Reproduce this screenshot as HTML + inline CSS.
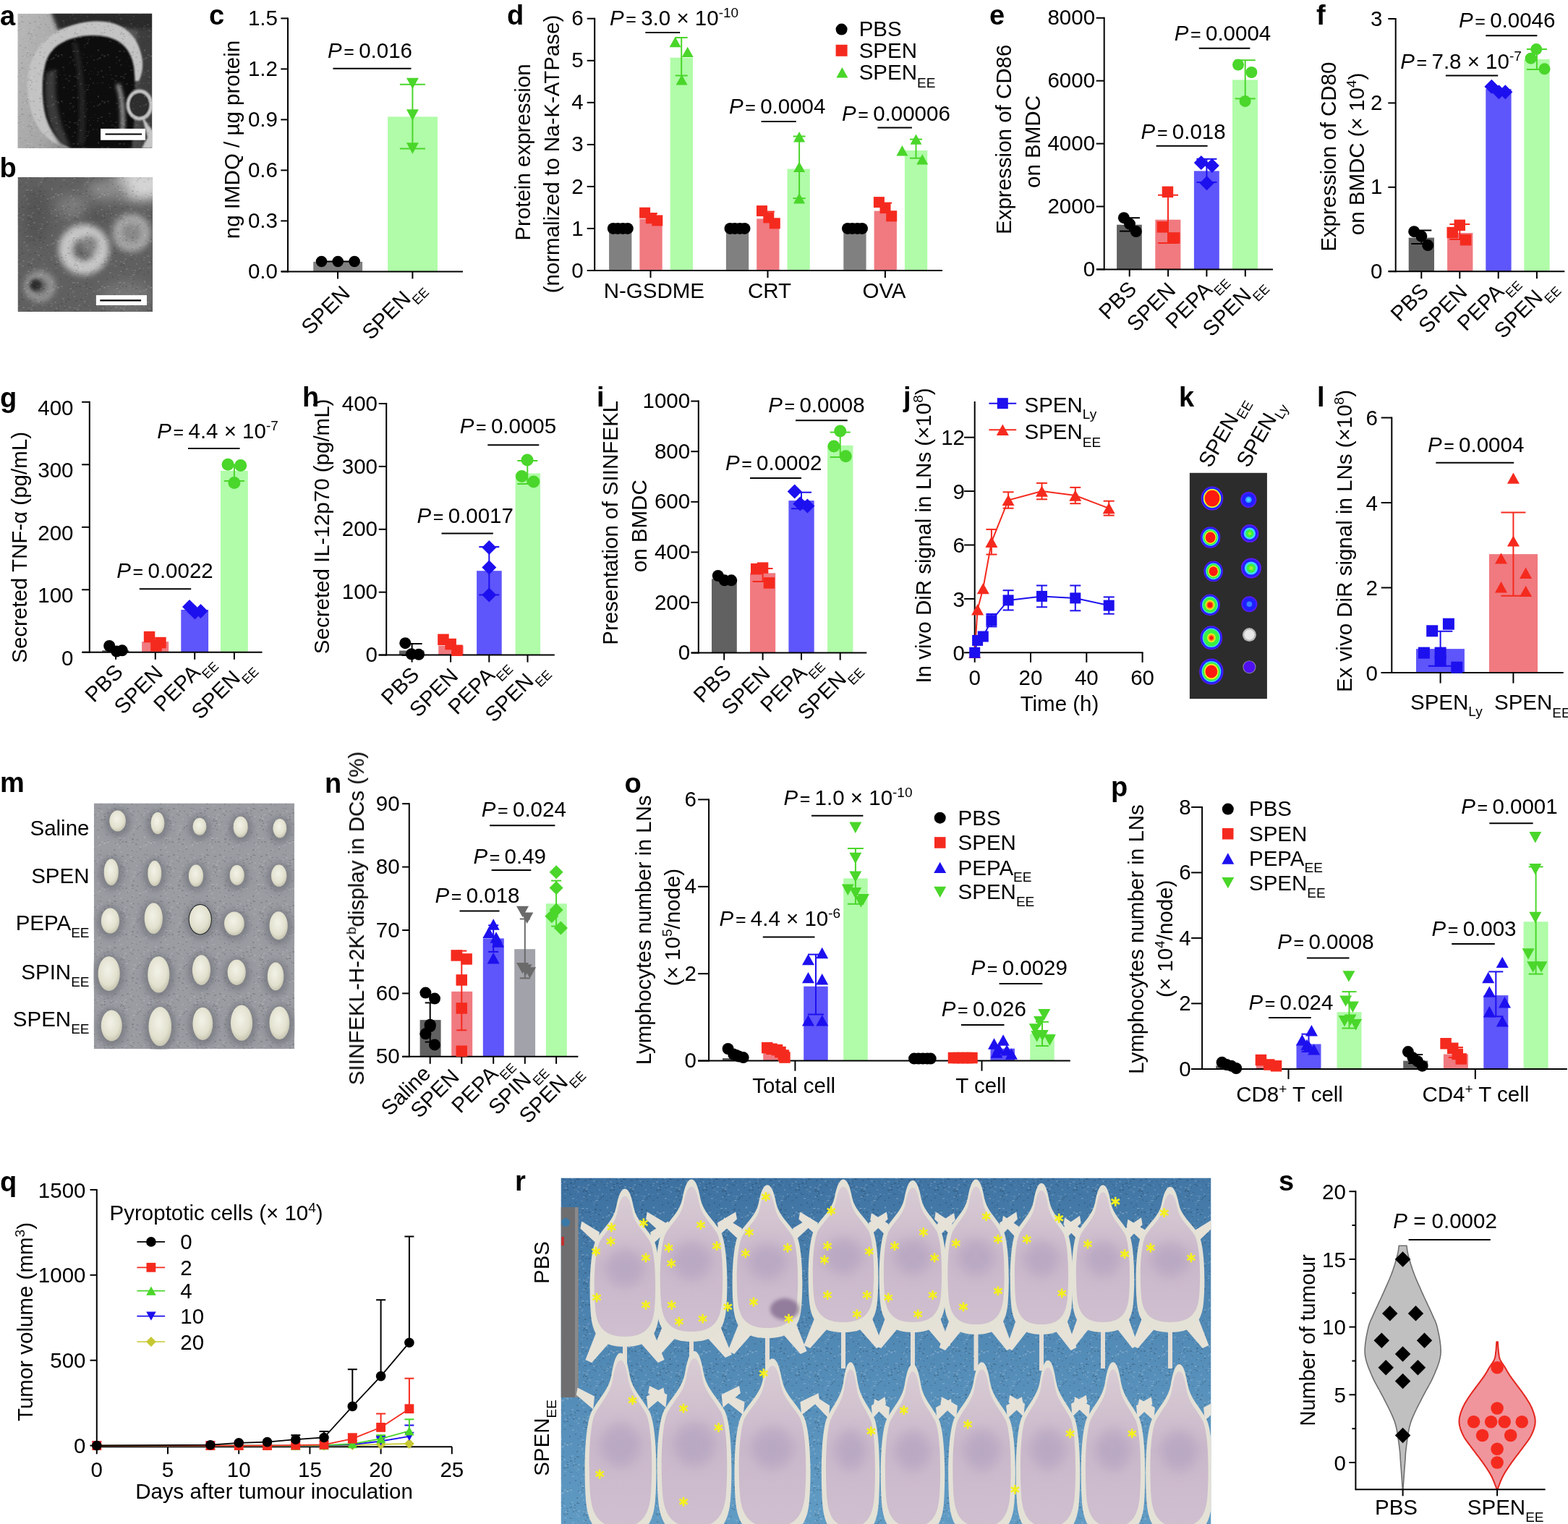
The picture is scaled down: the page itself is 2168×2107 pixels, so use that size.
<!DOCTYPE html>
<html><head><meta charset="utf-8"><title>Figure</title>
<style>
html,body{margin:0;padding:0;background:#fff;}
body{width:2168px;height:2107px;overflow:hidden;}
svg{display:block;font-family:"Liberation Sans",Arial,Helvetica,sans-serif;}
</style></head><body>
<svg xmlns="http://www.w3.org/2000/svg" width="2168" height="2107" viewBox="0 0 2168 2107">
<defs>
<clipPath id="clipA"><rect x="24.3" y="18.8" width="185.9" height="186.1"/></clipPath>
<clipPath id="clipB"><rect x="24.5" y="245" width="186.7" height="186.1"/></clipPath>
<clipPath id="clipM"><rect x="129.8" y="1110.4" width="277.3" height="339.8"/></clipPath>
<clipPath id="clipR"><rect x="775.5" y="1628.5" width="899" height="478.5"/></clipPath>
<linearGradient id="gA" x1="0" y1="0" x2="1" y2="0.3">
<stop offset="0" stop-color="#b8b8b8"/><stop offset="0.45" stop-color="#a4a4a4"/><stop offset="0.8" stop-color="#5a5a5a"/><stop offset="1" stop-color="#4a4a4a"/></linearGradient>
<radialGradient id="gNode" cx="0.45" cy="0.4" r="0.6">
<stop offset="0" stop-color="#f2f2e8"/><stop offset="0.7" stop-color="#e2e1cf"/><stop offset="1" stop-color="#c8c6b2"/></radialGradient>
<linearGradient id="gBlue" x1="0" y1="0" x2="0.15" y2="1">
<stop offset="0" stop-color="#3c70a0"/><stop offset="0.5" stop-color="#5088b4"/><stop offset="1" stop-color="#609bc4"/></linearGradient>
<linearGradient id="gMouse" x1="0" y1="0" x2="0" y2="1">
<stop offset="0" stop-color="#d9ccd4"/><stop offset="0.5" stop-color="#cab8cb"/><stop offset="1" stop-color="#cfbfcf"/></linearGradient>
<filter id="blur1" x="-20%" y="-20%" width="140%" height="140%"><feGaussianBlur stdDeviation="1.2"/></filter>
<filter id="blur2" x="-30%" y="-30%" width="160%" height="160%"><feGaussianBlur stdDeviation="2.5"/></filter>
<filter id="blur3" x="-30%" y="-30%" width="160%" height="160%"><feGaussianBlur stdDeviation="4"/></filter>
<filter id="blur6" x="-50%" y="-50%" width="200%" height="200%"><feGaussianBlur stdDeviation="8"/></filter>
<pattern id="noise" width="64" height="64" patternUnits="userSpaceOnUse">
<rect width="64" height="64" fill="none"/>
<rect x="15" y="37" width="3" height="1" fill="#000" opacity="0.5"/>
<rect x="58" y="38" width="2" height="1" fill="#fff" opacity="0.5"/>
<rect x="58" y="53" width="2" height="2" fill="#fff" opacity="0.5"/>
<rect x="12" y="45" width="2" height="2" fill="#000" opacity="0.5"/>
<rect x="40" y="55" width="1" height="1" fill="#fff" opacity="0.5"/>
<rect x="55" y="59" width="3" height="2" fill="#fff" opacity="0.5"/>
<rect x="42" y="49" width="1" height="1" fill="#fff" opacity="0.5"/>
<rect x="19" y="49" width="1" height="2" fill="#000" opacity="0.5"/>
<rect x="38" y="46" width="2" height="2" fill="#000" opacity="0.5"/>
<rect x="46" y="51" width="3" height="2" fill="#fff" opacity="0.5"/>
<rect x="56" y="23" width="1" height="1" fill="#fff" opacity="0.5"/>
<rect x="31" y="13" width="2" height="2" fill="#000" opacity="0.5"/>
<rect x="26" y="32" width="2" height="2" fill="#000" opacity="0.5"/>
<rect x="37" y="14" width="2" height="1" fill="#000" opacity="0.5"/>
<rect x="38" y="42" width="3" height="1" fill="#000" opacity="0.5"/>
<rect x="61" y="34" width="3" height="1" fill="#fff" opacity="0.5"/>
<rect x="40" y="53" width="3" height="2" fill="#000" opacity="0.5"/>
<rect x="7" y="4" width="2" height="2" fill="#fff" opacity="0.5"/>
<rect x="22" y="51" width="1" height="2" fill="#fff" opacity="0.5"/>
<rect x="1" y="18" width="2" height="2" fill="#fff" opacity="0.5"/>
<rect x="2" y="38" width="3" height="1" fill="#000" opacity="0.5"/>
<rect x="45" y="37" width="2" height="2" fill="#fff" opacity="0.5"/>
<rect x="2" y="19" width="1" height="1" fill="#fff" opacity="0.5"/>
<rect x="38" y="34" width="1" height="1" fill="#000" opacity="0.5"/>
<rect x="18" y="39" width="2" height="1" fill="#fff" opacity="0.5"/>
<rect x="62" y="55" width="2" height="2" fill="#000" opacity="0.5"/>
<rect x="61" y="8" width="2" height="2" fill="#000" opacity="0.5"/>
<rect x="55" y="33" width="2" height="1" fill="#000" opacity="0.5"/>
<rect x="27" y="40" width="3" height="1" fill="#000" opacity="0.5"/>
<rect x="27" y="62" width="2" height="2" fill="#000" opacity="0.5"/>
<rect x="0" y="50" width="2" height="2" fill="#fff" opacity="0.5"/>
<rect x="24" y="39" width="3" height="1" fill="#fff" opacity="0.5"/>
<rect x="40" y="40" width="2" height="2" fill="#000" opacity="0.5"/>
<rect x="43" y="58" width="2" height="2" fill="#000" opacity="0.5"/>
<rect x="1" y="37" width="1" height="1" fill="#000" opacity="0.5"/>
<rect x="16" y="40" width="2" height="2" fill="#000" opacity="0.5"/>
<rect x="11" y="23" width="1" height="2" fill="#000" opacity="0.5"/>
<rect x="54" y="38" width="2" height="2" fill="#000" opacity="0.5"/>
<rect x="6" y="49" width="1" height="1" fill="#000" opacity="0.5"/>
<rect x="32" y="14" width="3" height="2" fill="#fff" opacity="0.5"/>
<rect x="20" y="11" width="3" height="2" fill="#fff" opacity="0.5"/>
<rect x="6" y="38" width="2" height="2" fill="#fff" opacity="0.5"/>
<rect x="28" y="51" width="1" height="1" fill="#000" opacity="0.5"/>
<rect x="47" y="41" width="1" height="2" fill="#000" opacity="0.5"/>
<rect x="14" y="50" width="1" height="1" fill="#fff" opacity="0.5"/>
<rect x="20" y="51" width="3" height="1" fill="#000" opacity="0.5"/>
<rect x="21" y="51" width="3" height="1" fill="#000" opacity="0.5"/>
<rect x="37" y="8" width="2" height="2" fill="#000" opacity="0.5"/>
<rect x="29" y="22" width="3" height="2" fill="#000" opacity="0.5"/>
<rect x="26" y="36" width="2" height="1" fill="#000" opacity="0.5"/>
<rect x="9" y="12" width="1" height="2" fill="#000" opacity="0.5"/>
<rect x="35" y="60" width="3" height="1" fill="#fff" opacity="0.5"/>
<rect x="47" y="29" width="3" height="2" fill="#000" opacity="0.5"/>
<rect x="56" y="14" width="1" height="2" fill="#fff" opacity="0.5"/>
<rect x="51" y="15" width="1" height="1" fill="#fff" opacity="0.5"/>
<rect x="57" y="56" width="2" height="1" fill="#fff" opacity="0.5"/>
<rect x="30" y="47" width="1" height="1" fill="#000" opacity="0.5"/>
<rect x="15" y="42" width="1" height="2" fill="#fff" opacity="0.5"/>
<rect x="60" y="58" width="3" height="1" fill="#000" opacity="0.5"/>
<rect x="8" y="16" width="3" height="2" fill="#fff" opacity="0.5"/>
<rect x="22" y="14" width="1" height="1" fill="#fff" opacity="0.5"/>
<rect x="10" y="15" width="2" height="1" fill="#fff" opacity="0.5"/>
<rect x="31" y="40" width="3" height="2" fill="#fff" opacity="0.5"/>
<rect x="48" y="17" width="1" height="2" fill="#000" opacity="0.5"/>
<rect x="3" y="30" width="2" height="1" fill="#fff" opacity="0.5"/>
<rect x="49" y="8" width="1" height="1" fill="#fff" opacity="0.5"/>
<rect x="4" y="30" width="1" height="1" fill="#000" opacity="0.5"/>
<rect x="20" y="10" width="2" height="1" fill="#000" opacity="0.5"/>
<rect x="24" y="41" width="2" height="2" fill="#000" opacity="0.5"/>
<rect x="16" y="12" width="2" height="2" fill="#fff" opacity="0.5"/>
<rect x="8" y="35" width="1" height="2" fill="#fff" opacity="0.5"/>
<rect x="36" y="11" width="1" height="2" fill="#000" opacity="0.5"/>
<rect x="38" y="41" width="3" height="2" fill="#fff" opacity="0.5"/>
<rect x="39" y="56" width="2" height="1" fill="#000" opacity="0.5"/>
<rect x="40" y="31" width="3" height="2" fill="#000" opacity="0.5"/>
<rect x="60" y="44" width="2" height="2" fill="#fff" opacity="0.5"/>
<rect x="15" y="13" width="3" height="2" fill="#fff" opacity="0.5"/>
<rect x="51" y="27" width="1" height="2" fill="#fff" opacity="0.5"/>
<rect x="56" y="1" width="2" height="2" fill="#000" opacity="0.5"/>
<rect x="7" y="29" width="3" height="1" fill="#000" opacity="0.5"/>
<rect x="42" y="6" width="3" height="2" fill="#fff" opacity="0.5"/>
<rect x="51" y="37" width="3" height="1" fill="#000" opacity="0.5"/>
<rect x="9" y="15" width="2" height="1" fill="#fff" opacity="0.5"/>
<rect x="36" y="6" width="3" height="2" fill="#fff" opacity="0.5"/>
<rect x="52" y="1" width="2" height="1" fill="#fff" opacity="0.5"/>
<rect x="54" y="7" width="3" height="2" fill="#000" opacity="0.5"/>
<rect x="37" y="19" width="1" height="1" fill="#fff" opacity="0.5"/>
<rect x="6" y="35" width="3" height="1" fill="#fff" opacity="0.5"/>
<rect x="35" y="20" width="3" height="1" fill="#fff" opacity="0.5"/>
<rect x="15" y="11" width="3" height="1" fill="#000" opacity="0.5"/>
<rect x="39" y="44" width="2" height="2" fill="#000" opacity="0.5"/>
<rect x="38" y="25" width="2" height="2" fill="#fff" opacity="0.5"/>
<rect x="24" y="32" width="1" height="2" fill="#fff" opacity="0.5"/>
<rect x="26" y="44" width="3" height="2" fill="#fff" opacity="0.5"/>
<rect x="41" y="25" width="1" height="1" fill="#fff" opacity="0.5"/>
<rect x="31" y="47" width="2" height="2" fill="#fff" opacity="0.5"/>
<rect x="8" y="17" width="1" height="1" fill="#000" opacity="0.5"/>
<rect x="59" y="14" width="3" height="2" fill="#000" opacity="0.5"/>
<rect x="38" y="54" width="3" height="2" fill="#fff" opacity="0.5"/>
<rect x="19" y="1" width="2" height="2" fill="#000" opacity="0.5"/>
<rect x="12" y="11" width="3" height="2" fill="#fff" opacity="0.5"/>
<rect x="20" y="30" width="1" height="2" fill="#000" opacity="0.5"/>
<rect x="44" y="38" width="1" height="2" fill="#fff" opacity="0.5"/>
<rect x="30" y="46" width="1" height="2" fill="#fff" opacity="0.5"/>
<rect x="29" y="58" width="1" height="1" fill="#fff" opacity="0.5"/>
<rect x="61" y="13" width="2" height="1" fill="#fff" opacity="0.5"/>
<rect x="49" y="16" width="1" height="1" fill="#fff" opacity="0.5"/>
<rect x="57" y="59" width="2" height="1" fill="#fff" opacity="0.5"/>
<rect x="20" y="11" width="2" height="1" fill="#fff" opacity="0.5"/>
<rect x="7" y="5" width="2" height="2" fill="#fff" opacity="0.5"/>
<rect x="22" y="28" width="3" height="2" fill="#fff" opacity="0.5"/>
<rect x="1" y="21" width="2" height="2" fill="#000" opacity="0.5"/>
<rect x="31" y="4" width="1" height="2" fill="#000" opacity="0.5"/>
<rect x="8" y="34" width="2" height="1" fill="#000" opacity="0.5"/>
<rect x="4" y="42" width="2" height="1" fill="#000" opacity="0.5"/>
<rect x="56" y="33" width="2" height="1" fill="#000" opacity="0.5"/>
<rect x="43" y="49" width="2" height="2" fill="#000" opacity="0.5"/>
<rect x="42" y="43" width="3" height="2" fill="#fff" opacity="0.5"/>
<rect x="48" y="60" width="2" height="1" fill="#000" opacity="0.5"/>
<rect x="32" y="22" width="1" height="2" fill="#fff" opacity="0.5"/>
<rect x="41" y="41" width="3" height="1" fill="#fff" opacity="0.5"/>
<rect x="23" y="56" width="3" height="2" fill="#fff" opacity="0.5"/>
<rect x="6" y="59" width="3" height="1" fill="#000" opacity="0.5"/>
<rect x="41" y="46" width="3" height="2" fill="#000" opacity="0.5"/>
<rect x="41" y="11" width="2" height="2" fill="#000" opacity="0.5"/>
<rect x="50" y="11" width="3" height="1" fill="#fff" opacity="0.5"/>
<rect x="45" y="11" width="3" height="2" fill="#000" opacity="0.5"/>
<rect x="6" y="17" width="2" height="2" fill="#fff" opacity="0.5"/>
<rect x="55" y="8" width="1" height="2" fill="#000" opacity="0.5"/>
<rect x="15" y="44" width="3" height="2" fill="#000" opacity="0.5"/>
<rect x="60" y="25" width="2" height="1" fill="#000" opacity="0.5"/>
<rect x="31" y="54" width="1" height="1" fill="#000" opacity="0.5"/>
<rect x="37" y="6" width="3" height="1" fill="#fff" opacity="0.5"/>
<rect x="11" y="44" width="1" height="2" fill="#000" opacity="0.5"/>
<rect x="52" y="62" width="3" height="1" fill="#fff" opacity="0.5"/>
<rect x="55" y="25" width="1" height="1" fill="#fff" opacity="0.5"/>
<rect x="12" y="55" width="2" height="2" fill="#000" opacity="0.5"/>
<rect x="1" y="53" width="2" height="2" fill="#000" opacity="0.5"/>
<rect x="20" y="35" width="3" height="2" fill="#000" opacity="0.5"/>
<rect x="62" y="33" width="3" height="2" fill="#000" opacity="0.5"/>
<rect x="1" y="38" width="1" height="1" fill="#fff" opacity="0.5"/>
<rect x="49" y="48" width="3" height="1" fill="#000" opacity="0.5"/>
<rect x="11" y="33" width="3" height="2" fill="#fff" opacity="0.5"/>
<rect x="12" y="50" width="3" height="1" fill="#fff" opacity="0.5"/>
<rect x="52" y="32" width="3" height="2" fill="#fff" opacity="0.5"/>
<rect x="36" y="18" width="3" height="1" fill="#fff" opacity="0.5"/>
<rect x="29" y="50" width="1" height="1" fill="#fff" opacity="0.5"/>
<rect x="23" y="39" width="1" height="1" fill="#000" opacity="0.5"/>
<rect x="34" y="1" width="2" height="2" fill="#000" opacity="0.5"/>
<rect x="55" y="22" width="3" height="1" fill="#fff" opacity="0.5"/>
<rect x="54" y="53" width="3" height="1" fill="#fff" opacity="0.5"/>
<rect x="47" y="21" width="1" height="1" fill="#fff" opacity="0.5"/>
<rect x="27" y="44" width="1" height="2" fill="#000" opacity="0.5"/>
<rect x="6" y="50" width="1" height="2" fill="#fff" opacity="0.5"/>
<rect x="54" y="12" width="3" height="1" fill="#000" opacity="0.5"/>
<rect x="31" y="30" width="3" height="1" fill="#000" opacity="0.5"/>
<rect x="13" y="41" width="2" height="2" fill="#fff" opacity="0.5"/>
<rect x="29" y="29" width="3" height="2" fill="#000" opacity="0.5"/>
<rect x="11" y="29" width="1" height="2" fill="#000" opacity="0.5"/>
<rect x="54" y="23" width="2" height="2" fill="#000" opacity="0.5"/>
</pattern>
</defs>
<rect width="2168" height="2107" fill="#fff"/>
<text x="0" y="34.6" font-size="38" font-weight="bold">a</text>
<g clip-path="url(#clipA)">
<rect x="24.3" y="18.8" width="185.89999999999998" height="186.1" fill="url(#gA)"/>
<g filter="url(#blur2)">
<path d="M70,15 L215,15 L215,45 C180,38 120,34 80,42 Z" fill="#2c2c2c"/>
<path d="M190,40 L215,40 L215,205 L195,205 Z" fill="#3c3c3c"/>
</g>
<path d="M38,122 C35,78 62,38 122,30 C160,26 188,40 196,78 C199,92 196,104 192,112 L186,112 L120,205 L95,205 C58,196 40,166 38,122 Z" fill="#c3c3c3" filter="url(#blur1)"/>
<path d="M62,92 C68,60 98,50 128,49 C160,49 180,62 185,92 C189,125 186,170 182,205 L98,205 C80,196 65,176 61,150 C58,128 58,108 62,92 Z" fill="#111" filter="url(#blur1)"/>
<path d="M64,100 C60,130 62,170 84,200 L98,203 C80,170 74,130 78,96 Z" fill="#3a3a3a" filter="url(#blur2)"/>
<path d="M100,60 C110,100 112,150 108,200 L116,200 C120,150 116,100 106,58 Z" fill="#262626" filter="url(#blur2)"/>
<path d="M160,118 C166,130 168,160 166,185 L172,185 C174,160 172,130 165,115 Z" fill="#9a9a9a" filter="url(#blur2)"/>
<ellipse cx="193" cy="145" rx="16" ry="19" fill="none" stroke="#c8c8c8" stroke-width="5" filter="url(#blur1)"/>
<ellipse cx="193" cy="145" rx="12.5" ry="15.5" fill="#2e2e2e"/>
<path d="M196,160 L212,182 L212,205 L196,205 L204,190 Z" fill="#c6c6c6" filter="url(#blur1)"/>
<rect x="24.3" y="18.8" width="185.89999999999998" height="186.1" fill="url(#noise)" opacity="0.18"/>
</g>
<rect x="139.1" y="177.9" width="61.9" height="15.8" fill="#fff"/>
<line x1="145.6" y1="185.5" x2="196.1" y2="185.5" stroke="#000" stroke-width="2.2"/>
<text x="-0.5" y="245" font-size="38" font-weight="bold">b</text>
<g clip-path="url(#clipB)">
<rect x="24.5" y="245" width="186.7" height="186.10000000000002" fill="#606060"/>
<g filter="url(#blur6)">
<ellipse cx="195" cy="255" rx="40" ry="22" fill="#d4d4d4"/>
<ellipse cx="150" cy="262" rx="30" ry="14" fill="#8a8a8a"/>
<ellipse cx="100" cy="285" rx="22" ry="16" fill="#7c7c7c"/>
<ellipse cx="50" cy="300" rx="18" ry="40" fill="#555"/>
<ellipse cx="175" cy="410" rx="35" ry="22" fill="#747474"/>
<ellipse cx="130" cy="300" rx="18" ry="12" fill="#545454"/>
</g>
<g filter="url(#blur3)">
<circle cx="116" cy="345" r="25" fill="none" stroke="#c6c6c6" stroke-width="20"/>
<circle cx="124" cy="338" r="12" fill="#828282"/>
<circle cx="182" cy="322" r="19" fill="none" stroke="#a6a6a6" stroke-width="15"/>
<circle cx="182" cy="322" r="10" fill="#8a8a8a"/>
<circle cx="55" cy="396" r="16" fill="none" stroke="#969696" stroke-width="11"/>
</g>
<circle cx="49" cy="394" r="8" fill="#2a2a2a" filter="url(#blur2)"/>
<rect x="24.5" y="245" width="186.7" height="186.10000000000002" fill="url(#noise)" opacity="0.22"/>
</g>
<rect x="132.9" y="408.1" width="70.1" height="13.9" fill="#fff"/>
<line x1="138.3" y1="415.4" x2="195.1" y2="415.4" stroke="#000" stroke-width="2.2"/>
<text x="289" y="34.3" font-size="38" font-weight="bold">c</text>
<rect x="433.2" y="361.9" width="67.9" height="13.5" fill="#808080"/>
<rect x="536.1" y="161.4" width="68.9" height="214" fill="#b0fca8"/>
<line x1="398" y1="24.4" x2="398" y2="376.4" stroke="#000" stroke-width="2"/>
<line x1="388.3" y1="375.4" x2="398" y2="375.4" stroke="#000" stroke-width="2"/>
<text x="383.9" y="385" font-size="29.5" text-anchor="end">0.0</text>
<line x1="388.3" y1="305.4" x2="398" y2="305.4" stroke="#000" stroke-width="2"/>
<text x="383.9" y="315" font-size="29.5" text-anchor="end">0.3</text>
<line x1="388.3" y1="235.4" x2="398" y2="235.4" stroke="#000" stroke-width="2"/>
<text x="383.9" y="245" font-size="29.5" text-anchor="end">0.6</text>
<line x1="388.3" y1="165.4" x2="398" y2="165.4" stroke="#000" stroke-width="2"/>
<text x="383.9" y="175" font-size="29.5" text-anchor="end">0.9</text>
<line x1="388.3" y1="95.4" x2="398" y2="95.4" stroke="#000" stroke-width="2"/>
<text x="383.9" y="105" font-size="29.5" text-anchor="end">1.2</text>
<line x1="388.3" y1="25.4" x2="398" y2="25.4" stroke="#000" stroke-width="2"/>
<text x="383.9" y="35" font-size="29.5" text-anchor="end">1.5</text>
<line x1="389" y1="375.4" x2="640" y2="375.4" stroke="#000" stroke-width="2"/>
<line x1="467" y1="375.4" x2="467" y2="385.4" stroke="#000" stroke-width="2"/>
<line x1="570.4" y1="375.4" x2="570.4" y2="385.4" stroke="#000" stroke-width="2"/>
<line x1="444.5" y1="361.5" x2="490" y2="361.5" stroke="#000" stroke-width="2"/>
<circle cx="444.5" cy="361.5" r="7.8" fill="#000"/>
<circle cx="467.2" cy="361.5" r="7.8" fill="#000"/>
<circle cx="490.1" cy="361.5" r="7.8" fill="#000"/>
<line x1="570.4" y1="116.8" x2="570.4" y2="205.6" stroke="#4ad62a" stroke-width="2"/>
<line x1="552.9" y1="116.8" x2="587.9" y2="116.8" stroke="#4ad62a" stroke-width="2"/>
<line x1="552.9" y1="205.6" x2="587.9" y2="205.6" stroke="#4ad62a" stroke-width="2"/>
<polygon points="561.9,107.8 578.9,107.8 570.4,123.1" fill="#4ad62a"/>
<polygon points="561.9,151.3 578.9,151.3 570.4,166.7" fill="#4ad62a"/>
<polygon points="561.9,197.3 578.9,197.3 570.4,212.7" fill="#4ad62a"/>
<text x="453" y="79.5" font-size="29.5"><tspan font-style="italic">P</tspan><tspan dx="2.6" font-size="25">=</tspan><tspan dx="6.3">0.016</tspan></text>
<line x1="460.4" y1="94.7" x2="568.5" y2="94.7" stroke="#000" stroke-width="2"/>
<text transform="translate(485.5,407.5) rotate(-45)" font-size="29.5" text-anchor="end">SPEN</text>
<text transform="translate(569.5,414.5) rotate(-45)" font-size="29.5" text-anchor="end">SPEN</text>
<text transform="translate(569.5,414.5) rotate(-45)" x="0" y="11" font-size="18">EE</text>
<text transform="translate(331.4,193) rotate(-90)" font-size="29.5" text-anchor="middle">ng IMDQ / µg protein</text>
<text x="701" y="34.3" font-size="38" font-weight="bold">d</text>
<rect x="842.1" y="315.9" width="31.3" height="58.1" fill="#808080"/>
<rect x="884.4" y="302.6" width="31.3" height="71.4" fill="#f07a80"/>
<rect x="926.7" y="79.7" width="31.3" height="294.3" fill="#b0fca8"/>
<rect x="1003.9" y="315.9" width="31.3" height="58.1" fill="#808080"/>
<rect x="1046.2" y="302.4" width="31.3" height="71.6" fill="#f07a80"/>
<rect x="1088.5" y="233.5" width="31.3" height="140.5" fill="#b0fca8"/>
<rect x="1166.3" y="315.9" width="31.3" height="58.1" fill="#808080"/>
<rect x="1208.6" y="291.6" width="31.3" height="82.4" fill="#f07a80"/>
<rect x="1250.9" y="208" width="31.3" height="166" fill="#b0fca8"/>
<line x1="822.2" y1="24.7" x2="822.2" y2="375" stroke="#000" stroke-width="2"/>
<line x1="811.7" y1="374" x2="822.2" y2="374" stroke="#000" stroke-width="2"/>
<text x="806.7" y="383.6" font-size="29.5" text-anchor="end">0</text>
<line x1="811.7" y1="315.9" x2="822.2" y2="315.9" stroke="#000" stroke-width="2"/>
<text x="806.7" y="325.5" font-size="29.5" text-anchor="end">1</text>
<line x1="811.7" y1="257.9" x2="822.2" y2="257.9" stroke="#000" stroke-width="2"/>
<text x="806.7" y="267.5" font-size="29.5" text-anchor="end">2</text>
<line x1="811.7" y1="199.9" x2="822.2" y2="199.9" stroke="#000" stroke-width="2"/>
<text x="806.7" y="209.4" font-size="29.5" text-anchor="end">3</text>
<line x1="811.7" y1="141.8" x2="822.2" y2="141.8" stroke="#000" stroke-width="2"/>
<text x="806.7" y="151.4" font-size="29.5" text-anchor="end">4</text>
<line x1="811.7" y1="83.8" x2="822.2" y2="83.8" stroke="#000" stroke-width="2"/>
<text x="806.7" y="93.3" font-size="29.5" text-anchor="end">5</text>
<line x1="811.7" y1="25.7" x2="822.2" y2="25.7" stroke="#000" stroke-width="2"/>
<text x="806.7" y="35.3" font-size="29.5" text-anchor="end">6</text>
<line x1="812.7" y1="374" x2="1303" y2="374" stroke="#000" stroke-width="2"/>
<line x1="899.5" y1="374" x2="899.5" y2="384" stroke="#000" stroke-width="2"/>
<line x1="1061.5" y1="374" x2="1061.5" y2="384" stroke="#000" stroke-width="2"/>
<line x1="1223.9" y1="374" x2="1223.9" y2="384" stroke="#000" stroke-width="2"/>
<circle cx="847.8" cy="315.9" r="8" fill="#000"/>
<circle cx="854.2" cy="315.9" r="8" fill="#000"/>
<circle cx="861.2" cy="315.9" r="8" fill="#000"/>
<circle cx="867.8" cy="315.9" r="8" fill="#000"/>
<circle cx="1009.5" cy="315.9" r="8" fill="#000"/>
<circle cx="1016" cy="315.9" r="8" fill="#000"/>
<circle cx="1023" cy="315.9" r="8" fill="#000"/>
<circle cx="1029.5" cy="315.9" r="8" fill="#000"/>
<circle cx="1172" cy="315.9" r="8" fill="#000"/>
<circle cx="1178.5" cy="315.9" r="8" fill="#000"/>
<circle cx="1185.5" cy="315.9" r="8" fill="#000"/>
<circle cx="1192" cy="315.9" r="8" fill="#000"/>
<line x1="891" y1="295.2" x2="909" y2="295.2" stroke="#f52a1e" stroke-width="2"/>
<rect x="884.1" y="286.7" width="15" height="15" fill="#f52a1e"/>
<rect x="892.8" y="294.2" width="15" height="15" fill="#f52a1e"/>
<rect x="901.3" y="297.4" width="15" height="15" fill="#f52a1e"/>
<line x1="1052.9" y1="292.6" x2="1070.9" y2="292.6" stroke="#f52a1e" stroke-width="2"/>
<rect x="1046" y="284.1" width="15" height="15" fill="#f52a1e"/>
<rect x="1055.3" y="293.4" width="15" height="15" fill="#f52a1e"/>
<rect x="1063.8" y="301.3" width="15" height="15" fill="#f52a1e"/>
<line x1="1215.2" y1="280.6" x2="1233.2" y2="280.6" stroke="#f52a1e" stroke-width="2"/>
<rect x="1207.9" y="272.1" width="15" height="15" fill="#f52a1e"/>
<rect x="1216.5" y="280.1" width="15" height="15" fill="#f52a1e"/>
<rect x="1225.2" y="291.3" width="15" height="15" fill="#f52a1e"/>
<line x1="942.2" y1="52" x2="942.2" y2="104.5" stroke="#4ad62a" stroke-width="2"/>
<line x1="933.7" y1="52" x2="950.7" y2="52" stroke="#4ad62a" stroke-width="2"/>
<line x1="933.7" y1="104.5" x2="950.7" y2="104.5" stroke="#4ad62a" stroke-width="2"/>
<polygon points="925.6,65.2 941.6,65.2 933.6,50.8" fill="#4ad62a"/>
<polygon points="942.7,79.1 958.7,79.1 950.7,64.7" fill="#4ad62a"/>
<polygon points="934.6,117.5 950.6,117.5 942.6,103.1" fill="#4ad62a"/>
<line x1="1105.1" y1="188.5" x2="1105.1" y2="274.2" stroke="#4ad62a" stroke-width="2"/>
<line x1="1096.6" y1="188.5" x2="1113.6" y2="188.5" stroke="#4ad62a" stroke-width="2"/>
<line x1="1096.6" y1="274.2" x2="1113.6" y2="274.2" stroke="#4ad62a" stroke-width="2"/>
<polygon points="1097.1,196.4 1113.1,196.4 1105.1,182" fill="#4ad62a"/>
<polygon points="1097.1,238 1113.1,238 1105.1,223.6" fill="#4ad62a"/>
<polygon points="1097.1,281.4 1113.1,281.4 1105.1,267" fill="#4ad62a"/>
<line x1="1266.5" y1="192.6" x2="1266.5" y2="218.7" stroke="#4ad62a" stroke-width="2"/>
<line x1="1258" y1="192.6" x2="1275" y2="192.6" stroke="#4ad62a" stroke-width="2"/>
<line x1="1258" y1="218.7" x2="1275" y2="218.7" stroke="#4ad62a" stroke-width="2"/>
<polygon points="1258.5,199.8 1274.5,199.8 1266.5,185.4" fill="#4ad62a"/>
<polygon points="1239.4,215.5 1255.4,215.5 1247.4,201.1" fill="#4ad62a"/>
<polygon points="1267.2,227.6 1283.2,227.6 1275.2,213.2" fill="#4ad62a"/>
<text x="843" y="34.8" font-size="29.5"><tspan font-style="italic">P</tspan><tspan dx="2.6" font-size="25">=</tspan><tspan dx="6.3">3.0 × 10</tspan><tspan dy="-11" font-size="19">-10</tspan></text>
<line x1="892.4" y1="44.9" x2="940.1" y2="44.9" stroke="#000" stroke-width="2"/>
<text x="1008" y="156.5" font-size="29.5"><tspan font-style="italic">P</tspan><tspan dx="2.6" font-size="25">=</tspan><tspan dx="6.3">0.0004</tspan></text>
<line x1="1052.6" y1="168" x2="1100.7" y2="168" stroke="#000" stroke-width="2"/>
<text x="1164" y="166.5" font-size="29.5"><tspan font-style="italic">P</tspan><tspan dx="2.6" font-size="25">=</tspan><tspan dx="6.3">0.00006</tspan></text>
<line x1="1213.4" y1="176.6" x2="1260.9" y2="176.6" stroke="#000" stroke-width="2"/>
<circle cx="1163.6" cy="40.6" r="8" fill="#000"/>
<text x="1187.7" y="50.2" font-size="29.5">PBS</text>
<rect x="1155.6" y="61.8" width="16" height="16" fill="#f52a1e"/>
<text x="1187.7" y="79.6" font-size="29.5">SPEN</text>
<polygon points="1156.4,107.5 1172.4,107.5 1164.4,93.1" fill="#4ad62a"/>
<text x="1187.7" y="110" font-size="29.5">SPEN<tspan dy="11" font-size="19">EE</tspan></text>
<text x="904.4" y="412.4" font-size="29.5" text-anchor="middle">N-GSDME</text>
<text x="1064" y="412.4" font-size="29.5" text-anchor="middle">CRT</text>
<text x="1222.5" y="412.4" font-size="29.5" text-anchor="middle">OVA</text>
<text transform="translate(732.5,210.5) rotate(-90)" font-size="29.5" text-anchor="middle">Protein expression</text>
<text transform="translate(772.5,213) rotate(-90)" font-size="29.5" text-anchor="middle">(normalized to Na-K-ATPase)</text>
<text x="1368" y="34" font-size="38" font-weight="bold">e</text>
<rect x="1544.1" y="310.7" width="34.7" height="61.7" fill="#616161"/>
<rect x="1597.3" y="303.7" width="35.1" height="68.7" fill="#f07a80"/>
<rect x="1650.9" y="236.4" width="34.9" height="136" fill="#5e55fb"/>
<rect x="1704" y="110.4" width="35" height="262" fill="#b0fca8"/>
<line x1="1526.7" y1="23.8" x2="1526.7" y2="373.4" stroke="#000" stroke-width="2"/>
<line x1="1515.7" y1="372.4" x2="1526.7" y2="372.4" stroke="#000" stroke-width="2"/>
<text x="1514.1" y="382" font-size="29.5" text-anchor="end">0</text>
<line x1="1515.7" y1="285.5" x2="1526.7" y2="285.5" stroke="#000" stroke-width="2"/>
<text x="1514.1" y="295.1" font-size="29.5" text-anchor="end">2000</text>
<line x1="1515.7" y1="198.6" x2="1526.7" y2="198.6" stroke="#000" stroke-width="2"/>
<text x="1514.1" y="208.2" font-size="29.5" text-anchor="end">4000</text>
<line x1="1515.7" y1="111.7" x2="1526.7" y2="111.7" stroke="#000" stroke-width="2"/>
<text x="1514.1" y="121.3" font-size="29.5" text-anchor="end">6000</text>
<line x1="1515.7" y1="24.8" x2="1526.7" y2="24.8" stroke="#000" stroke-width="2"/>
<text x="1514.1" y="34.4" font-size="29.5" text-anchor="end">8000</text>
<line x1="1516.7" y1="372.4" x2="1760" y2="372.4" stroke="#000" stroke-width="2"/>
<line x1="1561.7" y1="372.4" x2="1561.7" y2="382.4" stroke="#000" stroke-width="2"/>
<line x1="1615.1" y1="372.4" x2="1615.1" y2="382.4" stroke="#000" stroke-width="2"/>
<line x1="1668.4" y1="372.4" x2="1668.4" y2="382.4" stroke="#000" stroke-width="2"/>
<line x1="1721.8" y1="372.4" x2="1721.8" y2="382.4" stroke="#000" stroke-width="2"/>
<line x1="1562" y1="301.2" x2="1562" y2="319.6" stroke="#000" stroke-width="2"/>
<line x1="1548" y1="301.2" x2="1576" y2="301.2" stroke="#000" stroke-width="2"/>
<line x1="1548" y1="319.6" x2="1576" y2="319.6" stroke="#000" stroke-width="2"/>
<circle cx="1553.9" cy="301.2" r="8" fill="#000"/>
<circle cx="1562" cy="309.6" r="8" fill="#000"/>
<circle cx="1570.8" cy="320.1" r="8" fill="#000"/>
<line x1="1615" y1="269.7" x2="1615" y2="336" stroke="#f52a1e" stroke-width="2"/>
<line x1="1601" y1="269.7" x2="1629" y2="269.7" stroke="#f52a1e" stroke-width="2"/>
<line x1="1601" y1="336" x2="1629" y2="336" stroke="#f52a1e" stroke-width="2"/>
<rect x="1606.7" y="257.6" width="15.5" height="15.5" fill="#f52a1e"/>
<rect x="1599.7" y="306.1" width="15.5" height="15.5" fill="#f52a1e"/>
<rect x="1616" y="321.2" width="15.5" height="15.5" fill="#f52a1e"/>
<line x1="1668.4" y1="219.8" x2="1668.4" y2="252" stroke="#1d10ee" stroke-width="2"/>
<line x1="1654.4" y1="219.8" x2="1682.4" y2="219.8" stroke="#1d10ee" stroke-width="2"/>
<line x1="1654.4" y1="252" x2="1682.4" y2="252" stroke="#1d10ee" stroke-width="2"/>
<polygon points="1660.8,215.1 1670.8,225.1 1660.8,235.1 1650.8,225.1" fill="#1d10ee"/>
<polygon points="1675.9,218.9 1685.9,228.9 1675.9,238.9 1665.9,228.9" fill="#1d10ee"/>
<polygon points="1668.6,243.3 1678.6,253.3 1668.6,263.3 1658.6,253.3" fill="#1d10ee"/>
<line x1="1721.7" y1="83.2" x2="1721.7" y2="136.4" stroke="#4ad62a" stroke-width="2"/>
<line x1="1707.7" y1="83.2" x2="1735.7" y2="83.2" stroke="#4ad62a" stroke-width="2"/>
<line x1="1707.7" y1="136.4" x2="1735.7" y2="136.4" stroke="#4ad62a" stroke-width="2"/>
<circle cx="1712" cy="89.5" r="8" fill="#4ad62a"/>
<circle cx="1730.4" cy="100" r="8" fill="#4ad62a"/>
<circle cx="1721.6" cy="139.9" r="8" fill="#4ad62a"/>
<text x="1577.6" y="191.6" font-size="29.5"><tspan font-style="italic">P</tspan><tspan dx="2.6" font-size="25">=</tspan><tspan dx="6.3">0.018</tspan></text>
<line x1="1598.6" y1="201.7" x2="1669.6" y2="201.7" stroke="#000" stroke-width="2"/>
<text x="1623.8" y="56" font-size="29.5"><tspan font-style="italic">P</tspan><tspan dx="2.6" font-size="25">=</tspan><tspan dx="6.3">0.0004</tspan></text>
<line x1="1657.8" y1="66.8" x2="1728.4" y2="66.8" stroke="#000" stroke-width="2"/>
<text transform="translate(1573.2,401.4) rotate(-45)" font-size="29.5" text-anchor="end">PBS</text>
<text transform="translate(1627.1,402.9) rotate(-45)" font-size="29.5" text-anchor="end">SPEN</text>
<text transform="translate(1677.9,402.2) rotate(-45)" font-size="29.5" text-anchor="end">PEPA</text>
<text transform="translate(1677.9,402.2) rotate(-45)" x="0" y="11" font-size="18">EE</text>
<text transform="translate(1731.8,409.9) rotate(-45)" font-size="29.5" text-anchor="end">SPEN</text>
<text transform="translate(1731.8,409.9) rotate(-45)" x="0" y="11" font-size="18">EE</text>
<text transform="translate(1397.9,192.8) rotate(-90)" font-size="29.5" text-anchor="middle">Expression of CD86</text>
<text transform="translate(1437.9,196) rotate(-90)" font-size="29.5" text-anchor="middle">on BMDC</text>
<text x="1820" y="34" font-size="38" font-weight="bold">f</text>
<rect x="1947.7" y="328.6" width="35.3" height="46.6" fill="#616161"/>
<rect x="2001.1" y="322" width="35.3" height="53.2" fill="#f07a80"/>
<rect x="2054.3" y="123" width="35.3" height="252.2" fill="#5e55fb"/>
<rect x="2107.3" y="81.9" width="35.3" height="293.3" fill="#b0fca8"/>
<line x1="1929.7" y1="25" x2="1929.7" y2="376.2" stroke="#000" stroke-width="2"/>
<line x1="1919.3" y1="375.2" x2="1929.7" y2="375.2" stroke="#000" stroke-width="2"/>
<text x="1911.4" y="384.8" font-size="29.5" text-anchor="end">0</text>
<line x1="1919.3" y1="258.8" x2="1929.7" y2="258.8" stroke="#000" stroke-width="2"/>
<text x="1911.4" y="268.4" font-size="29.5" text-anchor="end">1</text>
<line x1="1919.3" y1="142.4" x2="1929.7" y2="142.4" stroke="#000" stroke-width="2"/>
<text x="1911.4" y="152" font-size="29.5" text-anchor="end">2</text>
<line x1="1919.3" y1="26" x2="1929.7" y2="26" stroke="#000" stroke-width="2"/>
<text x="1911.4" y="35.6" font-size="29.5" text-anchor="end">3</text>
<line x1="1920" y1="375.2" x2="2163.3" y2="375.2" stroke="#000" stroke-width="2"/>
<line x1="1965.3" y1="375.2" x2="1965.3" y2="385.2" stroke="#000" stroke-width="2"/>
<line x1="2018.3" y1="375.2" x2="2018.3" y2="385.2" stroke="#000" stroke-width="2"/>
<line x1="2071.7" y1="375.2" x2="2071.7" y2="385.2" stroke="#000" stroke-width="2"/>
<line x1="2124.9" y1="375.2" x2="2124.9" y2="385.2" stroke="#000" stroke-width="2"/>
<line x1="1965.3" y1="318.5" x2="1965.3" y2="337" stroke="#000" stroke-width="2"/>
<line x1="1951.3" y1="318.5" x2="1979.3" y2="318.5" stroke="#000" stroke-width="2"/>
<line x1="1951.3" y1="337" x2="1979.3" y2="337" stroke="#000" stroke-width="2"/>
<circle cx="1955.2" cy="320.2" r="8" fill="#000"/>
<circle cx="1965.3" cy="326.5" r="8" fill="#000"/>
<circle cx="1974.2" cy="339.1" r="8" fill="#000"/>
<line x1="2018.3" y1="310" x2="2018.3" y2="331" stroke="#f52a1e" stroke-width="2"/>
<line x1="2004.3" y1="310" x2="2032.3" y2="310" stroke="#f52a1e" stroke-width="2"/>
<line x1="2004.3" y1="331" x2="2032.3" y2="331" stroke="#f52a1e" stroke-width="2"/>
<rect x="2010.5" y="303.6" width="15.5" height="15.5" fill="#f52a1e"/>
<rect x="2000.5" y="313.8" width="15.5" height="15.5" fill="#f52a1e"/>
<rect x="2018.8" y="323.9" width="15.5" height="15.5" fill="#f52a1e"/>
<polygon points="2062.4,109.8 2072.4,119.8 2062.4,129.8 2052.4,119.8" fill="#1d10ee"/>
<polygon points="2072.5,117.3 2082.5,127.3 2072.5,137.3 2062.5,127.3" fill="#1d10ee"/>
<polygon points="2081.3,117.3 2091.3,127.3 2081.3,137.3 2071.3,127.3" fill="#1d10ee"/>
<line x1="2124.9" y1="68" x2="2124.9" y2="96" stroke="#4ad62a" stroke-width="2"/>
<line x1="2110.9" y1="68" x2="2138.9" y2="68" stroke="#4ad62a" stroke-width="2"/>
<line x1="2110.9" y1="96" x2="2138.9" y2="96" stroke="#4ad62a" stroke-width="2"/>
<circle cx="2124.2" cy="68.1" r="8" fill="#4ad62a"/>
<circle cx="2116.6" cy="80.7" r="8" fill="#4ad62a"/>
<circle cx="2135.5" cy="95.3" r="8" fill="#4ad62a"/>
<text x="1936.3" y="94.6" font-size="29.5"><tspan font-style="italic">P</tspan><tspan dx="2.6" font-size="25">=</tspan><tspan dx="6.3">7.8 × 10</tspan><tspan dy="-11" font-size="19">-7</tspan></text>
<line x1="1998.9" y1="104.6" x2="2071.2" y2="104.6" stroke="#000" stroke-width="2"/>
<text x="2017" y="37.8" font-size="29.5"><tspan font-style="italic">P</tspan><tspan dx="2.6" font-size="25">=</tspan><tspan dx="6.3">0.0046</tspan></text>
<line x1="2054.3" y1="49.2" x2="2125.4" y2="49.2" stroke="#000" stroke-width="2"/>
<text transform="translate(1976.8,404.2) rotate(-45)" font-size="29.5" text-anchor="end">PBS</text>
<text transform="translate(2030.3,405.7) rotate(-45)" font-size="29.5" text-anchor="end">SPEN</text>
<text transform="translate(2081.2,405) rotate(-45)" font-size="29.5" text-anchor="end">PEPA</text>
<text transform="translate(2081.2,405) rotate(-45)" x="0" y="11" font-size="18">EE</text>
<text transform="translate(2134.9,412.7) rotate(-45)" font-size="29.5" text-anchor="end">SPEN</text>
<text transform="translate(2134.9,412.7) rotate(-45)" x="0" y="11" font-size="18">EE</text>
<text transform="translate(1846.6,216.7) rotate(-90)" font-size="29.5" text-anchor="middle">Expression of CD80</text>
<text transform="translate(1885.7,213) rotate(-90)" font-size="29.5" text-anchor="middle">on BMDC (× 10<tspan dy="-11" font-size="19">4</tspan><tspan dy="11">)</tspan></text>
<text x="0" y="563" font-size="38" font-weight="bold">g</text>
<rect x="141.2" y="899.2" width="37.3" height="2.6" fill="#616161"/>
<rect x="196.1" y="887.1" width="37.1" height="14.7" fill="#f07a80"/>
<rect x="250.3" y="843" width="37.8" height="58.8" fill="#5e55fb"/>
<rect x="305" y="650.9" width="37.8" height="250.9" fill="#b0fca8"/>
<line x1="123.8" y1="554.8" x2="123.8" y2="902.8" stroke="#000" stroke-width="2"/>
<line x1="113.1" y1="901.8" x2="123.8" y2="901.8" stroke="#000" stroke-width="2"/>
<text x="101.5" y="919.9" font-size="29.5" text-anchor="end">0</text>
<line x1="113.1" y1="815.3" x2="123.8" y2="815.3" stroke="#000" stroke-width="2"/>
<text x="101.5" y="833.4" font-size="29.5" text-anchor="end">100</text>
<line x1="113.1" y1="728.8" x2="123.8" y2="728.8" stroke="#000" stroke-width="2"/>
<text x="101.5" y="746.9" font-size="29.5" text-anchor="end">200</text>
<line x1="113.1" y1="642.3" x2="123.8" y2="642.3" stroke="#000" stroke-width="2"/>
<text x="101.5" y="660.4" font-size="29.5" text-anchor="end">300</text>
<line x1="113.1" y1="555.8" x2="123.8" y2="555.8" stroke="#000" stroke-width="2"/>
<text x="101.5" y="573.9" font-size="29.5" text-anchor="end">400</text>
<line x1="114" y1="901.8" x2="362.5" y2="901.8" stroke="#000" stroke-width="2"/>
<line x1="160.1" y1="901.8" x2="160.1" y2="911.8" stroke="#000" stroke-width="2"/>
<line x1="214.8" y1="901.8" x2="214.8" y2="911.8" stroke="#000" stroke-width="2"/>
<line x1="269.2" y1="901.8" x2="269.2" y2="911.8" stroke="#000" stroke-width="2"/>
<line x1="323.9" y1="901.8" x2="323.9" y2="911.8" stroke="#000" stroke-width="2"/>
<circle cx="151.2" cy="893" r="8" fill="#000"/>
<circle cx="168.9" cy="899.3" r="8" fill="#000"/>
<circle cx="161.3" cy="900.6" r="8" fill="#000"/>
<rect x="198.8" y="872.8" width="15.5" height="15.5" fill="#f52a1e"/>
<rect x="214.2" y="880.8" width="15.5" height="15.5" fill="#f52a1e"/>
<rect x="208.2" y="885.2" width="15.5" height="15.5" fill="#f52a1e"/>
<polygon points="262,829 272,839 262,849 252,839" fill="#1d10ee"/>
<polygon points="269.5,836.5 279.5,846.5 269.5,856.5 259.5,846.5" fill="#1d10ee"/>
<polygon points="277.5,835 287.5,845 277.5,855 267.5,845" fill="#1d10ee"/>
<line x1="323.9" y1="642.5" x2="323.9" y2="665" stroke="#4ad62a" stroke-width="2"/>
<line x1="309.9" y1="642.5" x2="337.9" y2="642.5" stroke="#4ad62a" stroke-width="2"/>
<line x1="309.9" y1="665" x2="337.9" y2="665" stroke="#4ad62a" stroke-width="2"/>
<circle cx="315.1" cy="642.2" r="8.5" fill="#4ad62a"/>
<circle cx="332.7" cy="643.4" r="8.5" fill="#4ad62a"/>
<circle cx="323.9" cy="667.4" r="8.5" fill="#4ad62a"/>
<text x="161.3" y="799.2" font-size="29.5"><tspan font-style="italic">P</tspan><tspan dx="2.6" font-size="25">=</tspan><tspan dx="6.3">0.0022</tspan></text>
<line x1="192.8" y1="814.3" x2="264.2" y2="814.3" stroke="#000" stroke-width="2"/>
<text x="217.3" y="605.6" font-size="29.5"><tspan font-style="italic">P</tspan><tspan dx="2.6" font-size="25">=</tspan><tspan dx="6.3">4.4 × 10</tspan><tspan dy="-11" font-size="19">-7</tspan></text>
<line x1="260.1" y1="620" x2="331.5" y2="620" stroke="#000" stroke-width="2"/>
<text transform="translate(171.6,930.8) rotate(-45)" font-size="29.5" text-anchor="end">PBS</text>
<text transform="translate(226.8,932.3) rotate(-45)" font-size="29.5" text-anchor="end">SPEN</text>
<text transform="translate(278.7,931.6) rotate(-45)" font-size="29.5" text-anchor="end">PEPA</text>
<text transform="translate(278.7,931.6) rotate(-45)" x="0" y="11" font-size="18">EE</text>
<text transform="translate(333.9,939.3) rotate(-45)" font-size="29.5" text-anchor="end">SPEN</text>
<text transform="translate(333.9,939.3) rotate(-45)" x="0" y="11" font-size="18">EE</text>
<text transform="translate(36.5,756.9) rotate(-90)" font-size="29.5" text-anchor="middle">Secreted TNF-α (pg/mL)</text>
<text x="418" y="561.5" font-size="38" font-weight="bold">h</text>
<rect x="552" y="899.5" width="34.5" height="6.1" fill="#616161"/>
<rect x="606.2" y="892.6" width="34.5" height="13" fill="#f07a80"/>
<rect x="659.1" y="789.2" width="34.6" height="116.4" fill="#5e55fb"/>
<rect x="712.6" y="654.5" width="34.5" height="251.1" fill="#b0fca8"/>
<line x1="534.2" y1="557" x2="534.2" y2="906.6" stroke="#000" stroke-width="2"/>
<line x1="523.7" y1="905.6" x2="534.2" y2="905.6" stroke="#000" stroke-width="2"/>
<text x="522" y="915.2" font-size="29.5" text-anchor="end">0</text>
<line x1="523.7" y1="818.7" x2="534.2" y2="818.7" stroke="#000" stroke-width="2"/>
<text x="522" y="828.3" font-size="29.5" text-anchor="end">100</text>
<line x1="523.7" y1="731.8" x2="534.2" y2="731.8" stroke="#000" stroke-width="2"/>
<text x="522" y="741.4" font-size="29.5" text-anchor="end">200</text>
<line x1="523.7" y1="644.9" x2="534.2" y2="644.9" stroke="#000" stroke-width="2"/>
<text x="522" y="654.5" font-size="29.5" text-anchor="end">300</text>
<line x1="523.7" y1="558" x2="534.2" y2="558" stroke="#000" stroke-width="2"/>
<text x="522" y="567.6" font-size="29.5" text-anchor="end">400</text>
<line x1="523.5" y1="905.6" x2="766.8" y2="905.6" stroke="#000" stroke-width="2"/>
<line x1="569.6" y1="905.6" x2="569.6" y2="915.6" stroke="#000" stroke-width="2"/>
<line x1="623.1" y1="905.6" x2="623.1" y2="915.6" stroke="#000" stroke-width="2"/>
<line x1="676.3" y1="905.6" x2="676.3" y2="915.6" stroke="#000" stroke-width="2"/>
<line x1="729.5" y1="905.6" x2="729.5" y2="915.6" stroke="#000" stroke-width="2"/>
<line x1="569.6" y1="890" x2="569.6" y2="906" stroke="#000" stroke-width="2"/>
<line x1="555.6" y1="890" x2="583.6" y2="890" stroke="#000" stroke-width="2"/>
<line x1="555.6" y1="906" x2="583.6" y2="906" stroke="#000" stroke-width="2"/>
<circle cx="560.3" cy="889.2" r="8" fill="#000"/>
<circle cx="568.9" cy="904.3" r="8" fill="#000"/>
<circle cx="579" cy="904.8" r="8" fill="#000"/>
<rect x="605.2" y="876.5" width="15.5" height="15.5" fill="#f52a1e"/>
<rect x="615.4" y="882.8" width="15.5" height="15.5" fill="#f52a1e"/>
<rect x="624.1" y="891.5" width="15.5" height="15.5" fill="#f52a1e"/>
<line x1="676.3" y1="756.1" x2="676.3" y2="822.4" stroke="#1d10ee" stroke-width="2"/>
<line x1="662.3" y1="756.1" x2="690.3" y2="756.1" stroke="#1d10ee" stroke-width="2"/>
<line x1="662.3" y1="822.4" x2="690.3" y2="822.4" stroke="#1d10ee" stroke-width="2"/>
<polygon points="676.3,746.9 686.3,756.9 676.3,766.9 666.3,756.9" fill="#1d10ee"/>
<polygon points="676.3,774.6 686.3,784.6 676.3,794.6 666.3,784.6" fill="#1d10ee"/>
<polygon points="676.3,812.4 686.3,822.4 676.3,832.4 666.3,822.4" fill="#1d10ee"/>
<line x1="729.3" y1="637" x2="729.3" y2="669" stroke="#4ad62a" stroke-width="2"/>
<line x1="715.3" y1="637" x2="743.3" y2="637" stroke="#4ad62a" stroke-width="2"/>
<line x1="715.3" y1="669" x2="743.3" y2="669" stroke="#4ad62a" stroke-width="2"/>
<circle cx="729" cy="635.9" r="8.5" fill="#4ad62a"/>
<circle cx="721.4" cy="658.6" r="8.5" fill="#4ad62a"/>
<circle cx="737.8" cy="666.1" r="8.5" fill="#4ad62a"/>
<text x="576.5" y="722.8" font-size="29.5"><tspan font-style="italic">P</tspan><tspan dx="2.6" font-size="25">=</tspan><tspan dx="6.3">0.0017</tspan></text>
<line x1="610.5" y1="737.5" x2="681.8" y2="737.5" stroke="#000" stroke-width="2"/>
<text x="635.7" y="599.3" font-size="29.5"><tspan font-style="italic">P</tspan><tspan dx="2.6" font-size="25">=</tspan><tspan dx="6.3">0.0005</tspan></text>
<line x1="674.3" y1="615.2" x2="745.3" y2="615.2" stroke="#000" stroke-width="2"/>
<text transform="translate(581.1,934.6) rotate(-45)" font-size="29.5" text-anchor="end">PBS</text>
<text transform="translate(635.1,936.1) rotate(-45)" font-size="29.5" text-anchor="end">SPEN</text>
<text transform="translate(685.8,935.4) rotate(-45)" font-size="29.5" text-anchor="end">PEPA</text>
<text transform="translate(685.8,935.4) rotate(-45)" x="0" y="11" font-size="18">EE</text>
<text transform="translate(739.5,943.1) rotate(-45)" font-size="29.5" text-anchor="end">SPEN</text>
<text transform="translate(739.5,943.1) rotate(-45)" x="0" y="11" font-size="18">EE</text>
<text transform="translate(455,727.9) rotate(-90)" font-size="29.5" text-anchor="middle">Secreted IL-12p70 (pg/mL)</text>
<text x="825" y="561.5" font-size="38" font-weight="bold">i</text>
<rect x="984" y="800.3" width="34.8" height="102.3" fill="#616161"/>
<rect x="1037" y="792.3" width="35.2" height="110.3" fill="#f07a80"/>
<rect x="1090.4" y="692.1" width="35.3" height="210.5" fill="#5e55fb"/>
<rect x="1144.1" y="615.8" width="35.3" height="286.8" fill="#b0fca8"/>
<line x1="965.8" y1="553.6" x2="965.8" y2="903.6" stroke="#000" stroke-width="2"/>
<line x1="955.3" y1="902.6" x2="965.8" y2="902.6" stroke="#000" stroke-width="2"/>
<text x="954.2" y="912.2" font-size="29.5" text-anchor="end">0</text>
<line x1="955.3" y1="833" x2="965.8" y2="833" stroke="#000" stroke-width="2"/>
<text x="954.2" y="842.6" font-size="29.5" text-anchor="end">200</text>
<line x1="955.3" y1="763.4" x2="965.8" y2="763.4" stroke="#000" stroke-width="2"/>
<text x="954.2" y="773" font-size="29.5" text-anchor="end">400</text>
<line x1="955.3" y1="693.8" x2="965.8" y2="693.8" stroke="#000" stroke-width="2"/>
<text x="954.2" y="703.4" font-size="29.5" text-anchor="end">600</text>
<line x1="955.3" y1="624.2" x2="965.8" y2="624.2" stroke="#000" stroke-width="2"/>
<text x="954.2" y="633.8" font-size="29.5" text-anchor="end">800</text>
<line x1="955.3" y1="554.6" x2="965.8" y2="554.6" stroke="#000" stroke-width="2"/>
<text x="954.2" y="564.2" font-size="29.5" text-anchor="end">1000</text>
<line x1="956.3" y1="902.6" x2="1198.3" y2="902.6" stroke="#000" stroke-width="2"/>
<line x1="1001.2" y1="902.6" x2="1001.2" y2="912.6" stroke="#000" stroke-width="2"/>
<line x1="1054.6" y1="902.6" x2="1054.6" y2="912.6" stroke="#000" stroke-width="2"/>
<line x1="1108" y1="902.6" x2="1108" y2="912.6" stroke="#000" stroke-width="2"/>
<line x1="1161.7" y1="902.6" x2="1161.7" y2="912.6" stroke="#000" stroke-width="2"/>
<circle cx="992.8" cy="796" r="8" fill="#000"/>
<circle cx="1001.7" cy="802.3" r="8" fill="#000"/>
<circle cx="1011.2" cy="802.3" r="8" fill="#000"/>
<line x1="1054.6" y1="786" x2="1054.6" y2="804" stroke="#f52a1e" stroke-width="2"/>
<line x1="1040.6" y1="786" x2="1068.6" y2="786" stroke="#f52a1e" stroke-width="2"/>
<line x1="1040.6" y1="804" x2="1068.6" y2="804" stroke="#f52a1e" stroke-width="2"/>
<rect x="1038" y="778.9" width="15.5" height="15.5" fill="#f52a1e"/>
<rect x="1046.8" y="777.4" width="15.5" height="15.5" fill="#f52a1e"/>
<rect x="1055.7" y="798.2" width="15.5" height="15.5" fill="#f52a1e"/>
<line x1="1108" y1="680.7" x2="1108" y2="703.2" stroke="#1d10ee" stroke-width="2"/>
<line x1="1094" y1="680.7" x2="1122" y2="680.7" stroke="#1d10ee" stroke-width="2"/>
<line x1="1094" y1="703.2" x2="1122" y2="703.2" stroke="#1d10ee" stroke-width="2"/>
<polygon points="1098.7,669.5 1108.7,679.5 1098.7,689.5 1088.7,679.5" fill="#1d10ee"/>
<polygon points="1106.3,686.4 1116.3,696.4 1106.3,706.4 1096.3,696.4" fill="#1d10ee"/>
<polygon points="1116.4,689.4 1126.4,699.4 1116.4,709.4 1106.4,699.4" fill="#1d10ee"/>
<line x1="1161.7" y1="597.6" x2="1161.7" y2="632" stroke="#4ad62a" stroke-width="2"/>
<line x1="1147.7" y1="597.6" x2="1175.7" y2="597.6" stroke="#4ad62a" stroke-width="2"/>
<line x1="1147.7" y1="632" x2="1175.7" y2="632" stroke="#4ad62a" stroke-width="2"/>
<circle cx="1161.7" cy="596" r="8.5" fill="#4ad62a"/>
<circle cx="1152.9" cy="617" r="8.5" fill="#4ad62a"/>
<circle cx="1169.3" cy="630.8" r="8.5" fill="#4ad62a"/>
<text x="1002.9" y="649.7" font-size="29.5"><tspan font-style="italic">P</tspan><tspan dx="2.6" font-size="25">=</tspan><tspan dx="6.3">0.0002</tspan></text>
<line x1="1037" y1="661.1" x2="1108" y2="661.1" stroke="#000" stroke-width="2"/>
<text x="1062.2" y="570.3" font-size="29.5"><tspan font-style="italic">P</tspan><tspan dx="2.6" font-size="25">=</tspan><tspan dx="6.3">0.0008</tspan></text>
<line x1="1100" y1="581.2" x2="1171.8" y2="581.2" stroke="#000" stroke-width="2"/>
<text transform="translate(1012.7,931.6) rotate(-45)" font-size="29.5" text-anchor="end">PBS</text>
<text transform="translate(1066.6,933.1) rotate(-45)" font-size="29.5" text-anchor="end">SPEN</text>
<text transform="translate(1117.5,932.4) rotate(-45)" font-size="29.5" text-anchor="end">PEPA</text>
<text transform="translate(1117.5,932.4) rotate(-45)" x="0" y="11" font-size="18">EE</text>
<text transform="translate(1171.7,940.1) rotate(-45)" font-size="29.5" text-anchor="end">SPEN</text>
<text transform="translate(1171.7,940.1) rotate(-45)" x="0" y="11" font-size="18">EE</text>
<text transform="translate(854,722.9) rotate(-90)" font-size="29.5" text-anchor="middle">Presentation of SIINFEKL</text>
<text transform="translate(894,727.2) rotate(-90)" font-size="29.5" text-anchor="middle">on BMDC</text>
<text x="1249" y="561.5" font-size="38" font-weight="bold">j</text>
<line x1="1347.7" y1="555.1" x2="1347.7" y2="903.3" stroke="#000" stroke-width="2"/>
<line x1="1333.1" y1="902.3" x2="1347.7" y2="902.3" stroke="#000" stroke-width="2"/>
<text x="1334" y="912.9" font-size="29.5" text-anchor="end">0</text>
<line x1="1333.1" y1="827.9" x2="1347.7" y2="827.9" stroke="#000" stroke-width="2"/>
<text x="1334" y="838.5" font-size="29.5" text-anchor="end">3</text>
<line x1="1333.1" y1="753.5" x2="1347.7" y2="753.5" stroke="#000" stroke-width="2"/>
<text x="1334" y="764.1" font-size="29.5" text-anchor="end">6</text>
<line x1="1333.1" y1="679.1" x2="1347.7" y2="679.1" stroke="#000" stroke-width="2"/>
<text x="1334" y="689.7" font-size="29.5" text-anchor="end">9</text>
<line x1="1333.1" y1="604.7" x2="1347.7" y2="604.7" stroke="#000" stroke-width="2"/>
<text x="1334" y="615.3" font-size="29.5" text-anchor="end">12</text>
<line x1="1347.7" y1="902.3" x2="1580.6" y2="902.3" stroke="#000" stroke-width="2"/>
<line x1="1347.7" y1="902.3" x2="1347.7" y2="915.8" stroke="#000" stroke-width="2"/>
<text x="1347.7" y="946.8" font-size="29.5" text-anchor="middle">0</text>
<line x1="1425" y1="902.3" x2="1425" y2="915.8" stroke="#000" stroke-width="2"/>
<text x="1425" y="946.8" font-size="29.5" text-anchor="middle">20</text>
<line x1="1502.3" y1="902.3" x2="1502.3" y2="915.8" stroke="#000" stroke-width="2"/>
<text x="1502.3" y="946.8" font-size="29.5" text-anchor="middle">40</text>
<line x1="1579.6" y1="902.3" x2="1579.6" y2="915.8" stroke="#000" stroke-width="2"/>
<text x="1579.6" y="946.8" font-size="29.5" text-anchor="middle">60</text>
<text x="1465" y="982.5" font-size="29.5" text-anchor="middle">Time (h)</text>
<line x1="1370.9" y1="731.9" x2="1370.9" y2="766.6" stroke="#f52a1e" stroke-width="2"/>
<line x1="1363.4" y1="731.9" x2="1378.4" y2="731.9" stroke="#f52a1e" stroke-width="2"/>
<line x1="1363.4" y1="766.6" x2="1378.4" y2="766.6" stroke="#f52a1e" stroke-width="2"/>
<line x1="1394.1" y1="680.3" x2="1394.1" y2="702.7" stroke="#f52a1e" stroke-width="2"/>
<line x1="1386.6" y1="680.3" x2="1401.6" y2="680.3" stroke="#f52a1e" stroke-width="2"/>
<line x1="1386.6" y1="702.7" x2="1401.6" y2="702.7" stroke="#f52a1e" stroke-width="2"/>
<line x1="1440.5" y1="667.9" x2="1440.5" y2="690.3" stroke="#f52a1e" stroke-width="2"/>
<line x1="1433" y1="667.9" x2="1448" y2="667.9" stroke="#f52a1e" stroke-width="2"/>
<line x1="1433" y1="690.3" x2="1448" y2="690.3" stroke="#f52a1e" stroke-width="2"/>
<line x1="1486.8" y1="673.9" x2="1486.8" y2="696.2" stroke="#f52a1e" stroke-width="2"/>
<line x1="1479.3" y1="673.9" x2="1494.3" y2="673.9" stroke="#f52a1e" stroke-width="2"/>
<line x1="1479.3" y1="696.2" x2="1494.3" y2="696.2" stroke="#f52a1e" stroke-width="2"/>
<line x1="1533.2" y1="692.7" x2="1533.2" y2="712.6" stroke="#f52a1e" stroke-width="2"/>
<line x1="1525.7" y1="692.7" x2="1540.7" y2="692.7" stroke="#f52a1e" stroke-width="2"/>
<line x1="1525.7" y1="712.6" x2="1540.7" y2="712.6" stroke="#f52a1e" stroke-width="2"/>
<line x1="1370.9" y1="849" x2="1370.9" y2="866.3" stroke="#1d10ee" stroke-width="2"/>
<line x1="1363.4" y1="849" x2="1378.4" y2="849" stroke="#1d10ee" stroke-width="2"/>
<line x1="1363.4" y1="866.3" x2="1378.4" y2="866.3" stroke="#1d10ee" stroke-width="2"/>
<line x1="1394.1" y1="816.2" x2="1394.1" y2="843.5" stroke="#1d10ee" stroke-width="2"/>
<line x1="1386.6" y1="816.2" x2="1401.6" y2="816.2" stroke="#1d10ee" stroke-width="2"/>
<line x1="1386.6" y1="843.5" x2="1401.6" y2="843.5" stroke="#1d10ee" stroke-width="2"/>
<line x1="1440.5" y1="809.5" x2="1440.5" y2="839.3" stroke="#1d10ee" stroke-width="2"/>
<line x1="1433" y1="809.5" x2="1448" y2="809.5" stroke="#1d10ee" stroke-width="2"/>
<line x1="1433" y1="839.3" x2="1448" y2="839.3" stroke="#1d10ee" stroke-width="2"/>
<line x1="1486.8" y1="809.5" x2="1486.8" y2="844.3" stroke="#1d10ee" stroke-width="2"/>
<line x1="1479.3" y1="809.5" x2="1494.3" y2="809.5" stroke="#1d10ee" stroke-width="2"/>
<line x1="1479.3" y1="844.3" x2="1494.3" y2="844.3" stroke="#1d10ee" stroke-width="2"/>
<line x1="1533.2" y1="825.4" x2="1533.2" y2="848.7" stroke="#1d10ee" stroke-width="2"/>
<line x1="1525.7" y1="825.4" x2="1540.7" y2="825.4" stroke="#1d10ee" stroke-width="2"/>
<line x1="1525.7" y1="848.7" x2="1540.7" y2="848.7" stroke="#1d10ee" stroke-width="2"/>
<polyline points="1347.7,902.3 1351.6,842.8 1359.3,813.5 1370.9,749.3 1394.1,691.5 1440.5,679.1 1486.8,685.1 1533.2,702.7" fill="none" stroke="#f52a1e" stroke-width="2"/>
<polyline points="1347.7,902.3 1351.6,885.4 1359.3,880 1370.9,857.7 1394.1,829.9 1440.5,824.4 1486.8,826.9 1533.2,837.1" fill="none" stroke="#1d10ee" stroke-width="2"/>
<polygon points="1339.2,909.9 1356.2,909.9 1347.7,894.6" fill="#f52a1e"/>
<polygon points="1343.1,850.4 1360.1,850.4 1351.6,835.1" fill="#f52a1e"/>
<polygon points="1350.8,821.2 1367.8,821.2 1359.3,805.9" fill="#f52a1e"/>
<polygon points="1362.4,756.9 1379.4,756.9 1370.9,741.6" fill="#f52a1e"/>
<polygon points="1385.6,699.1 1402.6,699.1 1394.1,683.9" fill="#f52a1e"/>
<polygon points="1432,686.7 1449,686.7 1440.5,671.4" fill="#f52a1e"/>
<polygon points="1478.3,692.7 1495.3,692.7 1486.8,677.4" fill="#f52a1e"/>
<polygon points="1524.7,710.3 1541.7,710.3 1533.2,695" fill="#f52a1e"/>
<rect x="1340.2" y="894.8" width="15" height="15" fill="#1d10ee"/>
<rect x="1344.1" y="877.9" width="15" height="15" fill="#1d10ee"/>
<rect x="1351.8" y="872.5" width="15" height="15" fill="#1d10ee"/>
<rect x="1363.4" y="850.2" width="15" height="15" fill="#1d10ee"/>
<rect x="1386.6" y="822.4" width="15" height="15" fill="#1d10ee"/>
<rect x="1433" y="816.9" width="15" height="15" fill="#1d10ee"/>
<rect x="1479.3" y="819.4" width="15" height="15" fill="#1d10ee"/>
<rect x="1525.7" y="829.6" width="15" height="15" fill="#1d10ee"/>
<line x1="1367.4" y1="557.7" x2="1405.2" y2="557.7" stroke="#1d10ee" stroke-width="2"/>
<rect x="1378.8" y="550.2" width="15" height="15" fill="#1d10ee"/>
<text x="1416.5" y="570.3" font-size="29.5">SPEN<tspan dy="9" font-size="19">Ly</tspan></text>
<line x1="1367.4" y1="594.3" x2="1405.2" y2="594.3" stroke="#f52a1e" stroke-width="2"/>
<polygon points="1377.8,601.9 1394.8,601.9 1386.3,586.6" fill="#f52a1e"/>
<text x="1416.5" y="606.9" font-size="29.5">SPEN<tspan dy="11" font-size="19">EE</tspan></text>
<text transform="translate(1286.5,740.5) rotate(-90)" font-size="29.5" text-anchor="middle">In vivo DiR signal in LNs (×10<tspan dy="-11" font-size="19">8</tspan><tspan dy="11">)</tspan></text>
<text x="1630" y="562" font-size="38" font-weight="bold">k</text>
<rect x="1645.4" y="654.3" width="105.9" height="311.3" fill="#2c2c2c"/>
<rect x="1645.4" y="654.3" width="105.9" height="311.3" fill="none" stroke="#222" stroke-width="1"/>
<ellipse cx="1676" cy="689" rx="15.3" ry="16.5" fill="#5a1cff"/>
<ellipse cx="1676" cy="689" rx="14.3" ry="15.3" fill="#1f1fff"/>
<ellipse cx="1676" cy="689" rx="12.3" ry="13.2" fill="#40d8ff"/>
<ellipse cx="1676" cy="689" rx="11" ry="11.9" fill="#3cf040"/>
<ellipse cx="1676" cy="689" rx="12" ry="12.9" fill="#f0f020"/>
<ellipse cx="1676" cy="689" rx="10.4" ry="11.2" fill="#ff1a10"/>
<ellipse cx="1673.6" cy="743" rx="13.8" ry="14.8" fill="#5a1cff"/>
<ellipse cx="1673.6" cy="743" rx="12.8" ry="13.8" fill="#1f1fff"/>
<ellipse cx="1673.6" cy="743" rx="11" ry="11.8" fill="#40d8ff"/>
<ellipse cx="1673.6" cy="743" rx="9.9" ry="10.7" fill="#3cf040"/>
<ellipse cx="1673.6" cy="743" rx="8.3" ry="8.9" fill="#f0f020"/>
<ellipse cx="1673.6" cy="743" rx="6.9" ry="7.4" fill="#ff1a10"/>
<ellipse cx="1677.7" cy="789.8" rx="13.3" ry="14.3" fill="#5a1cff"/>
<ellipse cx="1677.7" cy="789.8" rx="12.4" ry="13.3" fill="#1f1fff"/>
<ellipse cx="1677.7" cy="789.8" rx="10.6" ry="11.4" fill="#40d8ff"/>
<ellipse cx="1677.7" cy="789.8" rx="9.6" ry="10.3" fill="#3cf040"/>
<ellipse cx="1677.7" cy="789.8" rx="7.4" ry="8" fill="#f0f020"/>
<ellipse cx="1677.7" cy="789.8" rx="6.1" ry="6.6" fill="#ff1a10"/>
<ellipse cx="1673" cy="836.4" rx="13.8" ry="14.8" fill="#5a1cff"/>
<ellipse cx="1673" cy="836.4" rx="12.8" ry="13.8" fill="#1f1fff"/>
<ellipse cx="1673" cy="836.4" rx="11" ry="11.8" fill="#40d8ff"/>
<ellipse cx="1673" cy="836.4" rx="9.9" ry="10.7" fill="#3cf040"/>
<ellipse cx="1673" cy="836.4" rx="6.5" ry="7" fill="#f0f020"/>
<ellipse cx="1673" cy="836.4" rx="5.1" ry="5.5" fill="#ff8a10"/>
<ellipse cx="1673" cy="836.4" rx="3.4" ry="3.7" fill="#ff1a10"/>
<ellipse cx="1674.9" cy="881.8" rx="15.3" ry="16.5" fill="#5a1cff"/>
<ellipse cx="1674.9" cy="881.8" rx="14.3" ry="15.3" fill="#1f1fff"/>
<ellipse cx="1674.9" cy="881.8" rx="12.3" ry="13.2" fill="#40d8ff"/>
<ellipse cx="1674.9" cy="881.8" rx="11" ry="11.9" fill="#3cf040"/>
<ellipse cx="1674.9" cy="881.8" rx="5.8" ry="6.3" fill="#f0f020"/>
<ellipse cx="1674.9" cy="881.8" rx="4.3" ry="4.6" fill="#ff8a10"/>
<ellipse cx="1674.9" cy="881.8" rx="2.5" ry="2.6" fill="#ff1a10"/>
<ellipse cx="1674.9" cy="928.5" rx="16.7" ry="18" fill="#5a1cff"/>
<ellipse cx="1674.9" cy="928.5" rx="15.6" ry="16.7" fill="#1f1fff"/>
<ellipse cx="1674.9" cy="928.5" rx="13.4" ry="14.4" fill="#40d8ff"/>
<ellipse cx="1674.9" cy="928.5" rx="12.1" ry="13" fill="#3cf040"/>
<ellipse cx="1674.9" cy="928.5" rx="10" ry="10.8" fill="#f0f020"/>
<ellipse cx="1674.9" cy="928.5" rx="8.4" ry="9" fill="#ff1a10"/>
<ellipse cx="1726.3" cy="690.9" rx="11" ry="11" fill="#5a1cff"/>
<ellipse cx="1726.3" cy="690.9" rx="9.3" ry="9.3" fill="#1f1fff"/>
<ellipse cx="1726.3" cy="690.9" rx="4.4" ry="4.4" fill="#3aa0ff"/>
<ellipse cx="1726.3" cy="690.9" rx="2.2" ry="2.2" fill="#40d8ff"/>
<ellipse cx="1727.9" cy="737.6" rx="12.5" ry="12.5" fill="#5a1cff"/>
<ellipse cx="1727.9" cy="737.6" rx="10.6" ry="10.6" fill="#1f1fff"/>
<ellipse cx="1727.9" cy="737.6" rx="8.1" ry="8.1" fill="#40d8ff"/>
<ellipse cx="1727.9" cy="737.6" rx="5.6" ry="5.6" fill="#3cf040"/>
<ellipse cx="1727.9" cy="737.6" rx="2.2" ry="2.2" fill="#a0f030"/>
<ellipse cx="1729.9" cy="785.5" rx="14" ry="14" fill="#5a1cff"/>
<ellipse cx="1729.9" cy="785.5" rx="11.9" ry="11.9" fill="#1f1fff"/>
<ellipse cx="1729.9" cy="785.5" rx="9.1" ry="9.1" fill="#40d8ff"/>
<ellipse cx="1729.9" cy="785.5" rx="6.3" ry="6.3" fill="#3cf040"/>
<ellipse cx="1729.9" cy="785.5" rx="2.8" ry="2.8" fill="#a0f030"/>
<ellipse cx="1727.4" cy="835.2" rx="11" ry="11" fill="#5a1cff"/>
<ellipse cx="1727.4" cy="835.2" rx="9.3" ry="9.3" fill="#1f1fff"/>
<ellipse cx="1727.4" cy="835.2" rx="3.8" ry="3.8" fill="#3a80ff"/>
<ellipse cx="1727.4" cy="877.6" rx="9.5" ry="9.5" fill="#b8b8b8"/>
<ellipse cx="1727.4" cy="877.6" rx="7.1" ry="7.1" fill="#e8e8e8"/>
<ellipse cx="1727.4" cy="922.2" rx="9" ry="9" fill="#9090a0"/>
<ellipse cx="1727.4" cy="922.2" rx="8.1" ry="8.1" fill="#5010f0"/>
<text transform="translate(1713.5,578.5) rotate(-60)" font-size="29.5" text-anchor="end">SPEN</text>
<text transform="translate(1713.5,578.5) rotate(-60)" x="1.5" y="7" font-size="19">EE</text>
<text transform="translate(1766,578.5) rotate(-60)" font-size="29.5" text-anchor="end">SPEN</text>
<text transform="translate(1766,578.5) rotate(-60)" x="1.5" y="7" font-size="19">Ly</text>
<text x="1821" y="561.5" font-size="38" font-weight="bold">l</text>
<rect x="1958" y="897.1" width="66.9" height="32.9" fill="#5e55fb"/>
<rect x="2058.9" y="766.1" width="67.1" height="163.9" fill="#f07a80"/>
<line x1="1924.3" y1="576.5" x2="1924.3" y2="931" stroke="#000" stroke-width="2"/>
<line x1="1909.7" y1="930" x2="1924.3" y2="930" stroke="#000" stroke-width="2"/>
<text x="1905" y="940.6" font-size="29.5" text-anchor="end">0</text>
<line x1="1909.7" y1="812.5" x2="1924.3" y2="812.5" stroke="#000" stroke-width="2"/>
<text x="1905" y="823.1" font-size="29.5" text-anchor="end">2</text>
<line x1="1909.7" y1="695" x2="1924.3" y2="695" stroke="#000" stroke-width="2"/>
<text x="1905" y="705.6" font-size="29.5" text-anchor="end">4</text>
<line x1="1909.7" y1="577.5" x2="1924.3" y2="577.5" stroke="#000" stroke-width="2"/>
<text x="1905" y="588.1" font-size="29.5" text-anchor="end">6</text>
<line x1="1909.7" y1="930" x2="2161.7" y2="930" stroke="#000" stroke-width="2"/>
<line x1="1991.6" y1="930" x2="1991.6" y2="944.6" stroke="#000" stroke-width="2"/>
<line x1="2092.4" y1="930" x2="2092.4" y2="944.6" stroke="#000" stroke-width="2"/>
<line x1="1991.6" y1="872.8" x2="1991.6" y2="920.7" stroke="#1d10ee" stroke-width="2"/>
<line x1="1974.8" y1="872.8" x2="2008.3" y2="872.8" stroke="#1d10ee" stroke-width="2"/>
<line x1="1974.8" y1="920.7" x2="2008.3" y2="920.7" stroke="#1d10ee" stroke-width="2"/>
<rect x="1960.9" y="894.6" width="16" height="16" fill="#1d10ee"/>
<rect x="1972.2" y="864.3" width="16" height="16" fill="#1d10ee"/>
<rect x="1994.9" y="854.7" width="16" height="16" fill="#1d10ee"/>
<rect x="1983.6" y="894.6" width="16" height="16" fill="#1d10ee"/>
<rect x="1983.6" y="906" width="16" height="16" fill="#1d10ee"/>
<rect x="2006.3" y="914.7" width="16" height="16" fill="#1d10ee"/>
<line x1="2092.4" y1="708.5" x2="2092.4" y2="823.7" stroke="#f52a1e" stroke-width="2"/>
<line x1="2075.4" y1="708.5" x2="2109.4" y2="708.5" stroke="#f52a1e" stroke-width="2"/>
<line x1="2075.4" y1="823.7" x2="2109.4" y2="823.7" stroke="#f52a1e" stroke-width="2"/>
<polygon points="2083.9,668.8 2100.9,668.8 2092.4,653.5" fill="#f52a1e"/>
<polygon points="2083.9,755.6 2100.9,755.6 2092.4,740.4" fill="#f52a1e"/>
<polygon points="2067,779.6 2084,779.6 2075.5,764.4" fill="#f52a1e"/>
<polygon points="2101.1,799.9 2118.1,799.9 2109.6,784.6" fill="#f52a1e"/>
<polygon points="2067,819.4 2084,819.4 2075.5,804.1" fill="#f52a1e"/>
<polygon points="2101.1,825 2118.1,825 2109.6,809.8" fill="#f52a1e"/>
<text x="1973.9" y="625.3" font-size="29.5"><tspan font-style="italic">P</tspan><tspan dx="2.6" font-size="25">=</tspan><tspan dx="6.3">0.0004</tspan></text>
<line x1="1985.3" y1="639.7" x2="2093.2" y2="639.7" stroke="#000" stroke-width="2"/>
<text x="1950" y="981.2" font-size="29.5">SPEN<tspan dy="9" font-size="19">Ly</tspan></text>
<text x="2066" y="981.2" font-size="29.5">SPEN<tspan dy="11" font-size="19">EE</tspan></text>
<text transform="translate(1869,748) rotate(-90)" font-size="29.5" text-anchor="middle">Ex vivo DiR signal in LNs (×10<tspan dy="-11" font-size="19">8</tspan><tspan dy="11">)</tspan></text>
<text x="0" y="1095.3" font-size="38" font-weight="bold">m</text>
<g clip-path="url(#clipM)">
<rect x="129.8" y="1110.4" width="277.3" height="339.79999999999995" fill="#9a9ca2"/>
<rect x="129.8" y="1110.4" width="277.3" height="339.79999999999995" fill="url(#noise)" opacity="0.25"/>
<g filter="url(#blur3)">
<ellipse cx="162.6" cy="1137.1" rx="17.3" ry="19.5" fill="#74767c" opacity="0.75"/>
<ellipse cx="218" cy="1140.1" rx="15.5" ry="20.1" fill="#74767c" opacity="0.75"/>
<ellipse cx="276" cy="1144.7" rx="15.5" ry="17" fill="#74767c" opacity="0.75"/>
<ellipse cx="332.7" cy="1145.2" rx="16.1" ry="19.5" fill="#74767c" opacity="0.75"/>
<ellipse cx="386.9" cy="1147.2" rx="15.5" ry="18.2" fill="#74767c" opacity="0.75"/>
<ellipse cx="153.8" cy="1207.7" rx="16.1" ry="23.3" fill="#74767c" opacity="0.75"/>
<ellipse cx="213.8" cy="1209.5" rx="15.5" ry="22.6" fill="#74767c" opacity="0.75"/>
<ellipse cx="271" cy="1212.7" rx="16.1" ry="20.1" fill="#74767c" opacity="0.75"/>
<ellipse cx="327.7" cy="1212" rx="16.1" ry="18.9" fill="#74767c" opacity="0.75"/>
<ellipse cx="385.7" cy="1212.7" rx="16.7" ry="20.1" fill="#74767c" opacity="0.75"/>
<ellipse cx="152.5" cy="1275" rx="18.6" ry="22.6" fill="#74767c" opacity="0.75"/>
<ellipse cx="212.3" cy="1271.7" rx="18.6" ry="26.4" fill="#74767c" opacity="0.75"/>
<ellipse cx="276.8" cy="1273.2" rx="21.1" ry="25.2" fill="#74767c" opacity="0.75"/>
<ellipse cx="323.9" cy="1278.8" rx="19.9" ry="21.4" fill="#74767c" opacity="0.75"/>
<ellipse cx="385.2" cy="1281.8" rx="18.6" ry="24.5" fill="#74767c" opacity="0.75"/>
<ellipse cx="150.7" cy="1348.1" rx="21.1" ry="28.9" fill="#74767c" opacity="0.75"/>
<ellipse cx="219.3" cy="1349.4" rx="21.1" ry="30.2" fill="#74767c" opacity="0.75"/>
<ellipse cx="278.5" cy="1343.1" rx="18.6" ry="25.8" fill="#74767c" opacity="0.75"/>
<ellipse cx="327.2" cy="1346.3" rx="18.6" ry="22.6" fill="#74767c" opacity="0.75"/>
<ellipse cx="381.1" cy="1351.9" rx="17.3" ry="24.5" fill="#74767c" opacity="0.75"/>
<ellipse cx="154.3" cy="1420" rx="20.5" ry="26.4" fill="#74767c" opacity="0.75"/>
<ellipse cx="221.3" cy="1421.2" rx="21.8" ry="32.1" fill="#74767c" opacity="0.75"/>
<ellipse cx="280.3" cy="1417.4" rx="19.9" ry="27.7" fill="#74767c" opacity="0.75"/>
<ellipse cx="334" cy="1416.2" rx="21.1" ry="29.6" fill="#74767c" opacity="0.75"/>
<ellipse cx="386.4" cy="1416.2" rx="19.9" ry="27.7" fill="#74767c" opacity="0.75"/>
</g>
<ellipse cx="162.6" cy="1135.1" rx="11.3" ry="14.5" fill="url(#gNode)"/>
<ellipse cx="218" cy="1138.1" rx="9.5" ry="15.1" fill="url(#gNode)"/>
<ellipse cx="276" cy="1142.7" rx="9.5" ry="12" fill="url(#gNode)"/>
<ellipse cx="332.7" cy="1143.2" rx="10.1" ry="14.5" fill="url(#gNode)"/>
<ellipse cx="386.9" cy="1145.2" rx="9.5" ry="13.2" fill="url(#gNode)"/>
<ellipse cx="153.8" cy="1205.7" rx="10.1" ry="18.3" fill="url(#gNode)"/>
<ellipse cx="213.8" cy="1207.5" rx="9.5" ry="17.6" fill="url(#gNode)"/>
<ellipse cx="271" cy="1210.7" rx="10.1" ry="15.1" fill="url(#gNode)"/>
<ellipse cx="327.7" cy="1210" rx="10.1" ry="13.9" fill="url(#gNode)"/>
<ellipse cx="385.7" cy="1210.7" rx="10.7" ry="15.1" fill="url(#gNode)"/>
<ellipse cx="152.5" cy="1273" rx="12.6" ry="17.6" fill="url(#gNode)"/>
<ellipse cx="212.3" cy="1269.7" rx="12.6" ry="21.4" fill="url(#gNode)"/>
<ellipse cx="276.8" cy="1271.2" rx="16.1" ry="21.2" fill="#1a1e22"/>
<ellipse cx="276.8" cy="1271.2" rx="15.1" ry="20.2" fill="url(#gNode)"/>
<ellipse cx="323.9" cy="1276.8" rx="13.9" ry="16.4" fill="url(#gNode)"/>
<ellipse cx="385.2" cy="1279.8" rx="12.6" ry="19.5" fill="url(#gNode)"/>
<ellipse cx="150.7" cy="1346.1" rx="15.1" ry="23.9" fill="url(#gNode)"/>
<ellipse cx="219.3" cy="1347.4" rx="15.1" ry="25.2" fill="url(#gNode)"/>
<ellipse cx="278.5" cy="1341.1" rx="12.6" ry="20.8" fill="url(#gNode)"/>
<ellipse cx="327.2" cy="1344.3" rx="12.6" ry="17.6" fill="url(#gNode)"/>
<ellipse cx="381.1" cy="1349.9" rx="11.3" ry="19.5" fill="url(#gNode)"/>
<ellipse cx="154.3" cy="1418" rx="14.5" ry="21.4" fill="url(#gNode)"/>
<ellipse cx="221.3" cy="1419.2" rx="15.8" ry="27.1" fill="url(#gNode)"/>
<ellipse cx="280.3" cy="1415.4" rx="13.9" ry="22.7" fill="url(#gNode)"/>
<ellipse cx="334" cy="1414.2" rx="15.1" ry="24.6" fill="url(#gNode)"/>
<ellipse cx="386.4" cy="1414.2" rx="13.9" ry="22.7" fill="url(#gNode)"/>
</g>
<text x="123.5" y="1155.3" font-size="29.5" text-anchor="end">Saline</text>
<text x="123.5" y="1221.3" font-size="29.5" text-anchor="end">SPEN</text>
<text x="123.5" y="1286.4" font-size="29.5" text-anchor="end">PEPA<tspan dy="10" font-size="19">EE</tspan></text>
<text x="123.5" y="1354.4" font-size="29.5" text-anchor="end">SPIN<tspan dy="10" font-size="19">EE</tspan></text>
<text x="123.5" y="1419.2" font-size="29.5" text-anchor="end">SPEN<tspan dy="10" font-size="19">EE</tspan></text>
<text x="449" y="1095.5" font-size="38" font-weight="bold">n</text>
<rect x="580.6" y="1410.1" width="29" height="50.7" fill="#616161"/>
<rect x="624.2" y="1370.8" width="29" height="90" fill="#f07a80"/>
<rect x="667.8" y="1297.4" width="29" height="163.4" fill="#5e55fb"/>
<rect x="711.2" y="1312.2" width="28.9" height="148.6" fill="#a2a2aa"/>
<rect x="754.8" y="1249.3" width="29" height="211.5" fill="#b0fca8"/>
<line x1="565.8" y1="1110.2" x2="565.8" y2="1461.8" stroke="#000" stroke-width="2"/>
<line x1="556.1" y1="1460.8" x2="565.8" y2="1460.8" stroke="#000" stroke-width="2"/>
<text x="552.7" y="1470.4" font-size="29.5" text-anchor="end">50</text>
<line x1="556.1" y1="1373.4" x2="565.8" y2="1373.4" stroke="#000" stroke-width="2"/>
<text x="552.7" y="1383" font-size="29.5" text-anchor="end">60</text>
<line x1="556.1" y1="1286" x2="565.8" y2="1286" stroke="#000" stroke-width="2"/>
<text x="552.7" y="1295.6" font-size="29.5" text-anchor="end">70</text>
<line x1="556.1" y1="1198.6" x2="565.8" y2="1198.6" stroke="#000" stroke-width="2"/>
<text x="552.7" y="1208.2" font-size="29.5" text-anchor="end">80</text>
<line x1="556.1" y1="1111.2" x2="565.8" y2="1111.2" stroke="#000" stroke-width="2"/>
<text x="552.7" y="1120.8" font-size="29.5" text-anchor="end">90</text>
<line x1="556.1" y1="1460.8" x2="799.4" y2="1460.8" stroke="#000" stroke-width="2"/>
<line x1="594.7" y1="1460.8" x2="594.7" y2="1470.8" stroke="#000" stroke-width="2"/>
<line x1="638.3" y1="1460.8" x2="638.3" y2="1470.8" stroke="#000" stroke-width="2"/>
<line x1="682.2" y1="1460.8" x2="682.2" y2="1470.8" stroke="#000" stroke-width="2"/>
<line x1="725.8" y1="1460.8" x2="725.8" y2="1470.8" stroke="#000" stroke-width="2"/>
<line x1="769.1" y1="1460.8" x2="769.1" y2="1470.8" stroke="#000" stroke-width="2"/>
<line x1="594.7" y1="1386.4" x2="594.7" y2="1440.6" stroke="#000" stroke-width="2"/>
<line x1="587.7" y1="1386.4" x2="601.7" y2="1386.4" stroke="#000" stroke-width="2"/>
<line x1="587.7" y1="1440.6" x2="601.7" y2="1440.6" stroke="#000" stroke-width="2"/>
<circle cx="588.4" cy="1372.6" r="8" fill="#000"/>
<circle cx="601" cy="1380.6" r="8" fill="#000"/>
<circle cx="594.7" cy="1416.7" r="8" fill="#000"/>
<circle cx="588.4" cy="1429.3" r="8" fill="#000"/>
<circle cx="601" cy="1444.4" r="8" fill="#000"/>
<circle cx="594.7" cy="1419" r="8" fill="#000"/>
<line x1="638.3" y1="1314.6" x2="638.3" y2="1424.3" stroke="#f52a1e" stroke-width="2"/>
<line x1="631.3" y1="1314.6" x2="645.3" y2="1314.6" stroke="#f52a1e" stroke-width="2"/>
<line x1="631.3" y1="1424.3" x2="645.3" y2="1424.3" stroke="#f52a1e" stroke-width="2"/>
<rect x="623.5" y="1313.2" width="15.5" height="15.5" fill="#f52a1e"/>
<rect x="637.4" y="1318.2" width="15.5" height="15.5" fill="#f52a1e"/>
<rect x="630.5" y="1347.2" width="15.5" height="15.5" fill="#f52a1e"/>
<rect x="630.5" y="1386.2" width="15.5" height="15.5" fill="#f52a1e"/>
<rect x="630.5" y="1445.5" width="15.5" height="15.5" fill="#f52a1e"/>
<line x1="682.2" y1="1279.3" x2="682.2" y2="1315.9" stroke="#1d10ee" stroke-width="2"/>
<line x1="675.2" y1="1279.3" x2="689.2" y2="1279.3" stroke="#1d10ee" stroke-width="2"/>
<line x1="675.2" y1="1315.9" x2="689.2" y2="1315.9" stroke="#1d10ee" stroke-width="2"/>
<polygon points="673.7,1285.7 690.7,1285.7 682.2,1270.3" fill="#1d10ee"/>
<polygon points="667.4,1297.1 684.4,1297.1 675.9,1281.8" fill="#1d10ee"/>
<polygon points="680,1309.7 697,1309.7 688.5,1294.3" fill="#1d10ee"/>
<polygon points="673.7,1332.4 690.7,1332.4 682.2,1317" fill="#1d10ee"/>
<polygon points="677.5,1303.7 694.5,1303.7 686,1288.3" fill="#1d10ee"/>
<line x1="725.8" y1="1270.5" x2="725.8" y2="1352.4" stroke="#6a6a6a" stroke-width="2"/>
<line x1="718.8" y1="1270.5" x2="732.8" y2="1270.5" stroke="#6a6a6a" stroke-width="2"/>
<line x1="718.8" y1="1352.4" x2="732.8" y2="1352.4" stroke="#6a6a6a" stroke-width="2"/>
<polygon points="714,1252.8 731,1252.8 722.5,1268.1" fill="#6a6a6a"/>
<polygon points="720.3,1261.5 737.3,1261.5 728.8,1276.9" fill="#6a6a6a"/>
<polygon points="714,1330.9 731,1330.9 722.5,1346.2" fill="#6a6a6a"/>
<polygon points="724.1,1337.2 741.1,1337.2 732.6,1352.6" fill="#6a6a6a"/>
<polygon points="718.5,1333.3 735.5,1333.3 727,1348.7" fill="#6a6a6a"/>
<line x1="769.1" y1="1217.6" x2="769.1" y2="1280.6" stroke="#4ad62a" stroke-width="2"/>
<line x1="762.1" y1="1217.6" x2="776.1" y2="1217.6" stroke="#4ad62a" stroke-width="2"/>
<line x1="762.1" y1="1280.6" x2="776.1" y2="1280.6" stroke="#4ad62a" stroke-width="2"/>
<polygon points="769.1,1196.2 778.6,1205.7 769.1,1215.2 759.6,1205.7" fill="#4ad62a"/>
<polygon points="769.1,1218.1 778.6,1227.6 769.1,1237.1 759.6,1227.6" fill="#4ad62a"/>
<polygon points="769.1,1248.4 778.6,1257.9 769.1,1267.4 759.6,1257.9" fill="#4ad62a"/>
<polygon points="762.8,1257.2 772.3,1266.7 762.8,1276.2 753.3,1266.7" fill="#4ad62a"/>
<polygon points="775.4,1273.6 784.9,1283.1 775.4,1292.6 765.9,1283.1" fill="#4ad62a"/>
<text x="601.5" y="1247.8" font-size="29.5"><tspan font-style="italic">P</tspan><tspan dx="2.6" font-size="25">=</tspan><tspan dx="6.3">0.018</tspan></text>
<line x1="635.5" y1="1259.6" x2="690.5" y2="1259.6" stroke="#000" stroke-width="2"/>
<text x="654.4" y="1193.6" font-size="29.5"><tspan font-style="italic">P</tspan><tspan dx="2.6" font-size="25">=</tspan><tspan dx="6.3">0.49</tspan></text>
<line x1="679.6" y1="1202.9" x2="734.3" y2="1202.9" stroke="#000" stroke-width="2"/>
<text x="665.8" y="1128.8" font-size="29.5"><tspan font-style="italic">P</tspan><tspan dx="2.6" font-size="25">=</tspan><tspan dx="6.3">0.024</tspan></text>
<line x1="677.1" y1="1141.2" x2="767.4" y2="1141.2" stroke="#000" stroke-width="2"/>
<text transform="translate(597,1486) rotate(-45)" font-size="29.5" text-anchor="end">Saline</text>
<text transform="translate(636.5,1490.5) rotate(-45)" font-size="29.5" text-anchor="end">SPEN</text>
<text transform="translate(690.5,1486.5) rotate(-45)" font-size="29.5" text-anchor="end">PEPA</text>
<text transform="translate(690.5,1486.5) rotate(-45)" x="0" y="11" font-size="18">EE</text>
<text transform="translate(736.1,1494.1) rotate(-45)" font-size="29.5" text-anchor="end">SPIN</text>
<text transform="translate(736.1,1494.1) rotate(-45)" x="0" y="11" font-size="18">EE</text>
<text transform="translate(786.7,1498) rotate(-45)" font-size="29.5" text-anchor="end">SPEN</text>
<text transform="translate(786.7,1498) rotate(-45)" x="0" y="11" font-size="18">EE</text>
<text transform="translate(503,1269.5) rotate(-90)" font-size="29.5" text-anchor="middle">SIINFEKL-H-2K<tspan dy="-11" font-size="19">b</tspan><tspan dy="11">display in DCs (%)</tspan></text>
<text x="863.5" y="1095.6" font-size="38" font-weight="bold">o</text>
<rect x="999" y="1463" width="33.5" height="3.6" fill="#616161"/>
<rect x="1055.2" y="1451.5" width="33.5" height="15" fill="#f07a80"/>
<rect x="1111.2" y="1363.7" width="33.5" height="102.9" fill="#5e55fb"/>
<rect x="1166.2" y="1214.4" width="33.5" height="252.2" fill="#b0fca8"/>
<rect x="1257.2" y="1464.8" width="33.5" height="1.8" fill="#616161"/>
<rect x="1313.5" y="1461.8" width="33.5" height="4.8" fill="#f07a80"/>
<rect x="1369.5" y="1449.7" width="33.5" height="16.9" fill="#5e55fb"/>
<rect x="1424.2" y="1429.3" width="33.5" height="37.3" fill="#b0fca8"/>
<line x1="980.1" y1="1104.4" x2="980.1" y2="1467.6" stroke="#000" stroke-width="2"/>
<line x1="965.1" y1="1466.6" x2="980.1" y2="1466.6" stroke="#000" stroke-width="2"/>
<text x="962.8" y="1476.2" font-size="29.5" text-anchor="end">0</text>
<line x1="965.1" y1="1346.2" x2="980.1" y2="1346.2" stroke="#000" stroke-width="2"/>
<text x="962.8" y="1355.8" font-size="29.5" text-anchor="end">2</text>
<line x1="965.1" y1="1225.8" x2="980.1" y2="1225.8" stroke="#000" stroke-width="2"/>
<text x="962.8" y="1235.4" font-size="29.5" text-anchor="end">4</text>
<line x1="965.1" y1="1105.4" x2="980.1" y2="1105.4" stroke="#000" stroke-width="2"/>
<text x="962.8" y="1115" font-size="29.5" text-anchor="end">6</text>
<line x1="965" y1="1466.6" x2="1479.8" y2="1466.6" stroke="#000" stroke-width="2"/>
<line x1="1099.4" y1="1466.6" x2="1099.4" y2="1480.6" stroke="#000" stroke-width="2"/>
<line x1="1357.5" y1="1466.6" x2="1357.5" y2="1480.6" stroke="#000" stroke-width="2"/>
<circle cx="1006.6" cy="1450" r="8" fill="#000"/>
<circle cx="1014.2" cy="1457.6" r="8" fill="#000"/>
<circle cx="1021.7" cy="1460.6" r="8" fill="#000"/>
<circle cx="1027.7" cy="1462.1" r="8" fill="#000"/>
<circle cx="1018" cy="1459" r="8" fill="#000"/>
<rect x="1053" y="1440.8" width="15.5" height="15.5" fill="#f52a1e"/>
<rect x="1059.2" y="1442.5" width="15.5" height="15.5" fill="#f52a1e"/>
<rect x="1066.7" y="1443.8" width="15.5" height="15.5" fill="#f52a1e"/>
<rect x="1071.2" y="1446.8" width="15.5" height="15.5" fill="#f52a1e"/>
<rect x="1075.7" y="1451.3" width="15.5" height="15.5" fill="#f52a1e"/>
<rect x="1077.2" y="1454.3" width="15.5" height="15.5" fill="#f52a1e"/>
<line x1="1128" y1="1319.6" x2="1128" y2="1402.5" stroke="#1d10ee" stroke-width="2"/>
<line x1="1117" y1="1319.6" x2="1139" y2="1319.6" stroke="#1d10ee" stroke-width="2"/>
<line x1="1117" y1="1402.5" x2="1139" y2="1402.5" stroke="#1d10ee" stroke-width="2"/>
<polygon points="1109,1334.2 1126,1334.2 1117.5,1318.9" fill="#1d10ee"/>
<polygon points="1128.2,1325.2 1145.2,1325.2 1136.7,1309.8" fill="#1d10ee"/>
<polygon points="1109,1359.2 1126,1359.2 1117.5,1343.9" fill="#1d10ee"/>
<polygon points="1128.2,1361.4 1145.2,1361.4 1136.7,1346" fill="#1d10ee"/>
<polygon points="1109,1418.6 1126,1418.6 1117.5,1403.2" fill="#1d10ee"/>
<polygon points="1128.2,1418.6 1145.2,1418.6 1136.7,1403.2" fill="#1d10ee"/>
<line x1="1182.9" y1="1173" x2="1182.9" y2="1249.8" stroke="#4ad62a" stroke-width="2"/>
<line x1="1171.9" y1="1173" x2="1193.9" y2="1173" stroke="#4ad62a" stroke-width="2"/>
<line x1="1171.9" y1="1249.8" x2="1193.9" y2="1249.8" stroke="#4ad62a" stroke-width="2"/>
<polygon points="1174.3,1136.6 1191.3,1136.6 1182.8,1152" fill="#4ad62a"/>
<polygon points="1174.3,1178.8 1191.3,1178.8 1182.8,1194.2" fill="#4ad62a"/>
<polygon points="1174.3,1204.4 1191.3,1204.4 1182.8,1219.8" fill="#4ad62a"/>
<polygon points="1163.8,1222.5 1180.8,1222.5 1172.3,1237.9" fill="#4ad62a"/>
<polygon points="1174.3,1227 1191.3,1227 1182.8,1242.4" fill="#4ad62a"/>
<polygon points="1184.9,1236 1201.9,1236 1193.4,1251.4" fill="#4ad62a"/>
<polygon points="1181.9,1239 1198.9,1239 1190.4,1254.4" fill="#4ad62a"/>
<circle cx="1264" cy="1463.6" r="8" fill="#000"/>
<circle cx="1270" cy="1463.6" r="8" fill="#000"/>
<circle cx="1276" cy="1463.6" r="8" fill="#000"/>
<circle cx="1282" cy="1463.6" r="8" fill="#000"/>
<circle cx="1286.7" cy="1463.6" r="8" fill="#000"/>
<rect x="1310.7" y="1454.8" width="15.5" height="15.5" fill="#f52a1e"/>
<rect x="1317.2" y="1454.8" width="15.5" height="15.5" fill="#f52a1e"/>
<rect x="1324.2" y="1454.8" width="15.5" height="15.5" fill="#f52a1e"/>
<rect x="1330.2" y="1454.8" width="15.5" height="15.5" fill="#f52a1e"/>
<rect x="1336.2" y="1454.8" width="15.5" height="15.5" fill="#f52a1e"/>
<polygon points="1366,1450.7 1383,1450.7 1374.5,1435.3" fill="#1d10ee"/>
<polygon points="1378.6,1445.7 1395.6,1445.7 1387.1,1430.3" fill="#1d10ee"/>
<polygon points="1372.3,1457.1 1389.3,1457.1 1380.8,1441.8" fill="#1d10ee"/>
<polygon points="1383.6,1459.6 1400.6,1459.6 1392.1,1444.2" fill="#1d10ee"/>
<polygon points="1389.9,1464.7 1406.9,1464.7 1398.4,1449.3" fill="#1d10ee"/>
<polygon points="1369.5,1462.7 1386.5,1462.7 1378,1447.3" fill="#1d10ee"/>
<line x1="1441" y1="1412.8" x2="1441" y2="1446" stroke="#4ad62a" stroke-width="2"/>
<line x1="1432" y1="1412.8" x2="1450" y2="1412.8" stroke="#4ad62a" stroke-width="2"/>
<line x1="1432" y1="1446" x2="1450" y2="1446" stroke="#4ad62a" stroke-width="2"/>
<polygon points="1435.3,1395 1452.3,1395 1443.8,1410.4" fill="#4ad62a"/>
<polygon points="1429,1405.1 1446,1405.1 1437.5,1420.5" fill="#4ad62a"/>
<polygon points="1422.7,1415.2 1439.7,1415.2 1431.2,1430.6" fill="#4ad62a"/>
<polygon points="1432.8,1424 1449.8,1424 1441.3,1439.4" fill="#4ad62a"/>
<polygon points="1442.9,1430.3 1459.9,1430.3 1451.4,1445.7" fill="#4ad62a"/>
<polygon points="1425.2,1425.3 1442.2,1425.3 1433.7,1440.7" fill="#4ad62a"/>
<text x="994.6" y="1279.9" font-size="29.5"><tspan font-style="italic">P</tspan><tspan dx="2.6" font-size="25">=</tspan><tspan dx="6.3">4.4 × 10</tspan><tspan dy="-11" font-size="19">-6</tspan></text>
<line x1="1054.8" y1="1295.5" x2="1126.5" y2="1295.5" stroke="#000" stroke-width="2"/>
<text x="1083.4" y="1112.7" font-size="29.5"><tspan font-style="italic">P</tspan><tspan dx="2.6" font-size="25">=</tspan><tspan dx="6.3">1.0 × 10</tspan><tspan dy="-11" font-size="19">-10</tspan></text>
<line x1="1122" y1="1127.8" x2="1193.4" y2="1127.8" stroke="#000" stroke-width="2"/>
<text x="1301.8" y="1404.5" font-size="29.5"><tspan font-style="italic">P</tspan><tspan dx="2.6" font-size="25">=</tspan><tspan dx="6.3">0.026</tspan></text>
<line x1="1328.9" y1="1417" x2="1388.5" y2="1417" stroke="#000" stroke-width="2"/>
<text x="1342.5" y="1347.5" font-size="29.5"><tspan font-style="italic">P</tspan><tspan dx="2.6" font-size="25">=</tspan><tspan dx="6.3">0.0029</tspan></text>
<line x1="1381.6" y1="1360" x2="1441.3" y2="1360" stroke="#000" stroke-width="2"/>
<circle cx="1299.7" cy="1130.7" r="8" fill="#000"/>
<text x="1324.6" y="1140.6" font-size="29.5">PBS</text>
<rect x="1292" y="1157.2" width="15.5" height="15.5" fill="#f52a1e"/>
<text x="1324.6" y="1175" font-size="29.5">SPEN</text>
<polygon points="1291.2,1207.1 1308.2,1207.1 1299.7,1191.8" fill="#1d10ee"/>
<text x="1324.6" y="1209.6" font-size="29.5">PEPA<tspan dy="9" font-size="19">EE</tspan></text>
<polygon points="1291.2,1225.8 1308.2,1225.8 1299.7,1241.1" fill="#4ad62a"/>
<text x="1324.6" y="1242.7" font-size="29.5">SPEN<tspan dy="10" font-size="19">EE</tspan></text>
<text x="1097.7" y="1511" font-size="29.5" text-anchor="middle">Total cell</text>
<text x="1356.2" y="1511" font-size="29.5" text-anchor="middle">T cell</text>
<text transform="translate(899.8,1285.9) rotate(-90)" font-size="29.5" text-anchor="middle">Lymphocytes number in LNs</text>
<text transform="translate(939.8,1282) rotate(-90)" font-size="29.5" text-anchor="middle">(× 10<tspan dy="-11" font-size="19">5</tspan><tspan dy="11">/node)</tspan></text>
<text x="1536" y="1100.5" font-size="38" font-weight="bold">p</text>
<rect x="1681.1" y="1473.4" width="34" height="4.5" fill="#616161"/>
<rect x="1736.9" y="1469.8" width="34" height="8.1" fill="#f07a80"/>
<rect x="1792.5" y="1443.5" width="34" height="34.4" fill="#5e55fb"/>
<rect x="1848.5" y="1399.2" width="34" height="78.7" fill="#b0fca8"/>
<rect x="1940.2" y="1466.6" width="34" height="11.3" fill="#616161"/>
<rect x="1995.9" y="1457.5" width="34" height="20.4" fill="#f07a80"/>
<rect x="2051.3" y="1376.1" width="34" height="101.8" fill="#5e55fb"/>
<rect x="2106.6" y="1274.3" width="34" height="203.6" fill="#b0fca8"/>
<line x1="1662.1" y1="1114.9" x2="1662.1" y2="1478.9" stroke="#000" stroke-width="2"/>
<line x1="1647.1" y1="1477.9" x2="1662.1" y2="1477.9" stroke="#000" stroke-width="2"/>
<text x="1646.6" y="1487.5" font-size="29.5" text-anchor="end">0</text>
<line x1="1647.1" y1="1387.4" x2="1662.1" y2="1387.4" stroke="#000" stroke-width="2"/>
<text x="1646.6" y="1397" font-size="29.5" text-anchor="end">2</text>
<line x1="1647.1" y1="1296.9" x2="1662.1" y2="1296.9" stroke="#000" stroke-width="2"/>
<text x="1646.6" y="1306.5" font-size="29.5" text-anchor="end">4</text>
<line x1="1647.1" y1="1206.4" x2="1662.1" y2="1206.4" stroke="#000" stroke-width="2"/>
<text x="1646.6" y="1216" font-size="29.5" text-anchor="end">6</text>
<line x1="1647.1" y1="1115.9" x2="1662.1" y2="1115.9" stroke="#000" stroke-width="2"/>
<text x="1646.6" y="1125.5" font-size="29.5" text-anchor="end">8</text>
<line x1="1647" y1="1477.9" x2="2166.8" y2="1477.9" stroke="#000" stroke-width="2"/>
<line x1="1781.5" y1="1477.9" x2="1781.5" y2="1491.9" stroke="#000" stroke-width="2"/>
<line x1="2039.8" y1="1477.9" x2="2039.8" y2="1491.9" stroke="#000" stroke-width="2"/>
<circle cx="1689.6" cy="1468.8" r="8" fill="#000"/>
<circle cx="1696.1" cy="1472" r="8" fill="#000"/>
<circle cx="1702.6" cy="1473.7" r="8" fill="#000"/>
<circle cx="1709.2" cy="1477" r="8" fill="#000"/>
<rect x="1735.7" y="1457.8" width="15.5" height="15.5" fill="#f52a1e"/>
<rect x="1747" y="1464.2" width="15.5" height="15.5" fill="#f52a1e"/>
<rect x="1756.8" y="1466" width="15.5" height="15.5" fill="#f52a1e"/>
<line x1="1809.5" y1="1429.7" x2="1809.5" y2="1454" stroke="#1d10ee" stroke-width="2"/>
<line x1="1799.5" y1="1429.7" x2="1819.5" y2="1429.7" stroke="#1d10ee" stroke-width="2"/>
<line x1="1799.5" y1="1454" x2="1819.5" y2="1454" stroke="#1d10ee" stroke-width="2"/>
<polygon points="1804.9,1432.5 1821.9,1432.5 1813.4,1417.1" fill="#1d10ee"/>
<polygon points="1791.9,1445.5 1808.9,1445.5 1800.4,1430.1" fill="#1d10ee"/>
<polygon points="1798.4,1452.1 1815.4,1452.1 1806.9,1436.8" fill="#1d10ee"/>
<polygon points="1808.1,1458.6 1825.1,1458.6 1816.6,1443.2" fill="#1d10ee"/>
<polygon points="1801.5,1454.7 1818.5,1454.7 1810,1439.3" fill="#1d10ee"/>
<line x1="1865.5" y1="1371.1" x2="1865.5" y2="1421.6" stroke="#4ad62a" stroke-width="2"/>
<line x1="1855.5" y1="1371.1" x2="1875.5" y2="1371.1" stroke="#4ad62a" stroke-width="2"/>
<line x1="1855.5" y1="1421.6" x2="1875.5" y2="1421.6" stroke="#4ad62a" stroke-width="2"/>
<polygon points="1856.4,1342.2 1873.4,1342.2 1864.9,1357.6" fill="#4ad62a"/>
<polygon points="1852.1,1376.4 1869.1,1376.4 1860.6,1391.8" fill="#4ad62a"/>
<polygon points="1861.9,1384.5 1878.9,1384.5 1870.4,1399.9" fill="#4ad62a"/>
<polygon points="1850.5,1404.1 1867.5,1404.1 1859,1419.5" fill="#4ad62a"/>
<polygon points="1866.1,1409 1883.1,1409 1874.6,1424.4" fill="#4ad62a"/>
<polygon points="1858.6,1402.5 1875.6,1402.5 1867.1,1417.9" fill="#4ad62a"/>
<line x1="1957.2" y1="1458" x2="1957.2" y2="1470" stroke="#000" stroke-width="2"/>
<line x1="1947.2" y1="1458" x2="1967.2" y2="1458" stroke="#000" stroke-width="2"/>
<line x1="1947.2" y1="1470" x2="1967.2" y2="1470" stroke="#000" stroke-width="2"/>
<circle cx="1946.9" cy="1454.1" r="8" fill="#000"/>
<circle cx="1953.5" cy="1462.3" r="8" fill="#000"/>
<circle cx="1960" cy="1467.2" r="8" fill="#000"/>
<circle cx="1966.5" cy="1473.7" r="8" fill="#000"/>
<line x1="2012.9" y1="1448" x2="2012.9" y2="1462" stroke="#f52a1e" stroke-width="2"/>
<line x1="2002.9" y1="1448" x2="2022.9" y2="1448" stroke="#f52a1e" stroke-width="2"/>
<line x1="2002.9" y1="1462" x2="2022.9" y2="1462" stroke="#f52a1e" stroke-width="2"/>
<rect x="1991.3" y="1435" width="15.5" height="15.5" fill="#f52a1e"/>
<rect x="2001" y="1441.5" width="15.5" height="15.5" fill="#f52a1e"/>
<rect x="2007.5" y="1449.7" width="15.5" height="15.5" fill="#f52a1e"/>
<rect x="2012.5" y="1456.2" width="15.5" height="15.5" fill="#f52a1e"/>
<line x1="2068.3" y1="1343.4" x2="2068.3" y2="1405.3" stroke="#1d10ee" stroke-width="2"/>
<line x1="2058.3" y1="1343.4" x2="2078.3" y2="1343.4" stroke="#1d10ee" stroke-width="2"/>
<line x1="2058.3" y1="1405.3" x2="2078.3" y2="1405.3" stroke="#1d10ee" stroke-width="2"/>
<polygon points="2068.7,1338.1 2085.7,1338.1 2077.2,1322.8" fill="#1d10ee"/>
<polygon points="2049.2,1359.2 2066.2,1359.2 2057.7,1343.8" fill="#1d10ee"/>
<polygon points="2050.8,1378.8 2067.8,1378.8 2059.3,1363.4" fill="#1d10ee"/>
<polygon points="2072,1393.4 2089,1393.4 2080.5,1378" fill="#1d10ee"/>
<polygon points="2050.8,1406.5 2067.8,1406.5 2059.3,1391.1" fill="#1d10ee"/>
<polygon points="2068.7,1419.5 2085.7,1419.5 2077.2,1404.1" fill="#1d10ee"/>
<line x1="2123.6" y1="1198.4" x2="2123.6" y2="1346.6" stroke="#4ad62a" stroke-width="2"/>
<line x1="2113.6" y1="1198.4" x2="2133.6" y2="1198.4" stroke="#4ad62a" stroke-width="2"/>
<line x1="2113.6" y1="1346.6" x2="2133.6" y2="1346.6" stroke="#4ad62a" stroke-width="2"/>
<polygon points="2114.3,1150 2131.3,1150 2122.8,1165.4" fill="#4ad62a"/>
<polygon points="2114.3,1194 2131.3,1194 2122.8,1209.4" fill="#4ad62a"/>
<polygon points="2114.3,1260.8 2131.3,1260.8 2122.8,1276.2" fill="#4ad62a"/>
<polygon points="2104.6,1311.3 2121.6,1311.3 2113.1,1326.7" fill="#4ad62a"/>
<polygon points="2111.1,1329.2 2128.1,1329.2 2119.6,1344.6" fill="#4ad62a"/>
<polygon points="2122.5,1329.2 2139.5,1329.2 2131,1344.6" fill="#4ad62a"/>
<text x="1726.4" y="1395.5" font-size="29.5"><tspan font-style="italic">P</tspan><tspan dx="2.6" font-size="25">=</tspan><tspan dx="6.3">0.024</tspan></text>
<line x1="1754.1" y1="1406.9" x2="1812.7" y2="1406.9" stroke="#000" stroke-width="2"/>
<text x="1766.2" y="1312.4" font-size="29.5"><tspan font-style="italic">P</tspan><tspan dx="2.6" font-size="25">=</tspan><tspan dx="6.3">0.0008</tspan></text>
<line x1="1806.9" y1="1324.5" x2="1865.5" y2="1324.5" stroke="#000" stroke-width="2"/>
<text x="1979.5" y="1293.9" font-size="29.5"><tspan font-style="italic">P</tspan><tspan dx="2.6" font-size="25">=</tspan><tspan dx="6.3">0.003</tspan></text>
<line x1="2007.2" y1="1305" x2="2066.8" y2="1305" stroke="#000" stroke-width="2"/>
<text x="2020.2" y="1125.1" font-size="29.5"><tspan font-style="italic">P</tspan><tspan dx="2.6" font-size="25">=</tspan><tspan dx="6.3">0.0001</tspan></text>
<line x1="2059.3" y1="1138.2" x2="2119.6" y2="1138.2" stroke="#000" stroke-width="2"/>
<circle cx="1697.8" cy="1118.6" r="8" fill="#000"/>
<text x="1727" y="1128.4" font-size="29.5">PBS</text>
<rect x="1690" y="1145" width="15.5" height="15.5" fill="#f52a1e"/>
<text x="1727" y="1162.6" font-size="29.5">SPEN</text>
<polygon points="1689.3,1194.7 1706.3,1194.7 1697.8,1179.3" fill="#1d10ee"/>
<text x="1727" y="1196.8" font-size="29.5">PEPA<tspan dy="9" font-size="19">EE</tspan></text>
<polygon points="1689.3,1212.9 1706.3,1212.9 1697.8,1228.2" fill="#4ad62a"/>
<text x="1727" y="1231" font-size="29.5">SPEN<tspan dy="10" font-size="19">EE</tspan></text>
<text x="1709.2" y="1522.5" font-size="29.5">CD8<tspan dy="-11" font-size="19">+</tspan><tspan dy="11"> T cell</tspan></text>
<text x="1966.5" y="1522.5" font-size="29.5">CD4<tspan dy="-11" font-size="19">+</tspan><tspan dy="11"> T cell</tspan></text>
<text transform="translate(1580.5,1298.5) rotate(-90)" font-size="29.5" text-anchor="middle">Lymphocytes number in LNs</text>
<text transform="translate(1620.5,1297.8) rotate(-90)" font-size="29.5" text-anchor="middle">(× 10<tspan dy="-11" font-size="19">4</tspan><tspan dy="11">/node)</tspan></text>
<text x="0" y="1647" font-size="38" font-weight="bold">q</text>
<line x1="133.8" y1="1643.9" x2="133.8" y2="2001.3" stroke="#000" stroke-width="2"/>
<line x1="124.5" y1="1998.6" x2="133.8" y2="1998.6" stroke="#000" stroke-width="2"/>
<text x="118.5" y="2009.2" font-size="29.5" text-anchor="end">0</text>
<line x1="124.5" y1="1880.7" x2="133.8" y2="1880.7" stroke="#000" stroke-width="2"/>
<text x="118.5" y="1891.3" font-size="29.5" text-anchor="end">500</text>
<line x1="124.5" y1="1762.8" x2="133.8" y2="1762.8" stroke="#000" stroke-width="2"/>
<text x="118.5" y="1773.4" font-size="29.5" text-anchor="end">1000</text>
<line x1="124.5" y1="1644.9" x2="133.8" y2="1644.9" stroke="#000" stroke-width="2"/>
<text x="118.5" y="1655.5" font-size="29.5" text-anchor="end">1500</text>
<line x1="133.8" y1="2000.3" x2="625" y2="2000.3" stroke="#000" stroke-width="2"/>
<line x1="133.8" y1="2000.3" x2="133.8" y2="2010.3" stroke="#000" stroke-width="2"/>
<text x="133.8" y="2041.5" font-size="29.5" text-anchor="middle">0</text>
<line x1="232" y1="2000.3" x2="232" y2="2010.3" stroke="#000" stroke-width="2"/>
<text x="232" y="2041.5" font-size="29.5" text-anchor="middle">5</text>
<line x1="330.2" y1="2000.3" x2="330.2" y2="2010.3" stroke="#000" stroke-width="2"/>
<text x="330.2" y="2041.5" font-size="29.5" text-anchor="middle">10</text>
<line x1="428.4" y1="2000.3" x2="428.4" y2="2010.3" stroke="#000" stroke-width="2"/>
<text x="428.4" y="2041.5" font-size="29.5" text-anchor="middle">15</text>
<line x1="526.6" y1="2000.3" x2="526.6" y2="2010.3" stroke="#000" stroke-width="2"/>
<text x="526.6" y="2041.5" font-size="29.5" text-anchor="middle">20</text>
<line x1="624.8" y1="2000.3" x2="624.8" y2="2010.3" stroke="#000" stroke-width="2"/>
<text x="624.8" y="2041.5" font-size="29.5" text-anchor="middle">25</text>
<text x="379" y="2071.7" font-size="29.5" text-anchor="middle">Days after tumour inoculation</text>
<text transform="translate(45,1827.5) rotate(-90)" font-size="29.5" text-anchor="middle">Tumor volume (mm<tspan dy="-11" font-size="19">3</tspan><tspan dy="11">)</tspan></text>
<polyline points="133.8,1998.6 290.9,1998.6 330.2,1998.6 369.5,1998.6 408.8,1998.6 448,1998.6 487.3,1998.1 526.6,1996.9 565.9,1996" fill="none" stroke="#c6c832" stroke-width="1.8"/>
<polygon points="133.8,1991.7 140.7,1998.6 133.8,2005.5 126.9,1998.6" fill="#c6c832"/>
<polygon points="290.9,1991.7 297.8,1998.6 290.9,2005.5 284,1998.6" fill="#c6c832"/>
<polygon points="330.2,1991.7 337.1,1998.6 330.2,2005.5 323.3,1998.6" fill="#c6c832"/>
<polygon points="369.5,1991.7 376.4,1998.6 369.5,2005.5 362.6,1998.6" fill="#c6c832"/>
<polygon points="408.8,1991.7 415.7,1998.6 408.8,2005.5 401.9,1998.6" fill="#c6c832"/>
<polygon points="448,1991.7 454.9,1998.6 448,2005.5 441.1,1998.6" fill="#c6c832"/>
<polygon points="487.3,1991.2 494.2,1998.1 487.3,2005 480.4,1998.1" fill="#c6c832"/>
<polygon points="526.6,1990 533.5,1996.9 526.6,2003.8 519.7,1996.9" fill="#c6c832"/>
<polygon points="565.9,1989.1 572.8,1996 565.9,2002.9 559,1996" fill="#c6c832"/>
<line x1="526.6" y1="1985.9" x2="526.6" y2="1992.5" stroke="#1d10ee" stroke-width="2"/>
<line x1="520.1" y1="1985.9" x2="533.1" y2="1985.9" stroke="#1d10ee" stroke-width="2"/>
<line x1="565.9" y1="1970.5" x2="565.9" y2="1985.9" stroke="#1d10ee" stroke-width="2"/>
<line x1="559.4" y1="1970.5" x2="572.4" y2="1970.5" stroke="#1d10ee" stroke-width="2"/>
<polyline points="133.8,1998.6 290.9,1998.6 330.2,1998.6 369.5,1998.6 408.8,1998.6 448,1998.4 487.3,1997.2 526.6,1992.5 565.9,1985.9" fill="none" stroke="#1d10ee" stroke-width="1.8"/>
<polygon points="127.1,1992.5 140.6,1992.5 133.8,2004.7" fill="#1d10ee"/>
<polygon points="284.2,1992.5 297.7,1992.5 290.9,2004.7" fill="#1d10ee"/>
<polygon points="323.5,1992.5 337,1992.5 330.2,2004.7" fill="#1d10ee"/>
<polygon points="362.7,1992.5 376.2,1992.5 369.5,2004.7" fill="#1d10ee"/>
<polygon points="402,1992.5 415.5,1992.5 408.8,2004.7" fill="#1d10ee"/>
<polygon points="441.3,1992.3 454.8,1992.3 448,2004.4" fill="#1d10ee"/>
<polygon points="480.6,1991.1 494.1,1991.1 487.3,2003.3" fill="#1d10ee"/>
<polygon points="519.9,1986.4 533.4,1986.4 526.6,1998.5" fill="#1d10ee"/>
<polygon points="559.1,1979.8 572.6,1979.8 565.9,1991.9" fill="#1d10ee"/>
<line x1="526.6" y1="1984.2" x2="526.6" y2="1989.2" stroke="#4ad62a" stroke-width="2"/>
<line x1="520.1" y1="1984.2" x2="533.1" y2="1984.2" stroke="#4ad62a" stroke-width="2"/>
<line x1="565.9" y1="1962.3" x2="565.9" y2="1978.3" stroke="#4ad62a" stroke-width="2"/>
<line x1="559.4" y1="1962.3" x2="572.4" y2="1962.3" stroke="#4ad62a" stroke-width="2"/>
<polyline points="133.8,1998.6 290.9,1998.6 330.2,1998.6 369.5,1998.6 408.8,1998.6 448,1998.1 487.3,1996.2 526.6,1989.2 565.9,1978.3" fill="none" stroke="#4ad62a" stroke-width="1.8"/>
<polygon points="127.1,2004.7 140.6,2004.7 133.8,1992.5" fill="#4ad62a"/>
<polygon points="284.2,2004.7 297.7,2004.7 290.9,1992.5" fill="#4ad62a"/>
<polygon points="323.5,2004.7 337,2004.7 330.2,1992.5" fill="#4ad62a"/>
<polygon points="362.7,2004.7 376.2,2004.7 369.5,1992.5" fill="#4ad62a"/>
<polygon points="402,2004.7 415.5,2004.7 408.8,1992.5" fill="#4ad62a"/>
<polygon points="441.3,2004.2 454.8,2004.2 448,1992.1" fill="#4ad62a"/>
<polygon points="480.6,2002.3 494.1,2002.3 487.3,1990.2" fill="#4ad62a"/>
<polygon points="519.9,1995.2 533.4,1995.2 526.6,1983.1" fill="#4ad62a"/>
<polygon points="559.1,1984.4 572.6,1984.4 565.9,1972.2" fill="#4ad62a"/>
<line x1="408.8" y1="1996.7" x2="408.8" y2="1998.1" stroke="#f52a1e" stroke-width="2"/>
<line x1="402.3" y1="1996.7" x2="415.3" y2="1996.7" stroke="#f52a1e" stroke-width="2"/>
<line x1="487.3" y1="1982.3" x2="487.3" y2="1989.2" stroke="#f52a1e" stroke-width="2"/>
<line x1="480.8" y1="1982.3" x2="493.8" y2="1982.3" stroke="#f52a1e" stroke-width="2"/>
<line x1="526.6" y1="1954.5" x2="526.6" y2="1973.4" stroke="#f52a1e" stroke-width="2"/>
<line x1="520.1" y1="1954.5" x2="533.1" y2="1954.5" stroke="#f52a1e" stroke-width="2"/>
<line x1="565.9" y1="1905.7" x2="565.9" y2="1947.7" stroke="#f52a1e" stroke-width="2"/>
<line x1="559.4" y1="1905.7" x2="572.4" y2="1905.7" stroke="#f52a1e" stroke-width="2"/>
<polyline points="133.8,1998.6 290.9,1998.6 330.2,1998.6 369.5,1998.6 408.8,1998.1 448,1997.4 487.3,1989.2 526.6,1973.4 565.9,1947.7" fill="none" stroke="#f52a1e" stroke-width="1.8"/>
<rect x="127.4" y="1992.2" width="12.8" height="12.8" fill="#f52a1e"/>
<rect x="284.5" y="1992.2" width="12.8" height="12.8" fill="#f52a1e"/>
<rect x="323.8" y="1992.2" width="12.8" height="12.8" fill="#f52a1e"/>
<rect x="363.1" y="1992.2" width="12.8" height="12.8" fill="#f52a1e"/>
<rect x="402.3" y="1991.7" width="12.8" height="12.8" fill="#f52a1e"/>
<rect x="441.6" y="1991" width="12.8" height="12.8" fill="#f52a1e"/>
<rect x="480.9" y="1982.8" width="12.8" height="12.8" fill="#f52a1e"/>
<rect x="520.2" y="1967" width="12.8" height="12.8" fill="#f52a1e"/>
<rect x="559.5" y="1941.3" width="12.8" height="12.8" fill="#f52a1e"/>
<line x1="408.8" y1="1984.2" x2="408.8" y2="1990.1" stroke="#000" stroke-width="2"/>
<line x1="402.3" y1="1984.2" x2="415.3" y2="1984.2" stroke="#000" stroke-width="2"/>
<line x1="448" y1="1979" x2="448" y2="1987.5" stroke="#000" stroke-width="2"/>
<line x1="441.5" y1="1979" x2="454.5" y2="1979" stroke="#000" stroke-width="2"/>
<line x1="487.3" y1="1893.2" x2="487.3" y2="1944.4" stroke="#000" stroke-width="2"/>
<line x1="480.8" y1="1893.2" x2="493.8" y2="1893.2" stroke="#000" stroke-width="2"/>
<line x1="526.6" y1="1797.2" x2="526.6" y2="1902.6" stroke="#000" stroke-width="2"/>
<line x1="520.1" y1="1797.2" x2="533.1" y2="1797.2" stroke="#000" stroke-width="2"/>
<line x1="565.9" y1="1709.5" x2="565.9" y2="1856.2" stroke="#000" stroke-width="2"/>
<line x1="559.4" y1="1709.5" x2="572.4" y2="1709.5" stroke="#000" stroke-width="2"/>
<polyline points="133.8,1998.6 290.9,1997.7 330.2,1994.8 369.5,1993.6 408.8,1990.1 448,1987.5 487.3,1944.4 526.6,1902.6 565.9,1856.2" fill="none" stroke="#000" stroke-width="1.8"/>
<circle cx="133.8" cy="1998.6" r="6.8" fill="#000"/>
<circle cx="290.9" cy="1997.7" r="6.8" fill="#000"/>
<circle cx="330.2" cy="1994.8" r="6.8" fill="#000"/>
<circle cx="369.5" cy="1993.6" r="6.8" fill="#000"/>
<circle cx="408.8" cy="1990.1" r="6.8" fill="#000"/>
<circle cx="448" cy="1987.5" r="6.8" fill="#000"/>
<circle cx="487.3" cy="1944.4" r="6.8" fill="#000"/>
<circle cx="526.6" cy="1902.6" r="6.8" fill="#000"/>
<circle cx="565.9" cy="1856.2" r="6.8" fill="#000"/>
<text x="151.6" y="1686.9" font-size="29.5">Pyroptotic cells (× 10<tspan dy="-11" font-size="19">4</tspan><tspan dy="11">)</tspan></text>
<line x1="189.4" y1="1716.9" x2="228.1" y2="1716.9" stroke="#000" stroke-width="1.7"/>
<circle cx="208.9" cy="1716.9" r="6.8" fill="#000"/>
<text x="249.3" y="1727.4" font-size="29.5">0</text>
<line x1="189.4" y1="1752.3" x2="228.1" y2="1752.3" stroke="#f52a1e" stroke-width="1.7"/>
<rect x="202.5" y="1745.9" width="12.8" height="12.8" fill="#f52a1e"/>
<text x="249.3" y="1762.8" font-size="29.5">2</text>
<line x1="189.4" y1="1784.6" x2="228.1" y2="1784.6" stroke="#4ad62a" stroke-width="1.7"/>
<polygon points="202.2,1790.7 215.7,1790.7 208.9,1778.5" fill="#4ad62a"/>
<text x="249.3" y="1795.1" font-size="29.5">4</text>
<line x1="189.4" y1="1819.7" x2="228.1" y2="1819.7" stroke="#1d10ee" stroke-width="1.7"/>
<polygon points="202.2,1813.6 215.7,1813.6 208.9,1825.8" fill="#1d10ee"/>
<text x="249.3" y="1830.2" font-size="29.5">10</text>
<line x1="189.4" y1="1855" x2="228.1" y2="1855" stroke="#c6c832" stroke-width="1.7"/>
<polygon points="208.9,1848.1 215.8,1855 208.9,1861.9 202,1855" fill="#c6c832"/>
<text x="249.3" y="1865.5" font-size="29.5">20</text>
<text x="712" y="1646" font-size="38" font-weight="bold">r</text>
<g clip-path="url(#clipR)">
<rect x="775.5" y="1628.5" width="899.0" height="478.5" fill="url(#gBlue)"/>
<rect x="775.5" y="1628.5" width="899.0" height="478.5" fill="url(#noise)" opacity="0.3"/>
<rect x="775.5" y="1669" width="24" height="263" fill="#6e6e70"/><rect x="795" y="1669" width="4.5" height="263" fill="#8a8a8c"/>
<circle cx="782" cy="1690" r="6" fill="#3a78a6"/>
<rect x="776" y="1710" width="4" height="12" fill="#c03030"/>
<path d="M824.4,1842 L809.4,1880 L818.2,1884 L842,1857 Z" fill="#e6e2d8"/>
<path d="M903.6,1842 L918.6,1880 L909.8,1884 L886,1857 Z" fill="#e6e2d8"/>
<rect x="861" y="1857" width="6" height="55" fill="#e4ddd4"/>
<path d="M828.8,1703.4 L804.2,1688.4 L802.4,1698.4 L827,1721.4 Z" fill="#e6e2d8"/>
<path d="M899.2,1703.4 L923.8,1688.4 L925.6,1698.4 L901,1721.4 Z" fill="#e6e2d8"/>
<path d="M915.5,1835 L900.2,1873 L909.2,1877 L933.5,1850 Z" fill="#e6e2d8"/>
<path d="M996.5,1835 L1011.8,1873 L1002.8,1877 L978.5,1850 Z" fill="#e6e2d8"/>
<rect x="953" y="1850" width="6" height="55" fill="#e4ddd4"/>
<path d="M920,1690.6 L894.8,1675.6 L893,1685.6 L918.2,1708.6 Z" fill="#e6e2d8"/>
<path d="M992,1690.6 L1017.2,1675.6 L1019,1685.6 L993.8,1708.6 Z" fill="#e6e2d8"/>
<path d="M1021.4,1830 L1006.4,1868 L1015.2,1872 L1039,1845 Z" fill="#e6e2d8"/>
<path d="M1100.6,1830 L1115.6,1868 L1106.8,1872 L1083,1845 Z" fill="#e6e2d8"/>
<rect x="1058" y="1845" width="6" height="55" fill="#e4ddd4"/>
<path d="M1025.8,1698.3 L1001.2,1683.3 L999.4,1693.3 L1024,1716.3 Z" fill="#e6e2d8"/>
<path d="M1096.2,1698.3 L1120.8,1683.3 L1122.6,1693.3 L1098,1716.3 Z" fill="#e6e2d8"/>
<path d="M1126.4,1822 L1111.4,1860 L1120.2,1864 L1144,1837 Z" fill="#e6e2d8"/>
<path d="M1205.6,1822 L1220.6,1860 L1211.8,1864 L1188,1837 Z" fill="#e6e2d8"/>
<rect x="1163" y="1837" width="6" height="55" fill="#e4ddd4"/>
<path d="M1130.8,1690.6 L1106.2,1675.6 L1104.4,1685.6 L1129,1708.6 Z" fill="#e6e2d8"/>
<path d="M1201.2,1690.6 L1225.8,1675.6 L1227.6,1685.6 L1203,1708.6 Z" fill="#e6e2d8"/>
<path d="M1224.2,1822 L1209.9,1860 L1218.3,1864 L1241,1837 Z" fill="#e6e2d8"/>
<path d="M1299.8,1822 L1314.1,1860 L1305.7,1864 L1283,1837 Z" fill="#e6e2d8"/>
<rect x="1259" y="1837" width="6" height="55" fill="#e4ddd4"/>
<path d="M1228.4,1692 L1204.9,1677 L1203.2,1687 L1226.7,1710 Z" fill="#e6e2d8"/>
<path d="M1295.6,1692 L1319.1,1677 L1320.8,1687 L1297.3,1710 Z" fill="#e6e2d8"/>
<path d="M1312.6,1825 L1298.7,1863 L1306.9,1867 L1329,1840 Z" fill="#e6e2d8"/>
<path d="M1386.4,1825 L1400.3,1863 L1392.1,1867 L1370,1840 Z" fill="#e6e2d8"/>
<rect x="1346.5" y="1840" width="6" height="55" fill="#e4ddd4"/>
<path d="M1316.7,1690.6 L1293.7,1675.6 L1292.1,1685.6 L1315.1,1708.6 Z" fill="#e6e2d8"/>
<path d="M1382.3,1690.6 L1405.3,1675.6 L1406.9,1685.6 L1383.9,1708.6 Z" fill="#e6e2d8"/>
<path d="M1404.9,1825 L1391.6,1863 L1399.4,1867 L1420.5,1840 Z" fill="#e6e2d8"/>
<path d="M1475.1,1825 L1488.4,1863 L1480.6,1867 L1459.5,1840 Z" fill="#e6e2d8"/>
<rect x="1437" y="1840" width="6" height="55" fill="#e4ddd4"/>
<path d="M1408.8,1695.7 L1387,1680.7 L1385.4,1690.7 L1407.2,1713.7 Z" fill="#e6e2d8"/>
<path d="M1471.2,1695.7 L1493,1680.7 L1494.6,1690.7 L1472.8,1713.7 Z" fill="#e6e2d8"/>
<path d="M1489.9,1822 L1476.6,1860 L1484.4,1864 L1505.5,1837 Z" fill="#e6e2d8"/>
<path d="M1560.1,1822 L1573.4,1860 L1565.6,1864 L1544.5,1837 Z" fill="#e6e2d8"/>
<rect x="1522" y="1837" width="6" height="55" fill="#e4ddd4"/>
<path d="M1493.8,1698.3 L1472,1683.3 L1470.4,1693.3 L1492.2,1716.3 Z" fill="#e6e2d8"/>
<path d="M1556.2,1698.3 L1578,1683.3 L1579.6,1693.3 L1557.8,1716.3 Z" fill="#e6e2d8"/>
<path d="M1579.3,1822 L1564.7,1860 L1573.3,1864 L1596.5,1837 Z" fill="#e6e2d8"/>
<path d="M1656.7,1822 L1671.3,1860 L1662.7,1864 L1639.5,1837 Z" fill="#e6e2d8"/>
<rect x="1615" y="1837" width="6" height="55" fill="#e4ddd4"/>
<path d="M1583.6,1700.8 L1559.5,1685.8 L1557.8,1695.8 L1581.9,1718.8 Z" fill="#e6e2d8"/>
<path d="M1652.4,1700.8 L1676.5,1685.8 L1678.2,1695.8 L1654.1,1718.8 Z" fill="#e6e2d8"/>
<path d="M822,1930.5 L798.6,1918.5 L796.8,1928.5 L820.2,1948.5 Z" fill="#e6e2d8"/>
<path d="M894,1930.5 L917.4,1918.5 L919.2,1928.5 L895.8,1948.5 Z" fill="#e6e2d8"/>
<path d="M922.4,1928 L898,1916 L896.1,1926 L920.5,1946 Z" fill="#e6e2d8"/>
<path d="M997.6,1928 L1022,1916 L1023.9,1926 L999.5,1946 Z" fill="#e6e2d8"/>
<path d="M1029.6,1938.2 L1004.6,1926.2 L1002.7,1936.2 L1027.7,1956.2 Z" fill="#e6e2d8"/>
<path d="M1106.4,1938.2 L1131.4,1926.2 L1133.3,1936.2 L1108.3,1956.2 Z" fill="#e6e2d8"/>
<path d="M1147.2,1943.3 L1128.5,1931.3 L1127,1941.3 L1145.8,1961.3 Z" fill="#e6e2d8"/>
<path d="M1204.8,1943.3 L1223.5,1931.3 L1225,1941.3 L1206.2,1961.3 Z" fill="#e6e2d8"/>
<path d="M1230,1945.9 L1209.2,1933.9 L1207.6,1943.9 L1228.4,1963.9 Z" fill="#e6e2d8"/>
<path d="M1294,1945.9 L1314.8,1933.9 L1316.4,1943.9 L1295.6,1963.9 Z" fill="#e6e2d8"/>
<path d="M1323.9,1943.3 L1302.1,1931.3 L1300.4,1941.3 L1322.2,1961.3 Z" fill="#e6e2d8"/>
<path d="M1391.1,1943.3 L1412.9,1931.3 L1414.6,1941.3 L1392.8,1961.3 Z" fill="#e6e2d8"/>
<path d="M1417,1940.8 L1396.2,1928.8 L1394.6,1938.8 L1415.4,1958.8 Z" fill="#e6e2d8"/>
<path d="M1481,1940.8 L1501.8,1928.8 L1503.4,1938.8 L1482.6,1958.8 Z" fill="#e6e2d8"/>
<path d="M1507,1943.3 L1486.2,1931.3 L1484.6,1941.3 L1505.4,1961.3 Z" fill="#e6e2d8"/>
<path d="M1571,1943.3 L1591.8,1931.3 L1593.4,1941.3 L1572.6,1961.3 Z" fill="#e6e2d8"/>
<path d="M1596.9,1945.9 L1575.1,1933.9 L1573.4,1943.9 L1595.2,1963.9 Z" fill="#e6e2d8"/>
<path d="M1664.1,1945.9 L1685.9,1933.9 L1687.6,1943.9 L1665.8,1963.9 Z" fill="#e6e2d8"/>
<path d="M864,1643.4 C869.6,1643.4 873.4,1654.3 876.2,1669.6 C880,1687.1 892.2,1695.9 903.5,1713.4 C912.9,1730.8 913.8,1785.5 911,1818.3 C908.2,1851.1 892.2,1862 864,1862 C835.8,1862 819.8,1851.1 817,1818.3 C814.2,1785.5 815.1,1730.8 824.5,1713.4 C835.8,1695.9 848,1687.1 851.8,1669.6 C854.6,1654.3 858.4,1643.4 864,1643.4 Z" fill="#e4e1d6"/>
<path d="M864,1653.4 C868.9,1653.4 872.2,1663.1 874.7,1676.8 C877.9,1692.3 888.6,1700.1 898.4,1715.7 C906.6,1731.2 907.5,1779.9 905,1809.1 C902.5,1838.3 888.6,1848 864,1848 C839.4,1848 825.5,1838.3 823,1809.1 C820.5,1779.9 821.4,1731.2 829.6,1715.7 C839.4,1700.1 850.1,1692.3 853.3,1676.8 C855.8,1663.1 859.1,1653.4 864,1653.4 Z" fill="url(#gMouse)"/>
<ellipse cx="864" cy="1752.7" rx="26.4" ry="26.2" fill="#9c8cb4" opacity="0.35" filter="url(#blur6)"/>
<path d="M956,1630.6 C961.8,1630.6 965.6,1641.8 968.5,1657.5 C972.3,1675.5 984.8,1684.5 996.3,1702.4 C1005.9,1720.4 1006.9,1776.5 1004,1810.1 C1001.1,1843.8 984.8,1855 956,1855 C927.2,1855 910.9,1843.8 908,1810.1 C905.1,1776.5 906.1,1720.4 915.7,1702.4 C927.2,1684.5 939.7,1675.5 943.5,1657.5 C946.4,1641.8 950.2,1630.6 956,1630.6 Z" fill="#e4e1d6"/>
<path d="M956,1640.6 C961,1640.6 964.4,1650.6 966.9,1664.6 C970.3,1680.7 981.2,1688.7 991.3,1704.7 C999.7,1720.8 1000.5,1770.9 998,1800.9 C995.5,1831 981.2,1841 956,1841 C930.8,1841 916.5,1831 914,1800.9 C911.5,1770.9 912.3,1720.8 920.7,1704.7 C930.8,1688.7 941.7,1680.7 945.1,1664.6 C947.6,1650.6 951,1640.6 956,1640.6 Z" fill="url(#gMouse)"/>
<ellipse cx="956" cy="1742.8" rx="27" ry="26.9" fill="#9c8cb4" opacity="0.35" filter="url(#blur6)"/>
<path d="M1061,1638.3 C1066.6,1638.3 1070.4,1648.9 1073.2,1663.7 C1077,1680.6 1089.2,1689.1 1100.5,1706 C1109.9,1723 1110.8,1775.9 1108,1807.7 C1105.2,1839.4 1089.2,1850 1061,1850 C1032.8,1850 1016.8,1839.4 1014,1807.7 C1011.2,1775.9 1012.1,1723 1021.5,1706 C1032.8,1689.1 1045,1680.6 1048.8,1663.7 C1051.6,1648.9 1055.4,1638.3 1061,1638.3 Z" fill="#e4e1d6"/>
<path d="M1061,1648.3 C1065.9,1648.3 1069.2,1657.7 1071.7,1670.8 C1074.9,1685.8 1085.6,1693.3 1095.4,1708.4 C1103.6,1723.4 1104.5,1770.3 1102,1798.5 C1099.5,1826.6 1085.6,1836 1061,1836 C1036.4,1836 1022.5,1826.6 1020,1798.5 C1017.5,1770.3 1018.4,1723.4 1026.6,1708.4 C1036.4,1693.3 1047.1,1685.8 1050.3,1670.8 C1052.8,1657.7 1056.1,1648.3 1061,1648.3 Z" fill="url(#gMouse)"/>
<ellipse cx="1061" cy="1744.2" rx="26.4" ry="25.4" fill="#9c8cb4" opacity="0.35" filter="url(#blur6)"/>
<path d="M1166,1630.6 C1171.6,1630.6 1175.4,1641.2 1178.2,1656 C1182,1672.9 1194.2,1681.3 1205.5,1698.2 C1214.9,1715.2 1215.8,1768 1213,1799.7 C1210.2,1831.4 1194.2,1842 1166,1842 C1137.8,1842 1121.8,1831.4 1119,1799.7 C1116.2,1768 1117.1,1715.2 1126.5,1698.2 C1137.8,1681.3 1150,1672.9 1153.8,1656 C1156.6,1641.2 1160.4,1630.6 1166,1630.6 Z" fill="#e4e1d6"/>
<path d="M1166,1640.6 C1170.9,1640.6 1174.2,1650 1176.7,1663.1 C1179.9,1678.1 1190.6,1685.6 1200.4,1700.6 C1208.6,1715.6 1209.5,1762.4 1207,1790.5 C1204.5,1818.6 1190.6,1828 1166,1828 C1141.4,1828 1127.5,1818.6 1125,1790.5 C1122.5,1762.4 1123.4,1715.6 1131.6,1700.6 C1141.4,1685.6 1152.1,1678.1 1155.3,1663.1 C1157.8,1650 1161.1,1640.6 1166,1640.6 Z" fill="url(#gMouse)"/>
<ellipse cx="1166" cy="1736.3" rx="26.4" ry="25.4" fill="#9c8cb4" opacity="0.35" filter="url(#blur6)"/>
<path d="M1262,1632 C1267.4,1632 1271,1642.5 1273.7,1657.2 C1277.3,1674 1289,1682.4 1299.8,1699.2 C1308.8,1716 1309.7,1768.5 1307,1800 C1304.3,1831.5 1289,1842 1262,1842 C1235,1842 1219.7,1831.5 1217,1800 C1214.3,1768.5 1215.2,1716 1224.2,1699.2 C1235,1682.4 1246.7,1674 1250.3,1657.2 C1253,1642.5 1256.6,1632 1262,1632 Z" fill="#e4e1d6"/>
<path d="M1262,1642 C1266.7,1642 1269.8,1651.3 1272.1,1664.3 C1275.3,1679.2 1285.4,1686.6 1294.8,1701.5 C1302.6,1716.4 1303.3,1762.9 1301,1790.8 C1298.7,1818.7 1285.4,1828 1262,1828 C1238.6,1828 1225.3,1818.7 1223,1790.8 C1220.7,1762.9 1221.4,1716.4 1229.2,1701.5 C1238.6,1686.6 1248.7,1679.2 1251.9,1664.3 C1254.2,1651.3 1257.3,1642 1262,1642 Z" fill="url(#gMouse)"/>
<ellipse cx="1262" cy="1737" rx="25.2" ry="25.2" fill="#9c8cb4" opacity="0.35" filter="url(#blur6)"/>
<path d="M1349.5,1630.6 C1354.8,1630.6 1358.3,1641.3 1360.9,1656.3 C1364.5,1673.5 1375.9,1682.1 1386.5,1699.2 C1395.3,1716.4 1396.1,1770 1393.5,1802.1 C1390.9,1834.3 1375.9,1845 1349.5,1845 C1323.1,1845 1308.1,1834.3 1305.5,1802.1 C1302.9,1770 1303.7,1716.4 1312.5,1699.2 C1323.1,1682.1 1334.5,1673.5 1338.1,1656.3 C1340.7,1641.3 1344.2,1630.6 1349.5,1630.6 Z" fill="#e4e1d6"/>
<path d="M1349.5,1640.6 C1354.1,1640.6 1357.1,1650.1 1359.4,1663.4 C1362.4,1678.7 1372.3,1686.3 1381.4,1701.5 C1389,1716.8 1389.8,1764.4 1387.5,1792.9 C1385.2,1821.5 1372.3,1831 1349.5,1831 C1326.7,1831 1313.8,1821.5 1311.5,1792.9 C1309.2,1764.4 1310,1716.8 1317.6,1701.5 C1326.7,1686.3 1336.6,1678.7 1339.6,1663.4 C1341.9,1650.1 1344.9,1640.6 1349.5,1640.6 Z" fill="url(#gMouse)"/>
<ellipse cx="1349.5" cy="1737.8" rx="24.6" ry="25.7" fill="#9c8cb4" opacity="0.35" filter="url(#blur6)"/>
<path d="M1440,1635.7 C1445,1635.7 1448.4,1646.2 1450.9,1660.8 C1454.3,1677.6 1465.2,1685.9 1475.3,1702.7 C1483.7,1719.4 1484.5,1771.7 1482,1803.1 C1479.5,1834.5 1465.2,1845 1440,1845 C1414.8,1845 1400.5,1834.5 1398,1803.1 C1395.5,1771.7 1396.3,1719.4 1404.7,1702.7 C1414.8,1685.9 1425.7,1677.6 1429.1,1660.8 C1431.6,1646.2 1435,1635.7 1440,1635.7 Z" fill="#e4e1d6"/>
<path d="M1440,1645.7 C1444.3,1645.7 1447.2,1655 1449.4,1667.9 C1452.2,1682.8 1461.6,1690.2 1470.2,1705 C1477.4,1719.8 1478.2,1766.1 1476,1793.9 C1473.8,1821.7 1461.6,1831 1440,1831 C1418.4,1831 1406.2,1821.7 1404,1793.9 C1401.8,1766.1 1402.6,1719.8 1409.8,1705 C1418.4,1690.2 1427.8,1682.8 1430.6,1667.9 C1432.8,1655 1435.7,1645.7 1440,1645.7 Z" fill="url(#gMouse)"/>
<ellipse cx="1440" cy="1740.3" rx="23.4" ry="25.1" fill="#9c8cb4" opacity="0.35" filter="url(#blur6)"/>
<path d="M1525,1638.3 C1530,1638.3 1533.4,1648.5 1535.9,1662.7 C1539.3,1679 1550.2,1687.2 1560.3,1703.5 C1568.7,1719.8 1569.5,1770.7 1567,1801.3 C1564.5,1831.8 1550.2,1842 1525,1842 C1499.8,1842 1485.5,1831.8 1483,1801.3 C1480.5,1770.7 1481.3,1719.8 1489.7,1703.5 C1499.8,1687.2 1510.7,1679 1514.1,1662.7 C1516.6,1648.5 1520,1638.3 1525,1638.3 Z" fill="#e4e1d6"/>
<path d="M1525,1648.3 C1529.3,1648.3 1532.2,1657.3 1534.4,1669.9 C1537.2,1684.2 1546.6,1691.4 1555.2,1705.8 C1562.4,1720.2 1563.2,1765.1 1561,1792.1 C1558.8,1819 1546.6,1828 1525,1828 C1503.4,1828 1491.2,1819 1489,1792.1 C1486.8,1765.1 1487.6,1720.2 1494.8,1705.8 C1503.4,1691.4 1512.8,1684.2 1515.6,1669.9 C1517.8,1657.3 1520.7,1648.3 1525,1648.3 Z" fill="url(#gMouse)"/>
<ellipse cx="1525" cy="1740.2" rx="23.4" ry="24.4" fill="#9c8cb4" opacity="0.35" filter="url(#blur6)"/>
<path d="M1618,1640.8 C1623.5,1640.8 1627.2,1650.9 1630,1664.9 C1633.6,1681 1645.6,1689.1 1656.6,1705.2 C1665.8,1721.3 1666.8,1771.6 1664,1801.8 C1661.2,1831.9 1645.6,1842 1618,1842 C1590.4,1842 1574.8,1831.9 1572,1801.8 C1569.2,1771.6 1570.2,1721.3 1579.4,1705.2 C1590.4,1689.1 1602.4,1681 1606,1664.9 C1608.8,1650.9 1612.5,1640.8 1618,1640.8 Z" fill="#e4e1d6"/>
<path d="M1618,1650.8 C1622.8,1650.8 1626,1659.7 1628.4,1672.1 C1631.6,1686.2 1642,1693.3 1651.6,1707.5 C1659.6,1721.7 1660.4,1766 1658,1792.6 C1655.6,1819.1 1642,1828 1618,1828 C1594,1828 1580.4,1819.1 1578,1792.6 C1575.6,1766 1576.4,1721.7 1584.4,1707.5 C1594,1693.3 1604.4,1686.2 1607.6,1672.1 C1610,1659.7 1613.2,1650.8 1618,1650.8 Z" fill="url(#gMouse)"/>
<ellipse cx="1618" cy="1741.4" rx="25.8" ry="24.1" fill="#9c8cb4" opacity="0.35" filter="url(#blur6)"/>
<path d="M858,1870.5 C863.8,1870.5 867.6,1883.2 870.5,1901 C874.3,1921.4 886.8,1931.6 898.3,1951.9 C907.9,1972.3 908.9,2035.9 906,2074.1 C903.1,2112.3 886.8,2125 858,2125 C829.2,2125 812.9,2112.3 810,2074.1 C807.1,2035.9 808.1,1972.3 817.7,1951.9 C829.2,1931.6 841.7,1921.4 845.5,1901 C848.4,1883.2 852.2,1870.5 858,1870.5 Z" fill="#e4e1d6"/>
<path d="M858,1880.5 C863,1880.5 866.4,1892 868.9,1908.2 C872.3,1926.6 883.2,1935.8 893.3,1954.3 C901.7,1972.7 902.5,2030.3 900,2064.9 C897.5,2099.5 883.2,2111 858,2111 C832.8,2111 818.5,2099.5 816,2064.9 C813.5,2030.3 814.3,1972.7 822.7,1954.3 C832.8,1935.8 843.7,1926.6 847.1,1908.2 C849.6,1892 853,1880.5 858,1880.5 Z" fill="url(#gMouse)"/>
<ellipse cx="858" cy="1997.8" rx="27" ry="30.5" fill="#9c8cb4" opacity="0.35" filter="url(#blur6)"/>
<path d="M960,1868 C966,1868 970,1880.8 973,1898.8 C977,1919.4 990,1929.7 1002,1950.2 C1012,1970.8 1013,2035 1010,2073.6 C1007,2112.2 990,2125 960,2125 C930,2125 913,2112.2 910,2073.6 C907,2035 908,1970.8 918,1950.2 C930,1929.7 943,1919.4 947,1898.8 C950,1880.8 954,1868 960,1868 Z" fill="#e4e1d6"/>
<path d="M960,1878 C965.3,1878 968.8,1889.7 971.4,1906 C975,1924.6 986.4,1933.9 997,1952.6 C1005.8,1971.2 1006.6,2029.5 1004,2064.4 C1001.4,2099.3 986.4,2111 960,2111 C933.6,2111 918.6,2099.3 916,2064.4 C913.4,2029.5 914.2,1971.2 923,1952.6 C933.6,1933.9 945,1924.6 948.6,1906 C951.2,1889.7 954.7,1878 960,1878 Z" fill="url(#gMouse)"/>
<ellipse cx="960" cy="1996.5" rx="28.2" ry="30.8" fill="#9c8cb4" opacity="0.35" filter="url(#blur6)"/>
<path d="M1068,1878.2 C1074.1,1878.2 1078.2,1890.5 1081.3,1907.8 C1085.3,1927.6 1098.6,1937.4 1110.8,1957.2 C1121,1976.9 1122.1,2038.6 1119,2075.6 C1115.9,2112.7 1098.6,2125 1068,2125 C1037.4,2125 1020.1,2112.7 1017,2075.6 C1013.9,2038.6 1015,1976.9 1025.2,1957.2 C1037.4,1937.4 1050.7,1927.6 1054.7,1907.8 C1057.8,1890.5 1061.9,1878.2 1068,1878.2 Z" fill="#e4e1d6"/>
<path d="M1068,1888.2 C1073.4,1888.2 1077,1899.3 1079.7,1914.9 C1083.3,1932.8 1095,1941.7 1105.8,1959.5 C1114.8,1977.3 1115.7,2033 1113,2066.4 C1110.3,2099.9 1095,2111 1068,2111 C1041,2111 1025.7,2099.9 1023,2066.4 C1020.3,2033 1021.2,1977.3 1030.2,1959.5 C1041,1941.7 1052.7,1932.8 1056.3,1914.9 C1059,1899.3 1062.6,1888.2 1068,1888.2 Z" fill="url(#gMouse)"/>
<ellipse cx="1068" cy="2001.6" rx="28.8" ry="29.6" fill="#9c8cb4" opacity="0.35" filter="url(#blur6)"/>
<path d="M1176,1883.3 C1180.7,1883.3 1183.8,1895.4 1186.1,1912.3 C1189.3,1931.6 1199.4,1941.3 1208.8,1960.6 C1216.6,1980 1217.3,2040.4 1215,2076.7 C1212.7,2112.9 1199.4,2125 1176,2125 C1152.6,2125 1139.3,2112.9 1137,2076.7 C1134.7,2040.4 1135.4,1980 1143.2,1960.6 C1152.6,1941.3 1162.7,1931.6 1165.9,1912.3 C1168.2,1895.4 1171.3,1883.3 1176,1883.3 Z" fill="#e4e1d6"/>
<path d="M1176,1893.3 C1180,1893.3 1182.6,1904.2 1184.6,1919.4 C1187.2,1936.8 1195.8,1945.5 1203.7,1963 C1210.3,1980.4 1211,2034.8 1209,2067.5 C1207,2100.1 1195.8,2111 1176,2111 C1156.2,2111 1145,2100.1 1143,2067.5 C1141,2034.8 1141.7,1980.4 1148.3,1963 C1156.2,1945.5 1164.8,1936.8 1167.4,1919.4 C1169.4,1904.2 1172,1893.3 1176,1893.3 Z" fill="url(#gMouse)"/>
<ellipse cx="1176" cy="2004.2" rx="21.6" ry="29" fill="#9c8cb4" opacity="0.35" filter="url(#blur6)"/>
<path d="M1262,1885.9 C1267.2,1885.9 1270.6,1897.9 1273.2,1914.6 C1276.6,1933.7 1287.8,1943.3 1298.1,1962.4 C1306.7,1981.5 1307.6,2041.3 1305,2077.2 C1302.4,2113 1287.8,2125 1262,2125 C1236.2,2125 1221.6,2113 1219,2077.2 C1216.4,2041.3 1217.3,1981.5 1225.9,1962.4 C1236.2,1943.3 1247.4,1933.7 1250.8,1914.6 C1253.4,1897.9 1256.8,1885.9 1262,1885.9 Z" fill="#e4e1d6"/>
<path d="M1262,1895.9 C1266.4,1895.9 1269.4,1906.7 1271.6,1921.7 C1274.6,1938.9 1284.2,1947.5 1293.1,1964.7 C1300.5,1981.9 1301.2,2035.7 1299,2068 C1296.8,2100.2 1284.2,2111 1262,2111 C1239.8,2111 1227.2,2100.2 1225,2068 C1222.8,2035.7 1223.5,1981.9 1230.9,1964.7 C1239.8,1947.5 1249.4,1938.9 1252.4,1921.7 C1254.6,1906.7 1257.6,1895.9 1262,1895.9 Z" fill="url(#gMouse)"/>
<ellipse cx="1262" cy="2005.5" rx="24" ry="28.7" fill="#9c8cb4" opacity="0.35" filter="url(#blur6)"/>
<path d="M1357.5,1883.3 C1362.9,1883.3 1366.5,1895.4 1369.2,1912.3 C1372.8,1931.6 1384.5,1941.3 1395.3,1960.6 C1404.3,1980 1405.2,2040.4 1402.5,2076.7 C1399.8,2112.9 1384.5,2125 1357.5,2125 C1330.5,2125 1315.2,2112.9 1312.5,2076.7 C1309.8,2040.4 1310.7,1980 1319.7,1960.6 C1330.5,1941.3 1342.2,1931.6 1345.8,1912.3 C1348.5,1895.4 1352.1,1883.3 1357.5,1883.3 Z" fill="#e4e1d6"/>
<path d="M1357.5,1893.3 C1362.2,1893.3 1365.3,1904.2 1367.6,1919.4 C1370.8,1936.8 1380.9,1945.5 1390.3,1963 C1398.1,1980.4 1398.8,2034.8 1396.5,2067.5 C1394.2,2100.1 1380.9,2111 1357.5,2111 C1334.1,2111 1320.8,2100.1 1318.5,2067.5 C1316.2,2034.8 1316.9,1980.4 1324.7,1963 C1334.1,1945.5 1344.2,1936.8 1347.4,1919.4 C1349.7,1904.2 1352.8,1893.3 1357.5,1893.3 Z" fill="url(#gMouse)"/>
<ellipse cx="1357.5" cy="2004.2" rx="25.2" ry="29" fill="#9c8cb4" opacity="0.35" filter="url(#blur6)"/>
<path d="M1449,1880.8 C1454.2,1880.8 1457.6,1893 1460.2,1910.1 C1463.6,1929.6 1474.8,1939.4 1485.1,1958.9 C1493.7,1978.5 1494.6,2039.5 1492,2076.2 C1489.4,2112.8 1474.8,2125 1449,2125 C1423.2,2125 1408.6,2112.8 1406,2076.2 C1403.4,2039.5 1404.3,1978.5 1412.9,1958.9 C1423.2,1939.4 1434.4,1929.6 1437.8,1910.1 C1440.4,1893 1443.8,1880.8 1449,1880.8 Z" fill="#e4e1d6"/>
<path d="M1449,1890.8 C1453.4,1890.8 1456.4,1901.8 1458.6,1917.2 C1461.6,1934.8 1471.2,1943.6 1480.1,1961.3 C1487.5,1978.9 1488.2,2033.9 1486,2067 C1483.8,2100 1471.2,2111 1449,2111 C1426.8,2111 1414.2,2100 1412,2067 C1409.8,2033.9 1410.5,1978.9 1417.9,1961.3 C1426.8,1943.6 1436.4,1934.8 1439.4,1917.2 C1441.6,1901.8 1444.6,1890.8 1449,1890.8 Z" fill="url(#gMouse)"/>
<ellipse cx="1449" cy="2002.9" rx="24" ry="29.3" fill="#9c8cb4" opacity="0.35" filter="url(#blur6)"/>
<path d="M1539,1883.3 C1544.2,1883.3 1547.6,1895.4 1550.2,1912.3 C1553.6,1931.6 1564.8,1941.3 1575.1,1960.6 C1583.7,1980 1584.6,2040.4 1582,2076.7 C1579.4,2112.9 1564.8,2125 1539,2125 C1513.2,2125 1498.6,2112.9 1496,2076.7 C1493.4,2040.4 1494.3,1980 1502.9,1960.6 C1513.2,1941.3 1524.4,1931.6 1527.8,1912.3 C1530.4,1895.4 1533.8,1883.3 1539,1883.3 Z" fill="#e4e1d6"/>
<path d="M1539,1893.3 C1543.4,1893.3 1546.4,1904.2 1548.6,1919.4 C1551.6,1936.8 1561.2,1945.5 1570.1,1963 C1577.5,1980.4 1578.2,2034.8 1576,2067.5 C1573.8,2100.1 1561.2,2111 1539,2111 C1516.8,2111 1504.2,2100.1 1502,2067.5 C1499.8,2034.8 1500.5,1980.4 1507.9,1963 C1516.8,1945.5 1526.4,1936.8 1529.4,1919.4 C1531.6,1904.2 1534.6,1893.3 1539,1893.3 Z" fill="url(#gMouse)"/>
<ellipse cx="1539" cy="2004.2" rx="24" ry="29" fill="#9c8cb4" opacity="0.35" filter="url(#blur6)"/>
<path d="M1630.5,1885.9 C1635.9,1885.9 1639.5,1897.9 1642.2,1914.6 C1645.8,1933.7 1657.5,1943.3 1668.3,1962.4 C1677.3,1981.5 1678.2,2041.3 1675.5,2077.2 C1672.8,2113 1657.5,2125 1630.5,2125 C1603.5,2125 1588.2,2113 1585.5,2077.2 C1582.8,2041.3 1583.7,1981.5 1592.7,1962.4 C1603.5,1943.3 1615.2,1933.7 1618.8,1914.6 C1621.5,1897.9 1625.1,1885.9 1630.5,1885.9 Z" fill="#e4e1d6"/>
<path d="M1630.5,1895.9 C1635.2,1895.9 1638.3,1906.7 1640.6,1921.7 C1643.8,1938.9 1653.9,1947.5 1663.3,1964.7 C1671.1,1981.9 1671.8,2035.7 1669.5,2068 C1667.2,2100.2 1653.9,2111 1630.5,2111 C1607.1,2111 1593.8,2100.2 1591.5,2068 C1589.2,2035.7 1589.9,1981.9 1597.7,1964.7 C1607.1,1947.5 1617.2,1938.9 1620.4,1921.7 C1622.7,1906.7 1625.8,1895.9 1630.5,1895.9 Z" fill="url(#gMouse)"/>
<ellipse cx="1630.5" cy="2005.5" rx="25.2" ry="28.7" fill="#9c8cb4" opacity="0.35" filter="url(#blur6)"/>
<ellipse cx="1085" cy="1810" rx="20" ry="15" fill="#7a6288" opacity="0.7" filter="url(#blur2)"/>
</g>
<line x1="845.5" y1="1690.5" x2="845.5" y2="1703.5" stroke="#f4f01e" stroke-width="2.6"/>
<line x1="839.9" y1="1693.7" x2="851.1" y2="1700.2" stroke="#f4f01e" stroke-width="2.6"/>
<line x1="851.1" y1="1693.7" x2="839.9" y2="1700.2" stroke="#f4f01e" stroke-width="2.6"/>
<line x1="844.5" y1="1709.9" x2="844.5" y2="1722.9" stroke="#f4f01e" stroke-width="2.6"/>
<line x1="838.8" y1="1713.1" x2="850.1" y2="1719.6" stroke="#f4f01e" stroke-width="2.6"/>
<line x1="850.1" y1="1713.1" x2="838.8" y2="1719.6" stroke="#f4f01e" stroke-width="2.6"/>
<line x1="824" y1="1723.7" x2="824" y2="1736.7" stroke="#f4f01e" stroke-width="2.6"/>
<line x1="818.4" y1="1726.9" x2="829.7" y2="1733.4" stroke="#f4f01e" stroke-width="2.6"/>
<line x1="829.7" y1="1726.9" x2="818.4" y2="1733.4" stroke="#f4f01e" stroke-width="2.6"/>
<line x1="889.9" y1="1684.4" x2="889.9" y2="1697.4" stroke="#f4f01e" stroke-width="2.6"/>
<line x1="884.3" y1="1687.6" x2="895.5" y2="1694.1" stroke="#f4f01e" stroke-width="2.6"/>
<line x1="895.5" y1="1687.6" x2="884.3" y2="1694.1" stroke="#f4f01e" stroke-width="2.6"/>
<line x1="893" y1="1732.3" x2="893" y2="1745.3" stroke="#f4f01e" stroke-width="2.6"/>
<line x1="887.3" y1="1735.6" x2="898.6" y2="1742.1" stroke="#f4f01e" stroke-width="2.6"/>
<line x1="898.6" y1="1735.6" x2="887.3" y2="1742.1" stroke="#f4f01e" stroke-width="2.6"/>
<line x1="825.1" y1="1787.5" x2="825.1" y2="1800.5" stroke="#f4f01e" stroke-width="2.6"/>
<line x1="819.4" y1="1790.7" x2="830.7" y2="1797.2" stroke="#f4f01e" stroke-width="2.6"/>
<line x1="830.7" y1="1790.7" x2="819.4" y2="1797.2" stroke="#f4f01e" stroke-width="2.6"/>
<line x1="893" y1="1797.7" x2="893" y2="1810.7" stroke="#f4f01e" stroke-width="2.6"/>
<line x1="887.3" y1="1800.9" x2="898.6" y2="1807.4" stroke="#f4f01e" stroke-width="2.6"/>
<line x1="898.6" y1="1800.9" x2="887.3" y2="1807.4" stroke="#f4f01e" stroke-width="2.6"/>
<line x1="924.6" y1="1718.6" x2="924.6" y2="1731.6" stroke="#f4f01e" stroke-width="2.6"/>
<line x1="919" y1="1721.8" x2="930.2" y2="1728.3" stroke="#f4f01e" stroke-width="2.6"/>
<line x1="930.2" y1="1721.8" x2="919" y2="1728.3" stroke="#f4f01e" stroke-width="2.6"/>
<line x1="928.2" y1="1740" x2="928.2" y2="1753" stroke="#f4f01e" stroke-width="2.6"/>
<line x1="922.5" y1="1743.3" x2="933.8" y2="1749.8" stroke="#f4f01e" stroke-width="2.6"/>
<line x1="933.8" y1="1743.3" x2="922.5" y2="1749.8" stroke="#f4f01e" stroke-width="2.6"/>
<line x1="969" y1="1686.9" x2="969" y2="1699.9" stroke="#f4f01e" stroke-width="2.6"/>
<line x1="963.4" y1="1690.2" x2="974.6" y2="1696.7" stroke="#f4f01e" stroke-width="2.6"/>
<line x1="974.6" y1="1690.2" x2="963.4" y2="1696.7" stroke="#f4f01e" stroke-width="2.6"/>
<line x1="991" y1="1716" x2="991" y2="1729" stroke="#f4f01e" stroke-width="2.6"/>
<line x1="985.3" y1="1719.3" x2="996.6" y2="1725.8" stroke="#f4f01e" stroke-width="2.6"/>
<line x1="996.6" y1="1719.3" x2="985.3" y2="1725.8" stroke="#f4f01e" stroke-width="2.6"/>
<line x1="928.7" y1="1797.7" x2="928.7" y2="1810.7" stroke="#f4f01e" stroke-width="2.6"/>
<line x1="923.1" y1="1800.9" x2="934.3" y2="1807.4" stroke="#f4f01e" stroke-width="2.6"/>
<line x1="934.3" y1="1800.9" x2="923.1" y2="1807.4" stroke="#f4f01e" stroke-width="2.6"/>
<line x1="938.9" y1="1820.7" x2="938.9" y2="1833.7" stroke="#f4f01e" stroke-width="2.6"/>
<line x1="933.3" y1="1823.9" x2="944.5" y2="1830.4" stroke="#f4f01e" stroke-width="2.6"/>
<line x1="944.5" y1="1823.9" x2="933.3" y2="1830.4" stroke="#f4f01e" stroke-width="2.6"/>
<line x1="971.6" y1="1816.6" x2="971.6" y2="1829.6" stroke="#f4f01e" stroke-width="2.6"/>
<line x1="965.9" y1="1819.8" x2="977.2" y2="1826.3" stroke="#f4f01e" stroke-width="2.6"/>
<line x1="977.2" y1="1819.8" x2="965.9" y2="1826.3" stroke="#f4f01e" stroke-width="2.6"/>
<line x1="1006.3" y1="1800.2" x2="1006.3" y2="1813.2" stroke="#f4f01e" stroke-width="2.6"/>
<line x1="1000.6" y1="1803.5" x2="1011.9" y2="1810" stroke="#f4f01e" stroke-width="2.6"/>
<line x1="1011.9" y1="1803.5" x2="1000.6" y2="1810" stroke="#f4f01e" stroke-width="2.6"/>
<line x1="1058.9" y1="1648.1" x2="1058.9" y2="1661.1" stroke="#f4f01e" stroke-width="2.6"/>
<line x1="1053.2" y1="1651.4" x2="1064.5" y2="1657.9" stroke="#f4f01e" stroke-width="2.6"/>
<line x1="1064.5" y1="1651.4" x2="1053.2" y2="1657.9" stroke="#f4f01e" stroke-width="2.6"/>
<line x1="1035.9" y1="1697.1" x2="1035.9" y2="1710.1" stroke="#f4f01e" stroke-width="2.6"/>
<line x1="1030.3" y1="1700.4" x2="1041.5" y2="1706.9" stroke="#f4f01e" stroke-width="2.6"/>
<line x1="1041.5" y1="1700.4" x2="1030.3" y2="1706.9" stroke="#f4f01e" stroke-width="2.6"/>
<line x1="1030.8" y1="1726.2" x2="1030.8" y2="1739.2" stroke="#f4f01e" stroke-width="2.6"/>
<line x1="1025.2" y1="1729.5" x2="1036.4" y2="1736" stroke="#f4f01e" stroke-width="2.6"/>
<line x1="1036.4" y1="1729.5" x2="1025.2" y2="1736" stroke="#f4f01e" stroke-width="2.6"/>
<line x1="1089" y1="1718.6" x2="1089" y2="1731.6" stroke="#f4f01e" stroke-width="2.6"/>
<line x1="1083.3" y1="1721.8" x2="1094.6" y2="1728.3" stroke="#f4f01e" stroke-width="2.6"/>
<line x1="1094.6" y1="1721.8" x2="1083.3" y2="1728.3" stroke="#f4f01e" stroke-width="2.6"/>
<line x1="1042" y1="1793.6" x2="1042" y2="1806.6" stroke="#f4f01e" stroke-width="2.6"/>
<line x1="1036.4" y1="1796.9" x2="1047.6" y2="1803.4" stroke="#f4f01e" stroke-width="2.6"/>
<line x1="1047.6" y1="1796.9" x2="1036.4" y2="1803.4" stroke="#f4f01e" stroke-width="2.6"/>
<line x1="1090.5" y1="1816.6" x2="1090.5" y2="1829.6" stroke="#f4f01e" stroke-width="2.6"/>
<line x1="1084.9" y1="1819.8" x2="1096.1" y2="1826.3" stroke="#f4f01e" stroke-width="2.6"/>
<line x1="1096.1" y1="1819.8" x2="1084.9" y2="1826.3" stroke="#f4f01e" stroke-width="2.6"/>
<line x1="1149.2" y1="1667.5" x2="1149.2" y2="1680.5" stroke="#f4f01e" stroke-width="2.6"/>
<line x1="1143.6" y1="1670.8" x2="1154.8" y2="1677.3" stroke="#f4f01e" stroke-width="2.6"/>
<line x1="1154.8" y1="1670.8" x2="1143.6" y2="1677.3" stroke="#f4f01e" stroke-width="2.6"/>
<line x1="1144.1" y1="1716" x2="1144.1" y2="1729" stroke="#f4f01e" stroke-width="2.6"/>
<line x1="1138.5" y1="1719.3" x2="1149.7" y2="1725.8" stroke="#f4f01e" stroke-width="2.6"/>
<line x1="1149.7" y1="1719.3" x2="1138.5" y2="1725.8" stroke="#f4f01e" stroke-width="2.6"/>
<line x1="1140" y1="1735.4" x2="1140" y2="1748.4" stroke="#f4f01e" stroke-width="2.6"/>
<line x1="1134.4" y1="1738.7" x2="1145.6" y2="1745.2" stroke="#f4f01e" stroke-width="2.6"/>
<line x1="1145.6" y1="1738.7" x2="1134.4" y2="1745.2" stroke="#f4f01e" stroke-width="2.6"/>
<line x1="1201.8" y1="1723.7" x2="1201.8" y2="1736.7" stroke="#f4f01e" stroke-width="2.6"/>
<line x1="1196.2" y1="1726.9" x2="1207.4" y2="1733.4" stroke="#f4f01e" stroke-width="2.6"/>
<line x1="1207.4" y1="1726.9" x2="1196.2" y2="1733.4" stroke="#f4f01e" stroke-width="2.6"/>
<line x1="1144.1" y1="1783.9" x2="1144.1" y2="1796.9" stroke="#f4f01e" stroke-width="2.6"/>
<line x1="1138.5" y1="1787.2" x2="1149.7" y2="1793.7" stroke="#f4f01e" stroke-width="2.6"/>
<line x1="1149.7" y1="1787.2" x2="1138.5" y2="1793.7" stroke="#f4f01e" stroke-width="2.6"/>
<line x1="1198.7" y1="1783.9" x2="1198.7" y2="1796.9" stroke="#f4f01e" stroke-width="2.6"/>
<line x1="1193.1" y1="1787.2" x2="1204.4" y2="1793.7" stroke="#f4f01e" stroke-width="2.6"/>
<line x1="1204.4" y1="1787.2" x2="1193.1" y2="1793.7" stroke="#f4f01e" stroke-width="2.6"/>
<line x1="1184.9" y1="1810.4" x2="1184.9" y2="1823.4" stroke="#f4f01e" stroke-width="2.6"/>
<line x1="1179.3" y1="1813.7" x2="1190.6" y2="1820.2" stroke="#f4f01e" stroke-width="2.6"/>
<line x1="1190.6" y1="1813.7" x2="1179.3" y2="1820.2" stroke="#f4f01e" stroke-width="2.6"/>
<line x1="1276.8" y1="1697.1" x2="1276.8" y2="1710.1" stroke="#f4f01e" stroke-width="2.6"/>
<line x1="1271.2" y1="1700.4" x2="1282.5" y2="1706.9" stroke="#f4f01e" stroke-width="2.6"/>
<line x1="1282.5" y1="1700.4" x2="1271.2" y2="1706.9" stroke="#f4f01e" stroke-width="2.6"/>
<line x1="1237" y1="1716" x2="1237" y2="1729" stroke="#f4f01e" stroke-width="2.6"/>
<line x1="1231.4" y1="1719.3" x2="1242.6" y2="1725.8" stroke="#f4f01e" stroke-width="2.6"/>
<line x1="1242.6" y1="1719.3" x2="1231.4" y2="1725.8" stroke="#f4f01e" stroke-width="2.6"/>
<line x1="1292.1" y1="1732.3" x2="1292.1" y2="1745.3" stroke="#f4f01e" stroke-width="2.6"/>
<line x1="1286.5" y1="1735.6" x2="1297.8" y2="1742.1" stroke="#f4f01e" stroke-width="2.6"/>
<line x1="1297.8" y1="1735.6" x2="1286.5" y2="1742.1" stroke="#f4f01e" stroke-width="2.6"/>
<line x1="1228.3" y1="1787.5" x2="1228.3" y2="1800.5" stroke="#f4f01e" stroke-width="2.6"/>
<line x1="1222.7" y1="1790.7" x2="1234" y2="1797.2" stroke="#f4f01e" stroke-width="2.6"/>
<line x1="1234" y1="1790.7" x2="1222.7" y2="1797.2" stroke="#f4f01e" stroke-width="2.6"/>
<line x1="1289.6" y1="1783.9" x2="1289.6" y2="1796.9" stroke="#f4f01e" stroke-width="2.6"/>
<line x1="1284" y1="1787.2" x2="1295.2" y2="1793.7" stroke="#f4f01e" stroke-width="2.6"/>
<line x1="1295.2" y1="1787.2" x2="1284" y2="1793.7" stroke="#f4f01e" stroke-width="2.6"/>
<line x1="1269.2" y1="1810.4" x2="1269.2" y2="1823.4" stroke="#f4f01e" stroke-width="2.6"/>
<line x1="1263.5" y1="1813.7" x2="1274.8" y2="1820.2" stroke="#f4f01e" stroke-width="2.6"/>
<line x1="1274.8" y1="1813.7" x2="1263.5" y2="1820.2" stroke="#f4f01e" stroke-width="2.6"/>
<line x1="1363.6" y1="1675.2" x2="1363.6" y2="1688.2" stroke="#f4f01e" stroke-width="2.6"/>
<line x1="1358" y1="1678.4" x2="1369.2" y2="1684.9" stroke="#f4f01e" stroke-width="2.6"/>
<line x1="1369.2" y1="1678.4" x2="1358" y2="1684.9" stroke="#f4f01e" stroke-width="2.6"/>
<line x1="1321.7" y1="1712.4" x2="1321.7" y2="1725.4" stroke="#f4f01e" stroke-width="2.6"/>
<line x1="1316.1" y1="1715.7" x2="1327.4" y2="1722.2" stroke="#f4f01e" stroke-width="2.6"/>
<line x1="1327.4" y1="1715.7" x2="1316.1" y2="1722.2" stroke="#f4f01e" stroke-width="2.6"/>
<line x1="1379.9" y1="1706.8" x2="1379.9" y2="1719.8" stroke="#f4f01e" stroke-width="2.6"/>
<line x1="1374.3" y1="1710.1" x2="1385.6" y2="1716.6" stroke="#f4f01e" stroke-width="2.6"/>
<line x1="1385.6" y1="1710.1" x2="1374.3" y2="1716.6" stroke="#f4f01e" stroke-width="2.6"/>
<line x1="1379.9" y1="1778.3" x2="1379.9" y2="1791.3" stroke="#f4f01e" stroke-width="2.6"/>
<line x1="1374.3" y1="1781.5" x2="1385.6" y2="1788" stroke="#f4f01e" stroke-width="2.6"/>
<line x1="1385.6" y1="1781.5" x2="1374.3" y2="1788" stroke="#f4f01e" stroke-width="2.6"/>
<line x1="1332" y1="1800.2" x2="1332" y2="1813.2" stroke="#f4f01e" stroke-width="2.6"/>
<line x1="1326.3" y1="1803.5" x2="1337.6" y2="1810" stroke="#f4f01e" stroke-width="2.6"/>
<line x1="1337.6" y1="1803.5" x2="1326.3" y2="1810" stroke="#f4f01e" stroke-width="2.6"/>
<line x1="1464.2" y1="1677.7" x2="1464.2" y2="1690.7" stroke="#f4f01e" stroke-width="2.6"/>
<line x1="1458.5" y1="1681" x2="1469.8" y2="1687.5" stroke="#f4f01e" stroke-width="2.6"/>
<line x1="1469.8" y1="1681" x2="1458.5" y2="1687.5" stroke="#f4f01e" stroke-width="2.6"/>
<line x1="1419.8" y1="1706.8" x2="1419.8" y2="1719.8" stroke="#f4f01e" stroke-width="2.6"/>
<line x1="1414.1" y1="1710.1" x2="1425.4" y2="1716.6" stroke="#f4f01e" stroke-width="2.6"/>
<line x1="1425.4" y1="1710.1" x2="1414.1" y2="1716.6" stroke="#f4f01e" stroke-width="2.6"/>
<line x1="1468.2" y1="1781.4" x2="1468.2" y2="1794.4" stroke="#f4f01e" stroke-width="2.6"/>
<line x1="1462.6" y1="1784.6" x2="1473.9" y2="1791.1" stroke="#f4f01e" stroke-width="2.6"/>
<line x1="1473.9" y1="1784.6" x2="1462.6" y2="1791.1" stroke="#f4f01e" stroke-width="2.6"/>
<line x1="1542.3" y1="1654.8" x2="1542.3" y2="1667.8" stroke="#f4f01e" stroke-width="2.6"/>
<line x1="1536.6" y1="1658" x2="1547.9" y2="1664.5" stroke="#f4f01e" stroke-width="2.6"/>
<line x1="1547.9" y1="1658" x2="1536.6" y2="1664.5" stroke="#f4f01e" stroke-width="2.6"/>
<line x1="1504" y1="1713.5" x2="1504" y2="1726.5" stroke="#f4f01e" stroke-width="2.6"/>
<line x1="1498.4" y1="1716.7" x2="1509.6" y2="1723.2" stroke="#f4f01e" stroke-width="2.6"/>
<line x1="1509.6" y1="1716.7" x2="1498.4" y2="1723.2" stroke="#f4f01e" stroke-width="2.6"/>
<line x1="1555" y1="1727.2" x2="1555" y2="1740.2" stroke="#f4f01e" stroke-width="2.6"/>
<line x1="1549.4" y1="1730.5" x2="1560.7" y2="1737" stroke="#f4f01e" stroke-width="2.6"/>
<line x1="1560.7" y1="1730.5" x2="1549.4" y2="1737" stroke="#f4f01e" stroke-width="2.6"/>
<line x1="1609.6" y1="1670.1" x2="1609.6" y2="1683.1" stroke="#f4f01e" stroke-width="2.6"/>
<line x1="1604" y1="1673.3" x2="1615.3" y2="1679.8" stroke="#f4f01e" stroke-width="2.6"/>
<line x1="1615.3" y1="1673.3" x2="1604" y2="1679.8" stroke="#f4f01e" stroke-width="2.6"/>
<line x1="1590.8" y1="1718.6" x2="1590.8" y2="1731.6" stroke="#f4f01e" stroke-width="2.6"/>
<line x1="1585.1" y1="1721.8" x2="1596.4" y2="1728.3" stroke="#f4f01e" stroke-width="2.6"/>
<line x1="1596.4" y1="1721.8" x2="1585.1" y2="1728.3" stroke="#f4f01e" stroke-width="2.6"/>
<line x1="1646.9" y1="1732.3" x2="1646.9" y2="1745.3" stroke="#f4f01e" stroke-width="2.6"/>
<line x1="1641.3" y1="1735.6" x2="1652.5" y2="1742.1" stroke="#f4f01e" stroke-width="2.6"/>
<line x1="1652.5" y1="1735.6" x2="1641.3" y2="1742.1" stroke="#f4f01e" stroke-width="2.6"/>
<line x1="874.6" y1="1929.4" x2="874.6" y2="1942.4" stroke="#f4f01e" stroke-width="2.6"/>
<line x1="868.9" y1="1932.6" x2="880.2" y2="1939.1" stroke="#f4f01e" stroke-width="2.6"/>
<line x1="880.2" y1="1932.6" x2="868.9" y2="1939.1" stroke="#f4f01e" stroke-width="2.6"/>
<line x1="945" y1="1940.6" x2="945" y2="1953.6" stroke="#f4f01e" stroke-width="2.6"/>
<line x1="939.4" y1="1943.9" x2="950.7" y2="1950.4" stroke="#f4f01e" stroke-width="2.6"/>
<line x1="950.7" y1="1943.9" x2="939.4" y2="1950.4" stroke="#f4f01e" stroke-width="2.6"/>
<line x1="993.5" y1="1967.2" x2="993.5" y2="1980.2" stroke="#f4f01e" stroke-width="2.6"/>
<line x1="987.9" y1="1970.4" x2="999.1" y2="1976.9" stroke="#f4f01e" stroke-width="2.6"/>
<line x1="999.1" y1="1970.4" x2="987.9" y2="1976.9" stroke="#f4f01e" stroke-width="2.6"/>
<line x1="829.1" y1="2031.5" x2="829.1" y2="2044.5" stroke="#f4f01e" stroke-width="2.6"/>
<line x1="823.5" y1="2034.7" x2="834.8" y2="2041.2" stroke="#f4f01e" stroke-width="2.6"/>
<line x1="834.8" y1="2034.7" x2="823.5" y2="2041.2" stroke="#f4f01e" stroke-width="2.6"/>
<line x1="945" y1="2069.8" x2="945" y2="2082.8" stroke="#f4f01e" stroke-width="2.6"/>
<line x1="939.4" y1="2073" x2="950.7" y2="2079.5" stroke="#f4f01e" stroke-width="2.6"/>
<line x1="950.7" y1="2073" x2="939.4" y2="2079.5" stroke="#f4f01e" stroke-width="2.6"/>
<line x1="1055.8" y1="1892.1" x2="1055.8" y2="1905.1" stroke="#f4f01e" stroke-width="2.6"/>
<line x1="1050.2" y1="1895.4" x2="1061.4" y2="1901.9" stroke="#f4f01e" stroke-width="2.6"/>
<line x1="1061.4" y1="1895.4" x2="1050.2" y2="1901.9" stroke="#f4f01e" stroke-width="2.6"/>
<line x1="1204.3" y1="1972.3" x2="1204.3" y2="1985.3" stroke="#f4f01e" stroke-width="2.6"/>
<line x1="1198.7" y1="1975.5" x2="1210" y2="1982" stroke="#f4f01e" stroke-width="2.6"/>
<line x1="1210" y1="1975.5" x2="1198.7" y2="1982" stroke="#f4f01e" stroke-width="2.6"/>
<line x1="1249.8" y1="1943.2" x2="1249.8" y2="1956.2" stroke="#f4f01e" stroke-width="2.6"/>
<line x1="1244.1" y1="1946.4" x2="1255.4" y2="1952.9" stroke="#f4f01e" stroke-width="2.6"/>
<line x1="1255.4" y1="1946.4" x2="1244.1" y2="1952.9" stroke="#f4f01e" stroke-width="2.6"/>
<line x1="1338.1" y1="1962.6" x2="1338.1" y2="1975.6" stroke="#f4f01e" stroke-width="2.6"/>
<line x1="1332.5" y1="1965.8" x2="1343.7" y2="1972.3" stroke="#f4f01e" stroke-width="2.6"/>
<line x1="1343.7" y1="1965.8" x2="1332.5" y2="1972.3" stroke="#f4f01e" stroke-width="2.6"/>
<line x1="1403.4" y1="2052.9" x2="1403.4" y2="2065.9" stroke="#f4f01e" stroke-width="2.6"/>
<line x1="1397.8" y1="2056.2" x2="1409" y2="2062.7" stroke="#f4f01e" stroke-width="2.6"/>
<line x1="1409" y1="2056.2" x2="1397.8" y2="2062.7" stroke="#f4f01e" stroke-width="2.6"/>
<line x1="1479.5" y1="1975.3" x2="1479.5" y2="1988.3" stroke="#f4f01e" stroke-width="2.6"/>
<line x1="1473.9" y1="1978.6" x2="1485.1" y2="1985.1" stroke="#f4f01e" stroke-width="2.6"/>
<line x1="1485.1" y1="1978.6" x2="1473.9" y2="1985.1" stroke="#f4f01e" stroke-width="2.6"/>
<line x1="1565.2" y1="1975.3" x2="1565.2" y2="1988.3" stroke="#f4f01e" stroke-width="2.6"/>
<line x1="1559.6" y1="1978.6" x2="1570.9" y2="1985.1" stroke="#f4f01e" stroke-width="2.6"/>
<line x1="1570.9" y1="1978.6" x2="1559.6" y2="1985.1" stroke="#f4f01e" stroke-width="2.6"/>
<text transform="translate(758.5,1745.5) rotate(-90)" font-size="29.5" text-anchor="middle">PBS</text>
<text transform="translate(758.5,1988) rotate(-90)" font-size="29.5" text-anchor="middle">SPEN<tspan dy="10" font-size="19">EE</tspan></text>
<text x="1768" y="1645.6" font-size="38" font-weight="bold">s</text>
<path d="M1944.9,1722.2 L1945,1722.9 L1945.1,1723.8 L1945.2,1724.8 L1945.4,1725.9 L1945.5,1727.2 L1945.7,1728.6 L1946,1730.1 L1946.3,1731.7 L1946.7,1733.5 L1947.1,1735.3 L1947.6,1737.2 L1948.2,1739.4 L1948.8,1741.6 L1949.5,1744 L1950.2,1746.5 L1951,1749.1 L1951.9,1751.7 L1952.7,1754.3 L1953.6,1757 L1954.6,1759.6 L1955.6,1762.3 L1956.7,1765 L1957.8,1767.8 L1959,1770.6 L1960.3,1773.5 L1961.5,1776.3 L1962.8,1779.2 L1964.1,1782.1 L1965.3,1784.9 L1966.6,1787.8 L1967.9,1790.6 L1969.2,1793.5 L1970.6,1796.5 L1972,1799.4 L1973.4,1802.4 L1974.7,1805.3 L1976.1,1808.1 L1977.3,1810.8 L1978.5,1813.4 L1979.6,1815.9 L1980.6,1818.1 L1981.5,1820.1 L1982.3,1821.9 L1983.1,1823.6 L1983.9,1825.2 L1984.6,1826.9 L1985.2,1828.6 L1985.9,1830.4 L1986.5,1832.4 L1987.1,1834.6 L1987.7,1837.1 L1988.3,1839.8 L1988.9,1842.6 L1989.5,1845.6 L1990.1,1848.7 L1990.6,1851.7 L1991,1854.7 L1991.4,1857.5 L1991.7,1860.2 L1991.9,1862.7 L1992,1864.9 L1992.1,1867 L1992.1,1868.8 L1992,1870.6 L1991.9,1872.3 L1991.7,1874 L1991.4,1875.7 L1991.1,1877.5 L1990.6,1879.4 L1990.1,1881.5 L1989.5,1883.7 L1988.7,1886 L1987.9,1888.4 L1987,1890.9 L1986,1893.4 L1984.9,1895.9 L1983.9,1898.5 L1982.8,1901 L1981.7,1903.4 L1980.6,1905.8 L1979.5,1908.1 L1978.4,1910.3 L1977.2,1912.5 L1976.1,1914.7 L1974.9,1916.8 L1973.7,1919 L1972.4,1921.2 L1971.2,1923.5 L1969.9,1925.8 L1968.6,1928.3 L1967.2,1930.9 L1965.8,1933.7 L1964.3,1936.6 L1962.8,1939.6 L1961.2,1942.6 L1959.7,1945.6 L1958.3,1948.5 L1956.9,1951.3 L1955.7,1954 L1954.6,1956.4 L1953.6,1958.6 L1952.8,1960.6 L1952.1,1962.4 L1951.4,1964.1 L1950.8,1965.8 L1950.3,1967.4 L1949.8,1969.1 L1949.3,1971 L1948.8,1972.9 L1948.3,1975.2 L1947.8,1977.6 L1947.3,1980.3 L1946.8,1983.2 L1946.3,1986.2 L1945.9,1989.2 L1945.5,1992.2 L1945.1,1995.2 L1944.7,1998.1 L1944.4,2000.8 L1944.1,2003.3 L1943.8,2005.5 L1943.6,2007.6 L1943.4,2009.6 L1943.3,2011.4 L1943.2,2013.2 L1943.1,2015 L1943,2016.7 L1942.9,2018.4 L1942.7,2020.2 L1942.6,2022 L1942.5,2023.9 L1942.3,2025.7 L1942.2,2027.6 L1942,2029.5 L1941.9,2031.4 L1941.7,2033.2 L1941.6,2035.1 L1941.5,2037 L1941.3,2038.9 L1941.2,2040.7 L1941.1,2042.7 L1940.9,2044.8 L1940.8,2047 L1940.6,2049.1 L1940.5,2051.3 L1940.3,2053.3 L1940.2,2055.2 L1940.1,2056.9 L1940,2058.4 L1939.9,2059.5 L1939.3,2059.5 L1939.2,2058.4 L1939.1,2056.9 L1939,2055.2 L1938.9,2053.3 L1938.7,2051.3 L1938.6,2049.1 L1938.4,2047 L1938.3,2044.8 L1938.1,2042.7 L1938,2040.7 L1937.9,2038.9 L1937.7,2037 L1937.6,2035.1 L1937.5,2033.2 L1937.3,2031.4 L1937.2,2029.5 L1937,2027.6 L1936.9,2025.7 L1936.7,2023.9 L1936.6,2022 L1936.5,2020.2 L1936.3,2018.4 L1936.2,2016.7 L1936.1,2015 L1936,2013.2 L1935.9,2011.4 L1935.8,2009.6 L1935.6,2007.6 L1935.4,2005.5 L1935.1,2003.3 L1934.8,2000.8 L1934.5,1998.1 L1934.1,1995.2 L1933.7,1992.2 L1933.3,1989.2 L1932.9,1986.2 L1932.4,1983.2 L1931.9,1980.3 L1931.4,1977.6 L1930.9,1975.2 L1930.4,1972.9 L1929.9,1971 L1929.4,1969.1 L1928.9,1967.4 L1928.4,1965.8 L1927.8,1964.1 L1927.1,1962.4 L1926.4,1960.6 L1925.6,1958.6 L1924.6,1956.4 L1923.5,1954 L1922.3,1951.3 L1920.9,1948.5 L1919.5,1945.6 L1918,1942.6 L1916.4,1939.6 L1914.9,1936.6 L1913.4,1933.7 L1912,1930.9 L1910.6,1928.3 L1909.3,1925.8 L1908,1923.5 L1906.8,1921.2 L1905.5,1919 L1904.3,1916.8 L1903.1,1914.7 L1902,1912.5 L1900.8,1910.3 L1899.7,1908.1 L1898.6,1905.8 L1897.5,1903.4 L1896.4,1901 L1895.3,1898.5 L1894.3,1895.9 L1893.2,1893.4 L1892.2,1890.9 L1891.3,1888.4 L1890.5,1886 L1889.7,1883.7 L1889.1,1881.5 L1888.6,1879.4 L1888.1,1877.5 L1887.8,1875.7 L1887.5,1874 L1887.3,1872.3 L1887.2,1870.6 L1887.1,1868.8 L1887.1,1867 L1887.2,1864.9 L1887.3,1862.7 L1887.5,1860.2 L1887.8,1857.5 L1888.2,1854.7 L1888.6,1851.7 L1889.1,1848.7 L1889.7,1845.6 L1890.3,1842.6 L1890.9,1839.8 L1891.5,1837.1 L1892.1,1834.6 L1892.7,1832.4 L1893.3,1830.4 L1894,1828.6 L1894.6,1826.9 L1895.3,1825.2 L1896.1,1823.6 L1896.9,1821.9 L1897.7,1820.1 L1898.6,1818.1 L1899.6,1815.9 L1900.7,1813.4 L1901.9,1810.8 L1903.1,1808.1 L1904.5,1805.3 L1905.8,1802.4 L1907.2,1799.4 L1908.6,1796.5 L1910,1793.5 L1911.3,1790.6 L1912.6,1787.8 L1913.9,1784.9 L1915.1,1782.1 L1916.4,1779.2 L1917.7,1776.3 L1918.9,1773.5 L1920.2,1770.6 L1921.4,1767.8 L1922.5,1765 L1923.6,1762.3 L1924.6,1759.6 L1925.6,1757 L1926.5,1754.3 L1927.3,1751.7 L1928.2,1749.1 L1929,1746.5 L1929.7,1744 L1930.4,1741.6 L1931,1739.4 L1931.6,1737.2 L1932.1,1735.3 L1932.5,1733.5 L1932.9,1731.7 L1933.2,1730.1 L1933.5,1728.6 L1933.7,1727.2 L1933.8,1725.9 L1934,1724.8 L1934.1,1723.8 L1934.2,1722.9 L1934.3,1722.2 Z" fill="#c0c0c0" stroke="#6e6e6e" stroke-width="1.6" stroke-linejoin="round"/>
<path d="M2070.9,1855.2 L2071,1856 L2071,1857 L2071.1,1858.2 L2071.2,1859.6 L2071.3,1861.1 L2071.4,1862.6 L2071.5,1864.1 L2071.6,1865.6 L2071.7,1867 L2071.9,1868.3 L2072,1869.5 L2072.2,1870.7 L2072.3,1871.8 L2072.5,1873 L2072.6,1874.1 L2072.8,1875.2 L2073,1876.3 L2073.3,1877.4 L2073.7,1878.5 L2074.1,1879.6 L2074.6,1880.7 L2075.2,1881.8 L2075.8,1882.9 L2076.5,1884 L2077.2,1885.1 L2078,1886.2 L2078.8,1887.3 L2079.6,1888.5 L2080.3,1889.6 L2081.1,1890.8 L2081.8,1892 L2082.5,1893.1 L2083.1,1894.3 L2083.7,1895.4 L2084.4,1896.6 L2085.1,1897.8 L2085.9,1899.1 L2086.8,1900.6 L2087.9,1902.2 L2089.1,1903.9 L2090.5,1905.9 L2092.2,1908.2 L2094,1910.6 L2095.9,1913.1 L2097.9,1915.8 L2099.9,1918.4 L2101.9,1921.1 L2103.8,1923.6 L2105.5,1926 L2107.1,1928.3 L2108.5,1930.4 L2109.9,1932.4 L2111.1,1934.3 L2112.3,1936.2 L2113.4,1938 L2114.5,1939.8 L2115.5,1941.6 L2116.4,1943.4 L2117.3,1945.2 L2118.1,1947 L2118.9,1948.9 L2119.6,1950.8 L2120.3,1952.7 L2120.9,1954.5 L2121.4,1956.4 L2121.9,1958.3 L2122.3,1960.2 L2122.5,1962 L2122.7,1963.9 L2122.7,1965.8 L2122.6,1967.7 L2122.4,1969.5 L2122,1971.4 L2121.5,1973.3 L2121,1975.2 L2120.4,1977 L2119.6,1978.9 L2118.9,1980.8 L2118,1982.6 L2117.1,1984.5 L2116.1,1986.4 L2115,1988.3 L2113.8,1990.1 L2112.5,1992 L2111.1,1993.9 L2109.7,1995.8 L2108.3,1997.6 L2106.9,1999.5 L2105.5,2001.4 L2104.1,2003.3 L2102.7,2005.1 L2101.3,2007 L2099.9,2008.9 L2098.5,2010.8 L2097,2012.6 L2095.6,2014.5 L2094.2,2016.4 L2092.8,2018.3 L2091.4,2020.1 L2090.1,2022 L2088.8,2023.9 L2087.5,2025.7 L2086.2,2027.6 L2084.9,2029.5 L2083.7,2031.4 L2082.5,2033.2 L2081.3,2035.1 L2080.2,2037 L2079.1,2038.9 L2078.1,2040.7 L2077.1,2042.7 L2076.2,2044.8 L2075.2,2047 L2074.3,2049.1 L2073.5,2051.3 L2072.7,2053.3 L2072,2055.2 L2071.4,2056.9 L2070.8,2058.4 L2070.4,2059.5 L2069.8,2059.5 L2069.4,2058.4 L2068.8,2056.9 L2068.2,2055.2 L2067.5,2053.3 L2066.7,2051.3 L2065.9,2049.1 L2065,2047 L2064,2044.8 L2063.1,2042.7 L2062.1,2040.7 L2061.1,2038.9 L2060,2037 L2058.9,2035.1 L2057.7,2033.2 L2056.5,2031.4 L2055.3,2029.5 L2054,2027.6 L2052.7,2025.7 L2051.4,2023.9 L2050.1,2022 L2048.8,2020.1 L2047.4,2018.3 L2046,2016.4 L2044.6,2014.5 L2043.2,2012.6 L2041.7,2010.8 L2040.3,2008.9 L2038.9,2007 L2037.5,2005.1 L2036.1,2003.3 L2034.7,2001.4 L2033.3,1999.5 L2031.9,1997.6 L2030.5,1995.8 L2029.1,1993.9 L2027.7,1992 L2026.4,1990.1 L2025.2,1988.3 L2024.1,1986.4 L2023.1,1984.5 L2022.2,1982.6 L2021.3,1980.8 L2020.6,1978.9 L2019.8,1977 L2019.2,1975.2 L2018.7,1973.3 L2018.2,1971.4 L2017.8,1969.5 L2017.6,1967.7 L2017.5,1965.8 L2017.5,1963.9 L2017.7,1962 L2017.9,1960.2 L2018.3,1958.3 L2018.8,1956.4 L2019.3,1954.5 L2019.9,1952.7 L2020.6,1950.8 L2021.3,1948.9 L2022.1,1947 L2022.9,1945.2 L2023.8,1943.4 L2024.7,1941.6 L2025.7,1939.8 L2026.8,1938 L2027.9,1936.2 L2029.1,1934.3 L2030.3,1932.4 L2031.7,1930.4 L2033.1,1928.3 L2034.7,1926 L2036.4,1923.6 L2038.3,1921.1 L2040.3,1918.4 L2042.3,1915.8 L2044.3,1913.1 L2046.2,1910.6 L2048,1908.2 L2049.7,1905.9 L2051.1,1903.9 L2052.3,1902.2 L2053.4,1900.6 L2054.3,1899.1 L2055.1,1897.8 L2055.8,1896.6 L2056.5,1895.4 L2057.1,1894.3 L2057.7,1893.1 L2058.4,1892 L2059.1,1890.8 L2059.9,1889.6 L2060.6,1888.5 L2061.4,1887.3 L2062.2,1886.2 L2063,1885.1 L2063.7,1884 L2064.4,1882.9 L2065,1881.8 L2065.6,1880.7 L2066.1,1879.6 L2066.5,1878.5 L2066.9,1877.4 L2067.2,1876.3 L2067.4,1875.2 L2067.6,1874.1 L2067.7,1873 L2067.9,1871.8 L2068,1870.7 L2068.2,1869.5 L2068.3,1868.3 L2068.5,1867 L2068.6,1865.6 L2068.7,1864.1 L2068.8,1862.6 L2068.9,1861.1 L2069,1859.6 L2069.1,1858.2 L2069.2,1857 L2069.2,1856 L2069.3,1855.2 Z" fill="#f0959c" stroke="#e4261e" stroke-width="2" stroke-linejoin="round"/>
<line x1="1874.4" y1="1646.2" x2="1874.4" y2="2060.3" stroke="#000" stroke-width="2"/>
<line x1="1865.4" y1="2022" x2="1874.4" y2="2022" stroke="#000" stroke-width="2"/>
<text x="1860.9" y="2032.6" font-size="29.5" text-anchor="end">0</text>
<line x1="1865.4" y1="1928.3" x2="1874.4" y2="1928.3" stroke="#000" stroke-width="2"/>
<text x="1860.9" y="1938.9" font-size="29.5" text-anchor="end">5</text>
<line x1="1865.4" y1="1834.6" x2="1874.4" y2="1834.6" stroke="#000" stroke-width="2"/>
<text x="1860.9" y="1845.2" font-size="29.5" text-anchor="end">10</text>
<line x1="1865.4" y1="1740.9" x2="1874.4" y2="1740.9" stroke="#000" stroke-width="2"/>
<text x="1860.9" y="1751.5" font-size="29.5" text-anchor="end">15</text>
<line x1="1865.4" y1="1647.2" x2="1874.4" y2="1647.2" stroke="#000" stroke-width="2"/>
<text x="1860.9" y="1657.8" font-size="29.5" text-anchor="end">20</text>
<line x1="1869.4" y1="1975.2" x2="1874.4" y2="1975.2" stroke="#000" stroke-width="2"/>
<line x1="1869.4" y1="1881.5" x2="1874.4" y2="1881.5" stroke="#000" stroke-width="2"/>
<line x1="1869.4" y1="1787.8" x2="1874.4" y2="1787.8" stroke="#000" stroke-width="2"/>
<line x1="1869.4" y1="1694" x2="1874.4" y2="1694" stroke="#000" stroke-width="2"/>
<line x1="1874.4" y1="2059.3" x2="2136.6" y2="2059.3" stroke="#000" stroke-width="2"/>
<line x1="1939.6" y1="2059.3" x2="1939.6" y2="2068.3" stroke="#000" stroke-width="2"/>
<line x1="2070.1" y1="2059.3" x2="2070.1" y2="2068.3" stroke="#000" stroke-width="2"/>
<polygon points="1939.6,1730.2 1950.3,1740.9 1939.6,1751.7 1928.8,1740.9" fill="#000"/>
<polygon points="1921.8,1805.1 1932.5,1815.9 1921.8,1826.6 1911,1815.9" fill="#000"/>
<polygon points="1957.5,1805.1 1968.2,1815.9 1957.5,1826.6 1946.8,1815.9" fill="#000"/>
<polygon points="1910.3,1842.6 1921,1853.3 1910.3,1864.1 1899.5,1853.3" fill="#000"/>
<polygon points="1969.5,1842.6 1980.2,1853.3 1969.5,1864.1 1958.8,1853.3" fill="#000"/>
<polygon points="1939.6,1861.3 1950.3,1872.1 1939.6,1882.8 1928.8,1872.1" fill="#000"/>
<polygon points="1916.2,1880.1 1927,1890.8 1916.2,1901.6 1905.5,1890.8" fill="#000"/>
<polygon points="1960.4,1880.1 1971.2,1890.8 1960.4,1901.6 1949.7,1890.8" fill="#000"/>
<polygon points="1939.6,1898.8 1950.3,1909.6 1939.6,1920.3 1928.8,1909.6" fill="#000"/>
<polygon points="1939.6,1973.8 1950.3,1984.5 1939.6,1995.3 1928.8,1984.5" fill="#000"/>
<circle cx="2070.1" cy="1890.8" r="8.8" fill="#f52a1e"/>
<circle cx="2070.1" cy="1947" r="8.8" fill="#f52a1e"/>
<circle cx="2037.6" cy="1965.8" r="8.8" fill="#f52a1e"/>
<circle cx="2061.6" cy="1965.8" r="8.8" fill="#f52a1e"/>
<circle cx="2080.2" cy="1965.8" r="8.8" fill="#f52a1e"/>
<circle cx="2104.2" cy="1965.8" r="8.8" fill="#f52a1e"/>
<circle cx="2049.6" cy="1984.5" r="8.8" fill="#f52a1e"/>
<circle cx="2088.7" cy="1984.5" r="8.8" fill="#f52a1e"/>
<circle cx="2070.1" cy="2003.3" r="8.8" fill="#f52a1e"/>
<circle cx="2070.1" cy="2022" r="8.8" fill="#f52a1e"/>
<text x="1926.3" y="1698" font-size="29.5"><tspan font-style="italic">P</tspan> = 0.0002</text>
<line x1="1947.6" y1="1714" x2="2060.8" y2="1714" stroke="#000" stroke-width="2"/>
<text x="1901" y="2094" font-size="29.5">PBS</text>
<text x="2028.8" y="2094" font-size="29.5">SPEN<tspan dy="10" font-size="19">EE</tspan></text>
<text transform="translate(1818.4,1853) rotate(-90)" font-size="29.5" text-anchor="middle">Number of tumour</text>
</svg>
</body></html>
